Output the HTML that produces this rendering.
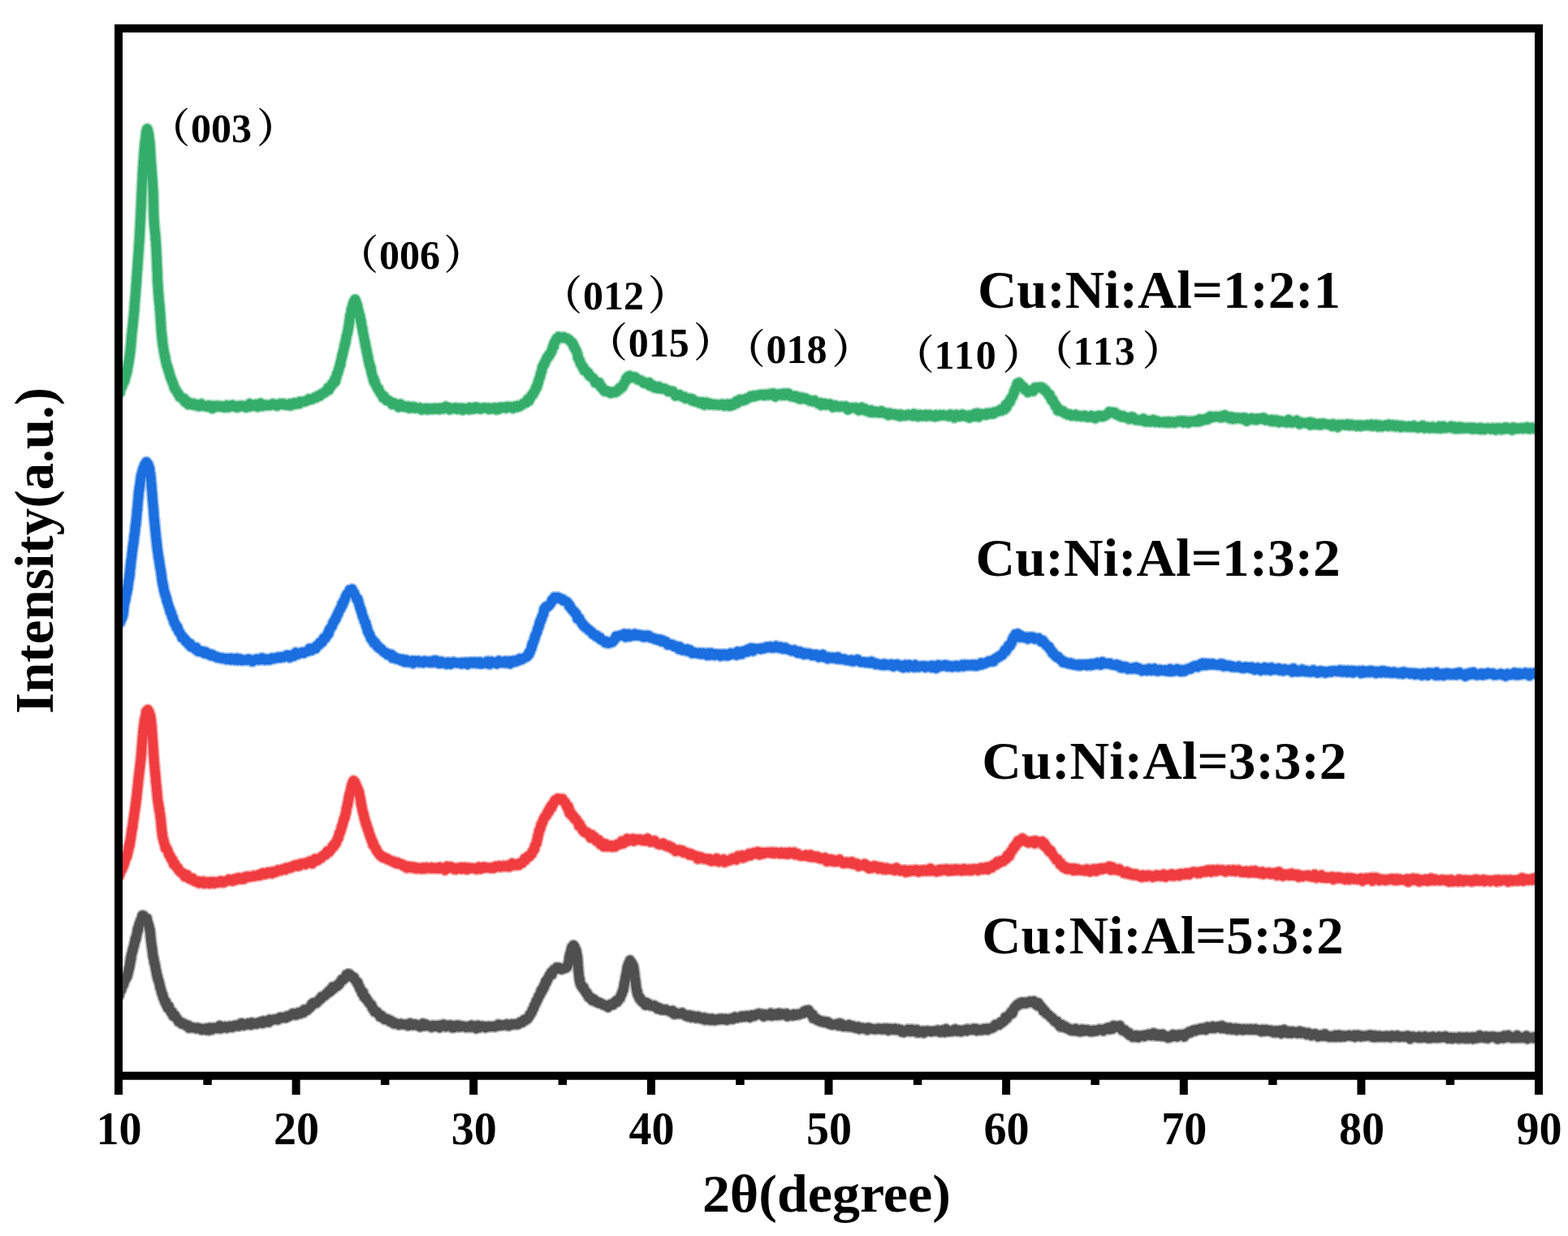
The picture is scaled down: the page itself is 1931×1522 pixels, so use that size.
<!DOCTYPE html>
<html><head><meta charset="utf-8"><title>XRD</title>
<style>
html,body{margin:0;padding:0;background:#fff;}
svg{display:block;}
.tk{font-family:"Liberation Serif", "Times New Roman", serif;font-weight:bold;font-size:56px;fill:#000;}
.lb{font-family:"Liberation Serif", "Times New Roman", serif;font-weight:bold;font-size:66px;fill:#000;}
.ml{font-family:"Liberation Serif", "Noto Serif CJK SC", serif;font-weight:bold;font-size:50px;fill:#000;}
.cj{font-family:"Liberation Serif", "Noto Serif CJK SC", serif;font-weight:bold;font-size:43px;fill:#000;}
.ax{font-family:"Liberation Serif", "Times New Roman", serif;font-weight:bold;font-size:65px;fill:#000;}
</style></head><body>
<svg width="1931" height="1522" viewBox="0 0 1931 1522">
<rect width="1931" height="1522" fill="#fff"/>
<clipPath id="pc"><rect x="141" y="30" width="1756" height="1300"/></clipPath><g clip-path="url(#pc)"><path d="M146.0,486.3 146.5,485.1 146.9,484.5 147.3,482.3 147.8,483.5 148.2,479.8 148.7,478.9 149.2,478.0 149.6,476.4 150.0,476.0 150.5,476.0 150.9,471.8 151.4,472.7 151.8,471.9 152.3,470.6 152.8,468.6 153.2,469.9 153.7,467.6 154.1,466.3 154.5,463.5 154.8,463.4 155.1,462.4 155.3,461.4 155.6,460.8 155.9,459.4 156.2,458.6 156.4,457.5 156.7,456.4 156.9,453.4 157.2,453.3 157.4,451.2 157.6,450.9 157.9,449.7 158.1,446.9 158.3,447.9 158.5,445.1 158.7,444.7 158.9,442.9 159.1,441.9 159.3,441.3 159.5,438.2 159.7,439.0 159.9,436.6 160.0,436.3 160.2,435.4 160.3,433.5 160.5,433.2 160.6,431.0 160.7,428.8 160.8,428.2 160.9,427.5 161.0,427.3 161.2,424.5 161.3,425.4 161.4,422.2 161.5,421.4 161.6,420.4 161.7,418.6 161.8,417.2 161.9,418.0 162.0,413.6 162.1,416.4 162.2,412.2 162.3,411.3 162.4,410.5 162.5,409.3 162.7,408.3 162.8,407.0 162.9,404.8 163.0,404.9 163.2,404.1 163.3,402.4 163.4,401.6 163.5,400.9 163.7,398.2 163.8,399.6 163.9,396.4 164.0,394.5 164.2,392.6 164.3,393.8 164.4,391.4 164.5,391.2 164.6,391.0 164.8,387.7 164.9,386.9 165.0,384.1 165.1,385.2 165.2,382.4 165.3,383.2 165.4,381.1 165.5,382.1 165.6,377.6 165.7,377.4 165.8,374.7 165.9,372.6 166.0,372.3 166.1,372.4 166.2,370.2 166.3,371.4 166.4,368.8 166.5,365.1 166.6,365.2 166.7,365.1 166.8,363.3 166.9,362.2 167.0,360.7 167.1,359.6 167.2,358.4 167.3,357.2 167.3,355.8 167.4,354.1 167.5,353.1 167.6,353.2 167.7,351.2 167.8,349.2 167.9,348.4 168.0,347.8 168.1,346.7 168.2,346.7 168.2,341.5 168.3,343.1 168.4,340.4 168.5,340.1 168.6,339.4 168.7,337.9 168.7,337.4 168.8,334.9 168.9,333.3 169.0,333.1 169.1,331.1 169.2,330.8 169.3,331.9 169.4,327.7 169.4,327.1 169.5,326.4 169.6,324.4 169.7,323.9 169.8,321.6 169.9,320.0 170.0,319.2 170.1,320.1 170.1,316.8 170.2,317.6 170.3,314.4 170.4,314.3 170.5,311.8 170.6,310.9 170.7,309.9 170.8,309.4 170.9,307.4 170.9,305.8 171.0,302.7 171.1,302.5 171.2,302.1 171.3,300.4 171.4,299.9 171.4,299.6 171.5,297.7 171.6,295.3 171.7,295.1 171.7,295.1 171.8,292.8 171.9,291.8 171.9,289.7 172.0,289.3 172.1,287.0 172.1,287.1 172.2,283.8 172.3,284.3 172.3,282.5 172.4,280.7 172.5,279.9 172.5,279.9 172.6,277.8 172.6,277.5 172.7,274.3 172.8,274.6 172.8,271.4 172.9,272.5 173.0,269.3 173.0,269.9 173.1,268.4 173.1,268.0 173.2,266.4 173.2,264.2 173.3,264.1 173.3,261.4 173.4,261.4 173.5,259.4 173.5,257.0 173.6,257.3 173.6,256.5 173.7,254.2 173.7,255.0 173.8,252.6 173.8,251.3 173.9,248.9 174.0,249.1 174.0,246.9 174.1,246.8 174.1,244.1 174.2,243.5 174.3,242.2 174.3,241.4 174.4,239.4 174.4,238.0 174.5,237.5 174.6,235.6 174.6,235.0 174.7,233.1 174.7,232.5 174.8,230.3 174.9,229.5 174.9,229.9 175.0,227.9 175.0,226.4 175.1,226.8 175.1,225.5 175.2,222.5 175.3,222.9 175.3,221.3 175.4,219.0 175.5,218.3 175.5,216.7 175.6,215.1 175.6,214.2 175.7,212.2 175.8,210.4 175.8,211.0 175.9,209.5 176.0,206.3 176.0,207.7 176.1,207.8 176.2,205.4 176.3,203.3 176.3,201.3 176.4,202.0 176.5,198.2 176.6,198.3 176.7,197.4 176.8,197.8 176.9,193.9 177.0,194.3 177.1,192.7 177.2,191.0 177.3,189.1 177.4,187.2 177.5,186.8 177.6,185.9 177.7,183.6 177.8,183.7 177.9,183.2 178.0,180.2 178.1,180.7 178.2,176.8 178.4,176.8 178.5,176.7 178.6,174.1 178.7,175.5 178.9,173.8 179.0,172.8 179.2,171.1 179.4,169.9 179.6,166.5 179.8,166.8 180.0,162.8 180.3,163.6 180.5,162.2 180.7,160.5 180.9,159.1 181.2,160.0 181.4,158.6 181.6,159.1 181.9,160.6 182.1,160.7 182.4,161.9 182.6,163.4 182.9,164.3 183.1,164.4 183.4,167.3 183.6,169.5 183.8,171.3 184.0,171.4 184.1,172.3 184.2,173.2 184.4,174.8 184.5,175.0 184.6,176.9 184.7,178.7 184.8,178.9 184.8,182.3 184.9,182.2 185.0,184.3 185.1,184.0 185.2,186.5 185.2,187.7 185.3,188.8 185.4,189.9 185.4,191.5 185.5,191.6 185.6,193.8 185.7,196.9 185.7,195.9 185.8,198.7 185.9,198.3 186.0,199.3 186.1,200.8 186.2,202.4 186.2,203.9 186.3,205.4 186.4,204.6 186.5,205.6 186.6,208.9 186.7,208.8 186.8,210.0 186.9,211.2 187.0,212.5 187.1,212.3 187.1,213.6 187.2,215.9 187.3,217.8 187.4,219.1 187.5,220.2 187.6,221.8 187.7,221.5 187.8,224.1 187.9,225.8 188.0,226.9 188.0,228.0 188.1,230.0 188.2,231.2 188.3,230.8 188.3,230.2 188.4,234.5 188.5,234.6 188.5,235.4 188.6,235.8 188.7,238.0 188.7,237.1 188.8,240.5 188.8,243.8 188.8,242.6 188.9,246.0 188.9,245.5 188.9,246.3 189.0,248.5 189.0,250.5 189.0,250.6 189.0,251.6 189.1,252.9 189.1,255.5 189.1,258.3 189.1,257.1 189.2,257.9 189.2,259.9 189.2,259.9 189.2,260.6 189.3,262.7 189.3,263.5 189.3,266.0 189.4,266.9 189.4,267.6 189.5,267.3 189.5,269.9 189.6,270.2 189.7,272.8 189.8,272.2 189.9,274.5 189.9,276.5 190.0,276.7 190.2,279.5 190.3,279.3 190.4,281.0 190.5,282.0 190.6,283.2 190.7,284.4 190.8,285.5 191.0,286.4 191.1,286.8 191.2,289.2 191.3,289.4 191.4,289.5 191.5,295.4 191.6,292.6 191.7,295.1 191.8,296.4 191.9,296.3 192.0,299.1 192.1,299.2 192.1,302.6 192.2,302.4 192.3,302.0 192.3,304.8 192.4,305.9 192.5,307.8 192.5,308.3 192.6,310.8 192.6,311.3 192.7,312.5 192.8,314.0 192.8,315.3 192.9,316.3 192.9,317.2 193.0,317.7 193.0,319.8 193.1,321.6 193.1,323.3 193.2,323.6 193.2,324.4 193.3,326.6 193.3,328.1 193.4,329.5 193.4,332.0 193.5,330.2 193.6,332.4 193.6,332.6 193.7,334.5 193.7,336.8 193.8,336.1 193.8,338.3 193.9,339.5 193.9,340.8 193.9,340.6 194.0,344.8 194.0,345.5 194.1,345.9 194.1,348.3 194.2,347.2 194.3,348.6 194.3,350.4 194.4,349.8 194.5,352.0 194.6,352.5 194.6,353.7 194.7,355.0 194.8,358.1 194.9,360.0 195.0,358.8 195.1,361.6 195.2,362.2 195.3,364.3 195.4,364.2 195.5,364.8 195.6,368.5 195.7,369.4 195.8,369.0 195.9,370.8 196.0,371.4 196.1,372.1 196.2,374.8 196.4,374.3 196.5,377.0 196.6,376.2 196.7,380.1 196.8,381.5 196.9,380.3 197.0,383.5 197.1,385.0 197.2,385.7 197.3,386.1 197.4,385.7 197.5,388.9 197.6,389.7 197.7,391.2 197.7,392.8 197.8,394.8 197.9,394.8 198.0,397.6 198.1,398.3 198.1,398.3 198.2,399.7 198.3,402.0 198.4,403.8 198.5,403.6 198.6,407.2 198.6,407.2 198.7,407.8 198.8,408.9 198.9,410.3 199.0,410.5 199.2,411.6 199.3,413.9 199.4,413.1 199.5,417.7 199.7,415.8 199.8,417.4 200.0,418.8 200.1,421.1 200.3,422.6 200.5,425.6 200.6,424.8 200.8,425.8 201.0,427.3 201.2,429.0 201.4,429.2 201.6,432.4 201.8,432.4 202.0,434.4 202.2,434.0 202.5,435.3 202.7,436.7 202.9,439.4 203.1,438.1 203.4,439.5 203.6,440.6 203.9,443.9 204.1,444.4 204.4,445.2 204.7,446.8 205.0,447.4 205.3,450.0 205.6,450.4 205.9,450.5 206.2,452.1 206.6,452.2 206.9,455.1 207.3,455.3 207.6,455.9 208.0,457.0 208.3,458.4 208.7,460.3 209.0,461.1 209.4,462.0 209.8,464.6 210.2,464.3 210.6,466.5 211.0,467.0 211.5,468.1 211.9,469.2 212.4,470.9 212.8,471.9 213.3,472.6 213.7,473.8 214.2,476.0 214.7,477.5 215.2,479.0 215.7,478.4 216.3,480.2 216.8,480.8 217.5,481.2 218.1,482.8 218.8,484.4 219.6,485.0 220.3,485.5 221.2,488.6 222.0,488.5 222.9,489.0 223.8,490.4 224.7,490.2 225.7,492.1 226.7,490.8 227.7,494.9 228.7,494.2 229.8,493.5 230.9,497.2 232.0,498.3 233.1,495.9 234.2,495.9 235.3,497.7 236.5,497.4 237.7,498.8 239.0,497.0 240.2,497.5 241.5,499.5 242.8,498.3 244.0,500.3 245.3,500.3 246.6,498.0 247.9,497.3 249.2,498.8 250.5,500.0 251.7,499.6 252.9,500.3 254.1,500.8 255.3,500.9 256.5,499.1 257.7,501.3 258.9,499.9 260.2,499.4 261.4,503.1 262.6,500.8 263.8,500.0 265.0,501.0 266.3,499.6 267.5,501.0 268.8,499.6 270.1,500.3 271.4,500.9 272.6,500.9 273.8,500.1 275.0,500.8 276.2,501.8 277.5,500.7 278.8,499.1 280.1,500.9 281.3,501.7 282.6,499.5 283.9,500.5 285.2,498.9 286.5,498.8 287.8,500.8 289.1,500.7 290.4,499.9 291.7,501.8 292.9,501.6 294.1,500.7 295.4,499.4 296.5,500.4 297.7,499.9 299.0,499.5 300.3,500.0 301.5,499.9 302.7,501.8 303.9,499.9 305.1,500.3 306.2,501.1 307.4,497.1 308.6,497.7 309.8,500.2 311.0,499.1 312.2,498.7 313.5,500.0 314.9,497.8 316.3,500.5 317.3,501.2 318.4,499.5 319.5,498.9 320.7,496.5 321.8,499.9 323.0,500.1 324.3,497.9 325.5,499.4 326.8,499.0 328.1,499.3 329.4,498.6 330.7,498.8 332.0,499.2 333.3,499.1 334.7,498.3 336.0,497.1 337.3,497.9 338.6,497.8 339.9,499.5 341.2,499.8 342.5,498.0 343.7,498.3 344.9,497.1 346.1,497.9 347.3,497.0 348.4,498.2 349.5,497.1 350.5,498.4 351.5,498.9 352.5,498.8 353.9,498.4 355.3,499.2 356.6,497.1 357.8,499.4 359.0,498.0 360.2,497.9 361.3,497.3 362.4,496.0 363.5,497.9 364.7,496.4 365.8,497.3 367.0,497.3 368.2,497.3 369.4,494.4 370.7,494.9 371.9,494.5 373.1,494.8 374.4,494.2 375.6,494.4 376.8,493.6 378.0,493.6 379.2,493.0 380.3,491.4 381.5,491.8 382.7,492.1 383.9,491.5 385.0,491.5 386.2,490.4 387.4,489.4 388.5,489.8 389.6,489.7 390.7,488.9 391.8,487.2 392.9,487.4 394.0,487.6 395.1,486.4 396.1,484.8 397.2,484.7 398.3,484.3 399.3,484.0 400.3,482.2 401.3,482.4 402.3,480.6 403.2,480.4 404.1,477.2 405.0,480.2 405.9,478.0 406.7,477.5 407.5,475.1 408.3,474.3 409.0,472.3 409.7,473.5 410.4,471.9 411.0,469.9 411.7,469.9 412.3,466.8 412.8,470.1 413.3,468.6 413.7,464.9 414.1,463.4 414.5,464.3 414.9,460.4 415.3,460.2 415.6,459.0 416.0,458.8 416.3,459.0 416.6,457.1 417.0,454.5 417.3,455.2 417.7,453.3 418.0,451.7 418.3,451.5 418.6,449.5 419.0,447.6 419.3,449.2 419.6,445.2 419.9,444.4 420.2,443.6 420.5,441.2 420.8,439.9 421.1,438.5 421.4,439.5 421.6,436.4 421.9,435.2 422.2,435.4 422.5,434.3 422.8,432.2 423.1,430.7 423.4,429.6 423.7,429.1 423.9,428.3 424.2,425.0 424.5,425.9 424.8,424.5 425.1,422.0 425.3,420.9 425.6,421.7 425.9,418.0 426.2,417.6 426.4,416.6 426.7,413.7 427.0,412.9 427.2,412.5 427.5,411.4 427.8,410.9 428.0,408.4 428.3,408.8 428.5,406.4 428.7,405.2 429.0,403.1 429.2,403.6 429.4,401.6 429.6,400.1 429.8,398.6 430.0,397.8 430.2,394.6 430.3,395.6 430.5,393.3 430.7,393.1 430.9,389.9 431.1,389.7 431.3,391.0 431.5,387.6 431.8,387.5 432.0,386.8 432.2,385.3 432.5,384.4 432.8,380.3 433.2,381.2 433.6,379.7 434.0,377.2 434.3,376.0 434.7,374.3 435.2,373.5 435.6,371.6 436.0,371.0 436.4,372.7 436.8,371.5 437.2,368.7 437.6,368.9 437.9,370.3 438.3,371.7 438.6,371.7 439.0,373.0 439.4,374.4 439.8,375.4 440.2,376.0 440.5,379.8 440.9,380.5 441.3,381.8 441.6,382.9 442.0,385.0 442.3,386.7 442.7,388.3 443.0,390.1 443.3,388.5 443.6,391.4 443.9,395.0 444.1,392.6 444.4,394.4 444.6,395.4 444.9,396.4 445.1,400.0 445.3,399.5 445.5,402.2 445.7,402.2 446.0,403.1 446.2,404.8 446.4,404.3 446.6,407.3 446.8,409.3 447.1,408.9 447.3,411.6 447.5,411.8 447.8,413.1 448.0,413.9 448.2,415.2 448.5,417.5 448.7,417.3 448.9,419.8 449.2,419.5 449.4,422.6 449.7,421.9 449.9,423.3 450.1,426.7 450.4,426.2 450.6,427.5 450.9,428.7 451.1,429.5 451.4,432.9 451.6,431.1 451.9,434.1 452.1,434.9 452.4,437.2 452.6,438.0 452.9,437.6 453.1,440.4 453.4,439.8 453.6,443.8 453.9,444.1 454.1,445.2 454.4,445.2 454.7,448.8 454.9,447.5 455.2,448.3 455.5,449.5 455.8,452.0 456.1,452.3 456.4,453.9 456.7,452.6 457.0,455.7 457.4,458.4 457.7,459.5 458.1,461.1 458.4,461.9 458.8,463.0 459.1,464.4 459.5,466.0 459.9,468.2 460.3,466.1 460.7,470.8 461.1,470.2 461.5,469.2 462.0,471.4 462.5,473.6 463.0,474.0 463.5,475.2 464.1,476.5 464.7,477.5 465.3,479.3 466.0,478.5 466.6,480.1 467.3,482.1 468.0,483.0 468.8,484.7 469.5,485.2 470.3,486.4 471.0,487.2 471.8,489.8 472.6,487.5 473.5,488.9 474.3,490.5 475.2,490.8 476.1,493.1 477.0,493.1 478.0,493.6 478.9,493.4 479.9,494.5 480.9,494.6 482.0,495.5 483.0,498.1 484.1,497.6 485.3,496.3 486.5,498.2 487.7,498.2 488.7,499.2 489.7,497.9 490.8,501.4 491.9,498.1 493.0,497.5 494.1,500.6 495.3,499.1 496.5,500.1 497.7,501.3 498.9,500.4 500.1,501.0 501.4,501.7 502.7,500.3 504.0,502.6 505.3,502.1 506.6,502.5 507.9,500.8 509.2,501.7 510.6,501.2 511.9,502.7 513.2,502.3 514.6,502.4 515.7,502.8 516.8,502.0 518.0,502.7 519.1,504.5 520.3,503.5 521.4,503.0 522.6,502.9 523.8,503.1 525.0,502.8 526.2,504.6 527.4,502.7 528.7,504.0 529.9,504.1 531.1,503.0 532.4,504.0 533.6,503.4 534.9,502.7 536.2,503.8 537.4,502.7 538.7,503.1 540.0,502.6 541.2,504.3 542.5,502.4 543.8,502.7 545.0,502.9 546.3,503.4 547.5,502.7 548.8,500.6 550.0,501.8 551.3,501.5 552.5,501.6 553.8,504.3 555.0,503.9 556.2,503.4 557.5,502.8 558.7,502.6 559.9,503.1 561.2,502.1 562.4,502.9 563.6,504.0 564.9,502.4 566.1,503.8 567.3,502.6 568.6,502.6 569.8,505.0 571.1,502.7 572.3,502.7 573.5,503.3 574.8,503.0 576.0,503.8 577.2,504.4 578.5,501.7 579.7,503.0 580.9,504.0 582.2,502.0 583.4,502.8 584.6,503.5 585.8,501.2 587.0,502.4 588.2,501.8 589.5,503.1 590.7,502.7 591.8,503.7 593.0,503.1 594.2,502.8 595.4,502.2 596.7,502.0 598.0,502.3 599.3,502.9 600.7,502.4 602.0,504.0 603.4,502.7 604.7,503.6 606.1,503.5 607.5,502.7 608.8,501.9 610.2,502.3 611.5,504.5 612.9,503.4 614.2,504.0 615.5,501.4 616.8,501.5 618.0,502.4 619.3,501.5 620.5,501.6 621.7,501.4 622.9,502.7 624.0,500.9 625.1,501.1 626.2,501.5 627.2,500.7 628.2,501.1 629.1,501.1 630.0,501.6 631.5,502.8 632.9,501.8 634.2,500.2 635.4,501.6 636.6,501.5 637.7,499.6 638.8,500.0 640.0,500.4 641.1,499.5 642.2,498.6 643.4,498.2 644.5,496.7 645.6,496.4 646.7,495.4 647.8,496.1 648.8,494.3 649.8,491.7 650.8,493.4 651.6,493.6 652.4,489.9 653.1,488.7 653.8,489.1 654.5,487.2 655.2,486.0 655.9,486.3 656.6,485.5 657.2,483.4 657.8,483.3 658.4,481.9 659.0,480.9 659.5,478.8 660.1,476.9 660.6,476.8 661.0,477.3 661.5,475.6 661.9,473.8 662.3,471.8 662.7,472.0 663.1,470.6 663.5,467.7 663.8,467.5 664.2,466.1 664.6,465.0 665.0,464.5 665.3,463.1 665.7,460.6 666.0,460.0 666.4,458.5 666.7,458.3 667.1,457.1 667.4,455.5 667.8,453.1 668.1,451.3 668.5,452.0 668.9,450.1 669.4,449.1 669.9,448.2 670.4,448.6 670.9,446.6 671.5,444.8 672.0,444.9 672.6,443.2 673.2,441.9 673.8,440.1 674.4,440.9 675.1,439.2 675.8,437.1 676.5,438.1 677.1,435.9 677.8,435.6 678.4,434.7 679.0,432.6 679.6,432.1 680.1,429.7 680.6,427.9 681.0,426.2 681.5,426.6 682.0,426.9 682.4,423.1 682.9,421.5 683.4,421.2 684.1,420.6 684.7,418.6 685.4,417.0 686.1,417.0 687.0,417.5 688.1,414.6 689.3,415.1 690.6,415.2 692.0,415.2 693.1,416.1 694.2,415.1 695.4,415.7 696.7,416.2 698.0,416.6 699.2,417.7 700.3,418.0 701.4,418.8 702.3,420.3 703.1,420.8 703.9,421.3 704.6,421.7 705.3,424.1 706.0,424.1 706.6,427.3 707.3,427.1 707.9,429.6 708.6,429.9 709.1,430.3 709.6,432.0 710.0,432.7 710.5,434.2 710.9,435.0 711.3,435.9 711.7,440.8 712.2,440.5 712.6,441.2 713.0,442.8 713.4,443.9 713.9,443.6 714.4,445.8 714.8,448.0 715.4,447.7 715.9,449.0 716.6,449.4 717.3,452.2 718.0,451.5 718.7,452.5 719.4,456.3 720.2,455.5 721.0,456.3 721.8,457.0 722.6,457.5 723.4,459.1 724.3,459.1 725.1,461.2 725.9,462.9 726.8,462.5 727.6,464.0 728.5,464.8 729.4,465.1 730.4,465.6 731.3,466.8 732.2,468.1 733.2,471.5 734.1,470.9 735.0,471.2 735.9,471.3 736.8,472.1 737.7,471.0 738.7,472.9 739.7,476.5 740.7,477.1 741.6,477.0 742.6,479.1 743.5,480.4 744.5,481.7 745.5,480.9 746.4,482.1 747.5,481.4 748.5,481.8 749.7,481.9 750.9,483.5 752.1,484.2 753.4,483.9 754.6,482.5 755.9,483.1 757.1,482.9 758.2,483.1 759.3,481.3 760.3,481.9 761.3,480.2 762.2,478.5 763.1,479.6 763.9,477.1 764.8,477.3 765.6,476.3 766.4,476.9 767.3,474.1 768.1,473.9 768.9,471.3 769.6,470.5 770.3,469.7 771.0,466.3 771.8,468.0 772.6,467.1 773.4,463.5 774.4,464.6 775.4,462.7 776.3,464.1 777.4,464.4 778.4,465.0 779.6,464.9 780.7,464.4 781.9,464.3 783.2,465.1 784.4,467.0 785.7,467.4 786.9,468.0 788.1,468.0 789.3,468.9 790.5,468.9 791.6,470.1 792.8,471.8 793.9,471.9 795.1,471.1 796.2,471.7 797.3,472.9 798.4,472.0 799.5,471.0 800.5,475.2 801.6,474.3 802.7,474.2 803.9,474.3 805.0,475.9 806.2,477.6 807.4,477.7 808.7,476.2 809.9,478.2 811.1,475.9 812.4,478.4 813.6,478.5 814.8,477.9 816.1,478.9 817.3,478.7 818.5,478.4 819.6,479.1 820.8,479.8 821.9,480.8 823.0,482.0 824.1,481.1 825.3,482.3 826.4,481.9 827.5,483.0 828.6,481.8 829.7,484.1 830.9,484.5 832.0,487.5 833.2,485.7 834.4,486.7 835.6,486.8 836.9,485.9 838.1,487.4 839.3,488.4 840.5,488.2 841.7,489.3 843.0,488.5 844.2,490.7 845.4,489.9 846.5,490.4 847.7,490.6 848.8,491.1 849.9,491.4 851.0,490.7 852.1,493.4 853.3,491.7 854.4,492.8 855.5,494.1 856.6,494.7 857.8,494.6 858.9,495.1 860.1,494.8 861.3,496.4 862.6,496.3 863.8,496.2 865.0,495.0 866.2,498.0 867.5,498.6 868.7,497.2 869.9,495.5 871.2,497.5 872.4,497.4 873.6,498.4 874.8,497.0 876.0,497.6 877.2,497.5 878.5,498.5 879.7,497.7 880.9,497.9 882.1,498.1 883.3,498.7 884.6,498.2 885.8,498.9 887.0,498.5 888.2,498.0 889.4,497.5 890.6,498.3 891.8,499.9 893.0,498.3 894.2,499.1 895.5,497.5 896.7,499.3 897.8,500.1 899.0,497.6 900.2,499.7 901.4,499.2 902.5,497.0 903.6,498.6 904.7,497.6 905.8,496.1 906.9,494.0 908.0,496.4 909.1,494.9 910.2,492.7 911.4,491.9 912.5,493.5 913.7,493.3 914.8,493.5 915.9,492.8 917.1,491.5 918.2,492.5 919.4,490.4 920.5,490.4 921.7,490.2 922.9,489.3 924.1,488.0 925.3,488.7 926.5,488.7 927.7,487.2 928.9,487.0 930.0,488.0 931.2,487.2 932.4,486.8 933.7,487.0 934.9,486.4 936.1,486.0 937.3,485.8 938.5,485.7 939.8,486.6 941.0,487.1 942.2,485.7 943.5,486.6 944.7,485.5 946.0,486.8 947.3,485.6 948.5,484.9 949.7,486.2 950.9,485.7 952.2,484.3 953.5,486.5 954.7,488.5 956.0,486.7 957.3,486.2 958.6,485.2 959.8,485.7 961.1,484.9 962.4,486.9 963.7,486.1 965.0,484.5 966.2,486.9 967.5,484.8 968.7,484.4 969.9,486.0 971.1,484.5 972.3,487.0 973.5,488.0 974.7,487.4 975.8,487.5 977.0,488.7 978.2,487.4 979.4,489.3 980.6,487.8 981.8,489.7 983.0,488.7 984.1,491.2 985.3,491.4 986.5,490.3 987.7,489.5 988.9,490.6 990.1,491.0 991.3,490.7 992.5,490.5 993.6,491.9 994.8,492.3 996.0,492.2 997.2,493.6 998.4,493.0 999.6,493.4 1000.8,494.3 1001.9,493.7 1003.1,493.1 1004.3,494.7 1005.5,495.3 1006.7,496.0 1007.9,497.1 1009.1,496.9 1010.3,495.9 1011.4,499.1 1012.6,496.6 1013.7,498.0 1014.9,497.4 1016.1,496.7 1017.2,498.7 1018.4,497.6 1019.6,498.3 1020.7,498.4 1021.9,497.4 1023.1,499.1 1024.4,498.8 1025.6,501.5 1026.8,500.0 1028.1,500.7 1029.2,499.3 1030.4,500.8 1031.6,500.6 1032.8,500.6 1034.0,501.1 1035.3,500.2 1036.5,500.6 1037.8,500.8 1039.0,500.4 1040.3,500.9 1041.5,500.4 1042.8,501.4 1044.1,504.4 1045.3,503.9 1046.6,502.3 1047.8,502.4 1049.1,502.1 1050.3,502.1 1051.5,502.5 1052.7,502.3 1053.9,501.8 1055.0,503.7 1056.3,503.0 1057.5,505.4 1058.7,503.2 1060.0,504.1 1061.2,501.6 1062.3,504.8 1063.5,504.7 1064.7,502.9 1065.9,504.7 1067.0,506.1 1068.2,505.3 1069.3,506.1 1070.5,507.4 1071.7,506.8 1072.8,504.9 1074.0,508.0 1075.2,506.4 1076.5,507.9 1077.7,507.3 1079.0,506.6 1080.2,507.6 1081.5,508.2 1082.8,507.3 1084.0,508.3 1085.3,506.1 1086.6,508.2 1087.8,507.6 1089.1,507.8 1090.3,509.4 1091.6,508.6 1092.9,509.7 1094.1,511.2 1095.4,508.5 1096.7,509.2 1097.9,510.5 1099.2,510.2 1100.4,510.7 1101.7,509.8 1103.0,511.3 1104.2,511.3 1105.5,510.4 1106.8,512.2 1108.0,512.6 1109.3,510.3 1110.5,512.1 1111.8,511.2 1113.1,511.9 1114.3,511.3 1115.6,511.9 1116.9,511.2 1118.1,510.4 1119.3,510.7 1120.5,511.2 1121.7,511.2 1122.9,512.0 1124.1,512.3 1125.4,509.5 1126.6,510.6 1127.8,510.3 1129.1,511.3 1130.4,513.1 1131.7,511.5 1133.0,510.7 1134.4,511.8 1135.8,512.4 1136.9,511.2 1138.0,512.0 1139.1,511.9 1140.3,510.5 1141.4,512.7 1142.6,511.1 1143.8,511.6 1145.0,510.8 1146.3,512.1 1147.5,512.3 1148.7,512.5 1150.0,511.6 1151.3,513.2 1152.6,510.8 1153.8,511.6 1155.1,512.4 1156.4,511.7 1157.7,510.9 1159.0,511.8 1160.3,511.4 1161.6,510.7 1162.8,511.4 1164.1,511.6 1165.4,511.6 1166.7,512.2 1167.9,512.7 1169.2,512.1 1170.4,510.3 1171.6,510.7 1172.8,511.5 1174.1,511.6 1175.3,514.5 1176.6,511.6 1177.8,510.4 1179.1,511.8 1180.3,511.4 1181.6,512.9 1182.8,511.3 1184.1,512.5 1185.3,510.3 1186.6,511.6 1187.8,512.1 1189.1,512.8 1190.3,511.7 1191.5,512.5 1192.7,512.5 1193.9,514.4 1195.1,511.2 1196.3,511.4 1197.5,512.5 1198.6,511.5 1199.7,512.9 1200.9,509.2 1202.0,510.8 1203.0,512.7 1204.1,508.7 1205.4,513.4 1206.7,511.2 1208.0,509.6 1209.3,510.7 1210.6,510.1 1211.8,510.1 1213.0,509.5 1214.2,511.1 1215.4,508.7 1216.6,510.2 1217.7,509.1 1218.9,508.6 1220.0,509.7 1221.1,509.3 1222.2,509.2 1223.2,509.5 1224.3,507.5 1225.6,508.0 1226.8,507.5 1228.0,506.6 1229.2,506.6 1230.4,506.0 1231.5,505.0 1232.7,503.9 1233.7,505.7 1234.8,503.2 1235.8,503.6 1236.8,504.5 1237.7,501.7 1238.6,498.6 1239.5,501.8 1240.3,497.0 1241.1,498.6 1241.8,495.9 1242.6,495.1 1243.2,493.4 1243.9,494.9 1244.6,491.0 1245.2,491.1 1245.8,489.8 1246.4,488.6 1247.0,488.4 1247.5,486.8 1248.0,485.0 1248.5,484.5 1249.0,481.6 1249.5,482.3 1249.9,480.8 1250.3,479.9 1250.8,477.5 1251.2,478.0 1251.8,477.0 1252.3,473.5 1252.8,472.0 1253.4,471.8 1254.2,472.2 1254.9,471.1 1255.6,471.8 1256.4,475.3 1257.3,473.8 1258.2,475.8 1259.1,475.4 1260.1,478.0 1261.0,477.0 1262.0,479.9 1263.3,479.3 1264.6,480.3 1265.9,483.1 1267.3,480.8 1268.7,480.6 1270.0,481.3 1271.2,481.4 1272.3,481.7 1273.5,479.4 1274.6,477.3 1275.8,477.7 1276.9,477.1 1278.1,477.5 1279.3,477.3 1280.4,476.8 1281.6,477.7 1282.8,476.9 1284.0,477.6 1285.1,478.2 1286.2,480.4 1287.0,480.3 1287.8,480.6 1288.6,482.1 1289.3,483.2 1290.0,484.3 1290.7,484.4 1291.4,486.7 1292.1,486.5 1292.8,485.9 1293.6,489.8 1294.3,490.2 1295.0,492.8 1295.7,492.9 1296.3,491.9 1297.0,494.2 1297.6,495.9 1298.3,496.3 1299.0,497.3 1299.7,500.1 1300.4,498.9 1301.1,501.5 1301.9,501.3 1302.8,505.7 1303.7,503.1 1304.7,505.4 1305.6,506.2 1306.7,506.4 1307.8,507.2 1308.9,506.0 1310.0,507.5 1311.2,509.0 1312.3,508.5 1313.5,509.4 1314.8,510.7 1316.0,510.1 1317.2,509.9 1318.5,511.4 1319.7,512.0 1320.9,511.8 1322.1,511.2 1323.3,511.4 1324.6,510.4 1325.9,512.6 1327.1,512.0 1328.4,512.3 1329.8,512.0 1331.1,512.9 1332.4,512.7 1333.7,512.8 1334.9,511.8 1336.2,511.8 1337.5,512.6 1338.7,513.8 1340.0,513.8 1341.3,513.5 1342.6,512.9 1343.9,512.0 1345.1,512.9 1346.4,514.3 1347.7,513.1 1348.9,515.2 1350.2,512.9 1351.4,512.3 1352.6,511.8 1353.9,512.9 1355.0,511.7 1356.2,512.6 1357.5,513.2 1358.8,511.9 1360.1,512.4 1361.4,510.8 1362.6,510.6 1363.8,510.5 1365.0,508.4 1366.2,507.0 1367.4,508.3 1368.6,507.9 1369.7,507.6 1370.9,507.7 1372.0,508.1 1373.1,508.0 1374.2,510.3 1375.2,509.8 1376.3,511.0 1377.5,510.8 1378.7,512.5 1380.0,512.3 1381.0,513.4 1382.0,512.3 1383.1,512.1 1384.1,513.1 1385.3,514.1 1386.4,514.1 1387.5,513.7 1388.7,514.3 1389.9,516.0 1391.1,514.3 1392.4,515.9 1393.6,513.2 1394.9,513.5 1396.2,515.4 1397.5,515.4 1398.9,517.3 1400.2,517.0 1401.3,516.9 1402.3,517.6 1403.4,517.0 1404.5,517.2 1405.7,517.9 1406.8,517.7 1408.0,515.4 1409.2,518.8 1410.4,519.2 1411.6,519.4 1412.8,518.4 1414.0,517.9 1415.3,517.8 1416.5,519.6 1417.7,518.3 1419.0,518.8 1420.2,516.7 1421.5,518.3 1422.8,519.8 1424.0,519.1 1425.3,518.4 1426.5,519.3 1427.8,520.2 1429.0,519.9 1430.2,519.7 1431.5,519.6 1432.7,520.1 1433.9,519.3 1435.1,519.7 1436.3,520.5 1437.5,519.4 1438.8,519.0 1440.0,520.7 1441.3,520.1 1442.5,519.3 1443.8,520.2 1445.0,520.2 1446.3,520.7 1447.5,520.3 1448.8,519.0 1450.0,519.6 1451.2,518.6 1452.5,518.9 1453.7,519.2 1454.9,518.1 1456.1,518.4 1457.3,520.5 1458.5,519.3 1459.7,518.3 1460.9,518.9 1462.0,519.6 1463.2,520.8 1464.3,520.0 1465.4,518.8 1466.4,519.4 1467.5,518.9 1468.8,518.7 1470.1,519.2 1471.4,518.6 1472.7,517.9 1473.9,519.4 1475.1,518.9 1476.3,519.1 1477.5,516.1 1478.7,517.0 1479.8,518.3 1480.9,516.5 1482.1,517.1 1483.2,517.0 1484.3,515.7 1485.5,515.5 1486.6,516.8 1487.7,515.8 1489.0,515.6 1490.3,512.6 1491.5,514.5 1492.7,513.2 1493.9,513.8 1495.1,513.5 1496.3,513.4 1497.5,512.8 1498.7,513.1 1500.0,513.2 1501.2,513.5 1502.6,514.2 1503.9,512.4 1505.0,512.9 1506.1,513.9 1507.3,512.1 1508.4,511.3 1509.6,512.6 1510.8,512.3 1512.0,513.1 1513.2,514.7 1514.4,515.4 1515.6,514.8 1516.8,513.2 1518.1,516.1 1519.3,515.1 1520.6,514.5 1521.8,515.6 1523.1,514.4 1524.3,514.7 1525.6,514.4 1526.9,514.9 1528.1,515.8 1529.3,514.5 1530.5,514.4 1531.7,516.6 1532.9,514.2 1534.1,516.2 1535.3,518.6 1536.5,516.7 1537.8,515.9 1539.0,515.8 1540.2,516.5 1541.5,515.0 1542.7,515.7 1543.9,515.9 1545.2,517.0 1546.4,515.5 1547.6,517.2 1548.9,515.5 1550.1,516.1 1551.3,515.4 1552.5,516.1 1553.8,515.8 1555.0,514.6 1556.2,514.5 1557.5,515.5 1558.7,517.6 1559.9,516.6 1561.1,517.3 1562.4,517.5 1563.6,518.1 1564.8,518.7 1566.0,516.7 1567.3,518.9 1568.5,519.0 1569.7,517.2 1571.0,517.4 1572.2,517.3 1573.4,518.4 1574.6,520.2 1575.9,519.2 1577.1,518.3 1578.3,518.8 1579.5,519.4 1580.8,519.0 1582.0,519.2 1583.2,519.8 1584.4,520.4 1585.7,519.2 1586.9,516.8 1588.1,519.9 1589.3,519.2 1590.6,520.6 1591.8,520.6 1593.0,519.0 1594.2,519.5 1595.5,519.1 1596.7,517.6 1597.9,519.7 1599.1,520.2 1600.3,522.2 1601.6,519.8 1602.8,521.0 1604.0,520.4 1605.2,520.6 1606.5,520.9 1607.7,520.8 1608.9,521.3 1610.1,521.0 1611.3,520.7 1612.5,519.7 1613.7,523.4 1614.9,520.1 1616.1,521.8 1617.3,522.8 1618.5,521.0 1619.7,522.7 1620.9,522.8 1622.1,522.1 1623.3,522.5 1624.5,523.3 1625.7,521.5 1626.9,523.3 1628.2,521.8 1629.4,521.2 1630.7,521.8 1631.9,522.1 1633.2,522.2 1634.5,522.7 1635.8,522.8 1636.9,522.8 1638.0,522.8 1639.2,523.1 1640.3,524.8 1641.5,522.1 1642.6,523.3 1643.8,524.8 1645.0,523.2 1646.2,524.2 1647.3,525.9 1648.5,522.8 1649.7,524.0 1650.9,523.5 1652.1,523.2 1653.3,522.8 1654.6,523.1 1655.8,523.2 1657.0,523.8 1658.2,523.3 1659.5,522.4 1660.7,523.3 1661.9,524.1 1663.2,523.7 1664.4,522.8 1665.7,523.9 1666.9,523.6 1668.2,523.4 1669.4,524.1 1670.7,524.9 1671.9,523.6 1673.1,523.5 1674.2,524.0 1675.4,525.0 1676.6,523.4 1677.7,523.4 1678.9,524.2 1680.1,524.1 1681.3,524.0 1682.5,524.0 1683.7,523.1 1684.9,523.5 1686.1,524.1 1687.3,524.1 1688.5,522.6 1689.7,524.8 1690.9,524.8 1692.1,524.1 1693.3,523.3 1694.5,522.8 1695.7,524.4 1697.0,525.6 1698.2,524.7 1699.4,523.7 1700.6,524.4 1701.8,525.3 1703.0,524.3 1704.2,524.2 1705.5,524.3 1706.7,523.4 1707.9,524.3 1709.1,525.0 1710.3,522.6 1711.5,524.8 1712.7,523.4 1713.9,523.5 1715.1,523.1 1716.4,525.1 1717.6,525.0 1718.8,525.4 1720.1,523.6 1721.3,525.0 1722.5,525.2 1723.8,524.3 1725.0,526.3 1726.2,524.1 1727.5,524.6 1728.7,525.5 1729.9,525.2 1731.2,525.1 1732.4,525.8 1733.6,525.2 1734.8,524.8 1736.1,525.9 1737.3,526.1 1738.5,525.0 1739.8,526.1 1741.0,524.1 1742.2,525.1 1743.5,525.4 1744.7,525.5 1745.9,527.0 1747.2,525.7 1748.4,526.3 1749.6,525.1 1750.9,526.2 1752.1,523.9 1753.3,526.5 1754.6,527.3 1755.8,526.6 1757.0,525.8 1758.2,525.6 1759.4,526.2 1760.6,527.5 1761.8,526.3 1763.0,526.0 1764.2,525.5 1765.4,527.2 1766.6,527.3 1767.8,526.9 1769.0,526.5 1770.2,527.5 1771.4,527.5 1772.6,524.8 1773.8,527.8 1775.0,527.0 1776.2,526.1 1777.4,524.8 1778.6,526.9 1779.8,527.3 1781.0,526.5 1782.2,526.3 1783.4,526.8 1784.6,526.3 1785.8,525.8 1787.0,524.8 1788.2,526.5 1789.4,527.4 1790.6,526.0 1791.8,525.4 1793.0,528.1 1794.2,528.0 1795.4,526.5 1796.6,528.0 1797.8,525.5 1799.0,527.6 1800.3,527.7 1801.5,526.5 1802.7,527.2 1803.9,527.6 1805.1,527.5 1806.3,526.4 1807.5,526.6 1808.7,526.9 1809.9,527.8 1811.1,526.5 1812.3,527.4 1813.5,528.6 1814.7,526.4 1815.9,526.9 1817.1,527.1 1818.3,528.3 1819.6,527.8 1820.8,527.8 1822.0,526.8 1823.2,528.9 1824.4,526.7 1825.7,527.9 1826.9,527.7 1828.1,529.1 1829.4,527.8 1830.6,527.3 1831.9,527.0 1833.2,527.6 1834.5,527.7 1835.8,528.6 1837.1,528.1 1838.4,527.2 1839.7,528.1 1840.8,527.9 1842.0,529.5 1843.1,527.1 1844.3,528.2 1845.4,528.1 1846.6,527.1 1847.8,528.0 1848.9,529.1 1850.1,527.4 1851.3,527.3 1852.5,528.6 1853.7,526.2 1854.9,527.4 1856.1,526.7 1857.3,528.0 1858.5,528.3 1859.8,527.9 1861.0,527.2 1862.2,529.5 1863.5,526.2 1864.7,527.4 1865.9,527.6 1867.2,528.1 1868.4,527.3 1869.7,527.5 1870.9,527.9 1872.2,527.3 1873.4,527.1 1874.7,526.7 1875.9,528.0 1877.2,527.3 1878.4,527.3 1879.7,527.5 1880.9,525.9 1882.2,528.1 1883.4,528.3 1884.6,527.2 1885.9,526.7 1887.1,526.5 1888.4,527.8 1889.6,527.1 1890.9,527.9 1892.1,528.5 1893.3,526.6 1894.6,527.6 1895.8,526.5 1897.0,527.2" fill="none" stroke="#34AD6B" stroke-width="15" stroke-opacity="0.45" stroke-linejoin="round"/>
<path d="M146.0,486.3 146.5,485.1 146.9,484.5 147.3,482.3 147.8,483.5 148.2,479.8 148.7,478.9 149.2,478.0 149.6,476.4 150.0,476.0 150.5,476.0 150.9,471.8 151.4,472.7 151.8,471.9 152.3,470.6 152.8,468.6 153.2,469.9 153.7,467.6 154.1,466.3 154.5,463.5 154.8,463.4 155.1,462.4 155.3,461.4 155.6,460.8 155.9,459.4 156.2,458.6 156.4,457.5 156.7,456.4 156.9,453.4 157.2,453.3 157.4,451.2 157.6,450.9 157.9,449.7 158.1,446.9 158.3,447.9 158.5,445.1 158.7,444.7 158.9,442.9 159.1,441.9 159.3,441.3 159.5,438.2 159.7,439.0 159.9,436.6 160.0,436.3 160.2,435.4 160.3,433.5 160.5,433.2 160.6,431.0 160.7,428.8 160.8,428.2 160.9,427.5 161.0,427.3 161.2,424.5 161.3,425.4 161.4,422.2 161.5,421.4 161.6,420.4 161.7,418.6 161.8,417.2 161.9,418.0 162.0,413.6 162.1,416.4 162.2,412.2 162.3,411.3 162.4,410.5 162.5,409.3 162.7,408.3 162.8,407.0 162.9,404.8 163.0,404.9 163.2,404.1 163.3,402.4 163.4,401.6 163.5,400.9 163.7,398.2 163.8,399.6 163.9,396.4 164.0,394.5 164.2,392.6 164.3,393.8 164.4,391.4 164.5,391.2 164.6,391.0 164.8,387.7 164.9,386.9 165.0,384.1 165.1,385.2 165.2,382.4 165.3,383.2 165.4,381.1 165.5,382.1 165.6,377.6 165.7,377.4 165.8,374.7 165.9,372.6 166.0,372.3 166.1,372.4 166.2,370.2 166.3,371.4 166.4,368.8 166.5,365.1 166.6,365.2 166.7,365.1 166.8,363.3 166.9,362.2 167.0,360.7 167.1,359.6 167.2,358.4 167.3,357.2 167.3,355.8 167.4,354.1 167.5,353.1 167.6,353.2 167.7,351.2 167.8,349.2 167.9,348.4 168.0,347.8 168.1,346.7 168.2,346.7 168.2,341.5 168.3,343.1 168.4,340.4 168.5,340.1 168.6,339.4 168.7,337.9 168.7,337.4 168.8,334.9 168.9,333.3 169.0,333.1 169.1,331.1 169.2,330.8 169.3,331.9 169.4,327.7 169.4,327.1 169.5,326.4 169.6,324.4 169.7,323.9 169.8,321.6 169.9,320.0 170.0,319.2 170.1,320.1 170.1,316.8 170.2,317.6 170.3,314.4 170.4,314.3 170.5,311.8 170.6,310.9 170.7,309.9 170.8,309.4 170.9,307.4 170.9,305.8 171.0,302.7 171.1,302.5 171.2,302.1 171.3,300.4 171.4,299.9 171.4,299.6 171.5,297.7 171.6,295.3 171.7,295.1 171.7,295.1 171.8,292.8 171.9,291.8 171.9,289.7 172.0,289.3 172.1,287.0 172.1,287.1 172.2,283.8 172.3,284.3 172.3,282.5 172.4,280.7 172.5,279.9 172.5,279.9 172.6,277.8 172.6,277.5 172.7,274.3 172.8,274.6 172.8,271.4 172.9,272.5 173.0,269.3 173.0,269.9 173.1,268.4 173.1,268.0 173.2,266.4 173.2,264.2 173.3,264.1 173.3,261.4 173.4,261.4 173.5,259.4 173.5,257.0 173.6,257.3 173.6,256.5 173.7,254.2 173.7,255.0 173.8,252.6 173.8,251.3 173.9,248.9 174.0,249.1 174.0,246.9 174.1,246.8 174.1,244.1 174.2,243.5 174.3,242.2 174.3,241.4 174.4,239.4 174.4,238.0 174.5,237.5 174.6,235.6 174.6,235.0 174.7,233.1 174.7,232.5 174.8,230.3 174.9,229.5 174.9,229.9 175.0,227.9 175.0,226.4 175.1,226.8 175.1,225.5 175.2,222.5 175.3,222.9 175.3,221.3 175.4,219.0 175.5,218.3 175.5,216.7 175.6,215.1 175.6,214.2 175.7,212.2 175.8,210.4 175.8,211.0 175.9,209.5 176.0,206.3 176.0,207.7 176.1,207.8 176.2,205.4 176.3,203.3 176.3,201.3 176.4,202.0 176.5,198.2 176.6,198.3 176.7,197.4 176.8,197.8 176.9,193.9 177.0,194.3 177.1,192.7 177.2,191.0 177.3,189.1 177.4,187.2 177.5,186.8 177.6,185.9 177.7,183.6 177.8,183.7 177.9,183.2 178.0,180.2 178.1,180.7 178.2,176.8 178.4,176.8 178.5,176.7 178.6,174.1 178.7,175.5 178.9,173.8 179.0,172.8 179.2,171.1 179.4,169.9 179.6,166.5 179.8,166.8 180.0,162.8 180.3,163.6 180.5,162.2 180.7,160.5 180.9,159.1 181.2,160.0 181.4,158.6 181.6,159.1 181.9,160.6 182.1,160.7 182.4,161.9 182.6,163.4 182.9,164.3 183.1,164.4 183.4,167.3 183.6,169.5 183.8,171.3 184.0,171.4 184.1,172.3 184.2,173.2 184.4,174.8 184.5,175.0 184.6,176.9 184.7,178.7 184.8,178.9 184.8,182.3 184.9,182.2 185.0,184.3 185.1,184.0 185.2,186.5 185.2,187.7 185.3,188.8 185.4,189.9 185.4,191.5 185.5,191.6 185.6,193.8 185.7,196.9 185.7,195.9 185.8,198.7 185.9,198.3 186.0,199.3 186.1,200.8 186.2,202.4 186.2,203.9 186.3,205.4 186.4,204.6 186.5,205.6 186.6,208.9 186.7,208.8 186.8,210.0 186.9,211.2 187.0,212.5 187.1,212.3 187.1,213.6 187.2,215.9 187.3,217.8 187.4,219.1 187.5,220.2 187.6,221.8 187.7,221.5 187.8,224.1 187.9,225.8 188.0,226.9 188.0,228.0 188.1,230.0 188.2,231.2 188.3,230.8 188.3,230.2 188.4,234.5 188.5,234.6 188.5,235.4 188.6,235.8 188.7,238.0 188.7,237.1 188.8,240.5 188.8,243.8 188.8,242.6 188.9,246.0 188.9,245.5 188.9,246.3 189.0,248.5 189.0,250.5 189.0,250.6 189.0,251.6 189.1,252.9 189.1,255.5 189.1,258.3 189.1,257.1 189.2,257.9 189.2,259.9 189.2,259.9 189.2,260.6 189.3,262.7 189.3,263.5 189.3,266.0 189.4,266.9 189.4,267.6 189.5,267.3 189.5,269.9 189.6,270.2 189.7,272.8 189.8,272.2 189.9,274.5 189.9,276.5 190.0,276.7 190.2,279.5 190.3,279.3 190.4,281.0 190.5,282.0 190.6,283.2 190.7,284.4 190.8,285.5 191.0,286.4 191.1,286.8 191.2,289.2 191.3,289.4 191.4,289.5 191.5,295.4 191.6,292.6 191.7,295.1 191.8,296.4 191.9,296.3 192.0,299.1 192.1,299.2 192.1,302.6 192.2,302.4 192.3,302.0 192.3,304.8 192.4,305.9 192.5,307.8 192.5,308.3 192.6,310.8 192.6,311.3 192.7,312.5 192.8,314.0 192.8,315.3 192.9,316.3 192.9,317.2 193.0,317.7 193.0,319.8 193.1,321.6 193.1,323.3 193.2,323.6 193.2,324.4 193.3,326.6 193.3,328.1 193.4,329.5 193.4,332.0 193.5,330.2 193.6,332.4 193.6,332.6 193.7,334.5 193.7,336.8 193.8,336.1 193.8,338.3 193.9,339.5 193.9,340.8 193.9,340.6 194.0,344.8 194.0,345.5 194.1,345.9 194.1,348.3 194.2,347.2 194.3,348.6 194.3,350.4 194.4,349.8 194.5,352.0 194.6,352.5 194.6,353.7 194.7,355.0 194.8,358.1 194.9,360.0 195.0,358.8 195.1,361.6 195.2,362.2 195.3,364.3 195.4,364.2 195.5,364.8 195.6,368.5 195.7,369.4 195.8,369.0 195.9,370.8 196.0,371.4 196.1,372.1 196.2,374.8 196.4,374.3 196.5,377.0 196.6,376.2 196.7,380.1 196.8,381.5 196.9,380.3 197.0,383.5 197.1,385.0 197.2,385.7 197.3,386.1 197.4,385.7 197.5,388.9 197.6,389.7 197.7,391.2 197.7,392.8 197.8,394.8 197.9,394.8 198.0,397.6 198.1,398.3 198.1,398.3 198.2,399.7 198.3,402.0 198.4,403.8 198.5,403.6 198.6,407.2 198.6,407.2 198.7,407.8 198.8,408.9 198.9,410.3 199.0,410.5 199.2,411.6 199.3,413.9 199.4,413.1 199.5,417.7 199.7,415.8 199.8,417.4 200.0,418.8 200.1,421.1 200.3,422.6 200.5,425.6 200.6,424.8 200.8,425.8 201.0,427.3 201.2,429.0 201.4,429.2 201.6,432.4 201.8,432.4 202.0,434.4 202.2,434.0 202.5,435.3 202.7,436.7 202.9,439.4 203.1,438.1 203.4,439.5 203.6,440.6 203.9,443.9 204.1,444.4 204.4,445.2 204.7,446.8 205.0,447.4 205.3,450.0 205.6,450.4 205.9,450.5 206.2,452.1 206.6,452.2 206.9,455.1 207.3,455.3 207.6,455.9 208.0,457.0 208.3,458.4 208.7,460.3 209.0,461.1 209.4,462.0 209.8,464.6 210.2,464.3 210.6,466.5 211.0,467.0 211.5,468.1 211.9,469.2 212.4,470.9 212.8,471.9 213.3,472.6 213.7,473.8 214.2,476.0 214.7,477.5 215.2,479.0 215.7,478.4 216.3,480.2 216.8,480.8 217.5,481.2 218.1,482.8 218.8,484.4 219.6,485.0 220.3,485.5 221.2,488.6 222.0,488.5 222.9,489.0 223.8,490.4 224.7,490.2 225.7,492.1 226.7,490.8 227.7,494.9 228.7,494.2 229.8,493.5 230.9,497.2 232.0,498.3 233.1,495.9 234.2,495.9 235.3,497.7 236.5,497.4 237.7,498.8 239.0,497.0 240.2,497.5 241.5,499.5 242.8,498.3 244.0,500.3 245.3,500.3 246.6,498.0 247.9,497.3 249.2,498.8 250.5,500.0 251.7,499.6 252.9,500.3 254.1,500.8 255.3,500.9 256.5,499.1 257.7,501.3 258.9,499.9 260.2,499.4 261.4,503.1 262.6,500.8 263.8,500.0 265.0,501.0 266.3,499.6 267.5,501.0 268.8,499.6 270.1,500.3 271.4,500.9 272.6,500.9 273.8,500.1 275.0,500.8 276.2,501.8 277.5,500.7 278.8,499.1 280.1,500.9 281.3,501.7 282.6,499.5 283.9,500.5 285.2,498.9 286.5,498.8 287.8,500.8 289.1,500.7 290.4,499.9 291.7,501.8 292.9,501.6 294.1,500.7 295.4,499.4 296.5,500.4 297.7,499.9 299.0,499.5 300.3,500.0 301.5,499.9 302.7,501.8 303.9,499.9 305.1,500.3 306.2,501.1 307.4,497.1 308.6,497.7 309.8,500.2 311.0,499.1 312.2,498.7 313.5,500.0 314.9,497.8 316.3,500.5 317.3,501.2 318.4,499.5 319.5,498.9 320.7,496.5 321.8,499.9 323.0,500.1 324.3,497.9 325.5,499.4 326.8,499.0 328.1,499.3 329.4,498.6 330.7,498.8 332.0,499.2 333.3,499.1 334.7,498.3 336.0,497.1 337.3,497.9 338.6,497.8 339.9,499.5 341.2,499.8 342.5,498.0 343.7,498.3 344.9,497.1 346.1,497.9 347.3,497.0 348.4,498.2 349.5,497.1 350.5,498.4 351.5,498.9 352.5,498.8 353.9,498.4 355.3,499.2 356.6,497.1 357.8,499.4 359.0,498.0 360.2,497.9 361.3,497.3 362.4,496.0 363.5,497.9 364.7,496.4 365.8,497.3 367.0,497.3 368.2,497.3 369.4,494.4 370.7,494.9 371.9,494.5 373.1,494.8 374.4,494.2 375.6,494.4 376.8,493.6 378.0,493.6 379.2,493.0 380.3,491.4 381.5,491.8 382.7,492.1 383.9,491.5 385.0,491.5 386.2,490.4 387.4,489.4 388.5,489.8 389.6,489.7 390.7,488.9 391.8,487.2 392.9,487.4 394.0,487.6 395.1,486.4 396.1,484.8 397.2,484.7 398.3,484.3 399.3,484.0 400.3,482.2 401.3,482.4 402.3,480.6 403.2,480.4 404.1,477.2 405.0,480.2 405.9,478.0 406.7,477.5 407.5,475.1 408.3,474.3 409.0,472.3 409.7,473.5 410.4,471.9 411.0,469.9 411.7,469.9 412.3,466.8 412.8,470.1 413.3,468.6 413.7,464.9 414.1,463.4 414.5,464.3 414.9,460.4 415.3,460.2 415.6,459.0 416.0,458.8 416.3,459.0 416.6,457.1 417.0,454.5 417.3,455.2 417.7,453.3 418.0,451.7 418.3,451.5 418.6,449.5 419.0,447.6 419.3,449.2 419.6,445.2 419.9,444.4 420.2,443.6 420.5,441.2 420.8,439.9 421.1,438.5 421.4,439.5 421.6,436.4 421.9,435.2 422.2,435.4 422.5,434.3 422.8,432.2 423.1,430.7 423.4,429.6 423.7,429.1 423.9,428.3 424.2,425.0 424.5,425.9 424.8,424.5 425.1,422.0 425.3,420.9 425.6,421.7 425.9,418.0 426.2,417.6 426.4,416.6 426.7,413.7 427.0,412.9 427.2,412.5 427.5,411.4 427.8,410.9 428.0,408.4 428.3,408.8 428.5,406.4 428.7,405.2 429.0,403.1 429.2,403.6 429.4,401.6 429.6,400.1 429.8,398.6 430.0,397.8 430.2,394.6 430.3,395.6 430.5,393.3 430.7,393.1 430.9,389.9 431.1,389.7 431.3,391.0 431.5,387.6 431.8,387.5 432.0,386.8 432.2,385.3 432.5,384.4 432.8,380.3 433.2,381.2 433.6,379.7 434.0,377.2 434.3,376.0 434.7,374.3 435.2,373.5 435.6,371.6 436.0,371.0 436.4,372.7 436.8,371.5 437.2,368.7 437.6,368.9 437.9,370.3 438.3,371.7 438.6,371.7 439.0,373.0 439.4,374.4 439.8,375.4 440.2,376.0 440.5,379.8 440.9,380.5 441.3,381.8 441.6,382.9 442.0,385.0 442.3,386.7 442.7,388.3 443.0,390.1 443.3,388.5 443.6,391.4 443.9,395.0 444.1,392.6 444.4,394.4 444.6,395.4 444.9,396.4 445.1,400.0 445.3,399.5 445.5,402.2 445.7,402.2 446.0,403.1 446.2,404.8 446.4,404.3 446.6,407.3 446.8,409.3 447.1,408.9 447.3,411.6 447.5,411.8 447.8,413.1 448.0,413.9 448.2,415.2 448.5,417.5 448.7,417.3 448.9,419.8 449.2,419.5 449.4,422.6 449.7,421.9 449.9,423.3 450.1,426.7 450.4,426.2 450.6,427.5 450.9,428.7 451.1,429.5 451.4,432.9 451.6,431.1 451.9,434.1 452.1,434.9 452.4,437.2 452.6,438.0 452.9,437.6 453.1,440.4 453.4,439.8 453.6,443.8 453.9,444.1 454.1,445.2 454.4,445.2 454.7,448.8 454.9,447.5 455.2,448.3 455.5,449.5 455.8,452.0 456.1,452.3 456.4,453.9 456.7,452.6 457.0,455.7 457.4,458.4 457.7,459.5 458.1,461.1 458.4,461.9 458.8,463.0 459.1,464.4 459.5,466.0 459.9,468.2 460.3,466.1 460.7,470.8 461.1,470.2 461.5,469.2 462.0,471.4 462.5,473.6 463.0,474.0 463.5,475.2 464.1,476.5 464.7,477.5 465.3,479.3 466.0,478.5 466.6,480.1 467.3,482.1 468.0,483.0 468.8,484.7 469.5,485.2 470.3,486.4 471.0,487.2 471.8,489.8 472.6,487.5 473.5,488.9 474.3,490.5 475.2,490.8 476.1,493.1 477.0,493.1 478.0,493.6 478.9,493.4 479.9,494.5 480.9,494.6 482.0,495.5 483.0,498.1 484.1,497.6 485.3,496.3 486.5,498.2 487.7,498.2 488.7,499.2 489.7,497.9 490.8,501.4 491.9,498.1 493.0,497.5 494.1,500.6 495.3,499.1 496.5,500.1 497.7,501.3 498.9,500.4 500.1,501.0 501.4,501.7 502.7,500.3 504.0,502.6 505.3,502.1 506.6,502.5 507.9,500.8 509.2,501.7 510.6,501.2 511.9,502.7 513.2,502.3 514.6,502.4 515.7,502.8 516.8,502.0 518.0,502.7 519.1,504.5 520.3,503.5 521.4,503.0 522.6,502.9 523.8,503.1 525.0,502.8 526.2,504.6 527.4,502.7 528.7,504.0 529.9,504.1 531.1,503.0 532.4,504.0 533.6,503.4 534.9,502.7 536.2,503.8 537.4,502.7 538.7,503.1 540.0,502.6 541.2,504.3 542.5,502.4 543.8,502.7 545.0,502.9 546.3,503.4 547.5,502.7 548.8,500.6 550.0,501.8 551.3,501.5 552.5,501.6 553.8,504.3 555.0,503.9 556.2,503.4 557.5,502.8 558.7,502.6 559.9,503.1 561.2,502.1 562.4,502.9 563.6,504.0 564.9,502.4 566.1,503.8 567.3,502.6 568.6,502.6 569.8,505.0 571.1,502.7 572.3,502.7 573.5,503.3 574.8,503.0 576.0,503.8 577.2,504.4 578.5,501.7 579.7,503.0 580.9,504.0 582.2,502.0 583.4,502.8 584.6,503.5 585.8,501.2 587.0,502.4 588.2,501.8 589.5,503.1 590.7,502.7 591.8,503.7 593.0,503.1 594.2,502.8 595.4,502.2 596.7,502.0 598.0,502.3 599.3,502.9 600.7,502.4 602.0,504.0 603.4,502.7 604.7,503.6 606.1,503.5 607.5,502.7 608.8,501.9 610.2,502.3 611.5,504.5 612.9,503.4 614.2,504.0 615.5,501.4 616.8,501.5 618.0,502.4 619.3,501.5 620.5,501.6 621.7,501.4 622.9,502.7 624.0,500.9 625.1,501.1 626.2,501.5 627.2,500.7 628.2,501.1 629.1,501.1 630.0,501.6 631.5,502.8 632.9,501.8 634.2,500.2 635.4,501.6 636.6,501.5 637.7,499.6 638.8,500.0 640.0,500.4 641.1,499.5 642.2,498.6 643.4,498.2 644.5,496.7 645.6,496.4 646.7,495.4 647.8,496.1 648.8,494.3 649.8,491.7 650.8,493.4 651.6,493.6 652.4,489.9 653.1,488.7 653.8,489.1 654.5,487.2 655.2,486.0 655.9,486.3 656.6,485.5 657.2,483.4 657.8,483.3 658.4,481.9 659.0,480.9 659.5,478.8 660.1,476.9 660.6,476.8 661.0,477.3 661.5,475.6 661.9,473.8 662.3,471.8 662.7,472.0 663.1,470.6 663.5,467.7 663.8,467.5 664.2,466.1 664.6,465.0 665.0,464.5 665.3,463.1 665.7,460.6 666.0,460.0 666.4,458.5 666.7,458.3 667.1,457.1 667.4,455.5 667.8,453.1 668.1,451.3 668.5,452.0 668.9,450.1 669.4,449.1 669.9,448.2 670.4,448.6 670.9,446.6 671.5,444.8 672.0,444.9 672.6,443.2 673.2,441.9 673.8,440.1 674.4,440.9 675.1,439.2 675.8,437.1 676.5,438.1 677.1,435.9 677.8,435.6 678.4,434.7 679.0,432.6 679.6,432.1 680.1,429.7 680.6,427.9 681.0,426.2 681.5,426.6 682.0,426.9 682.4,423.1 682.9,421.5 683.4,421.2 684.1,420.6 684.7,418.6 685.4,417.0 686.1,417.0 687.0,417.5 688.1,414.6 689.3,415.1 690.6,415.2 692.0,415.2 693.1,416.1 694.2,415.1 695.4,415.7 696.7,416.2 698.0,416.6 699.2,417.7 700.3,418.0 701.4,418.8 702.3,420.3 703.1,420.8 703.9,421.3 704.6,421.7 705.3,424.1 706.0,424.1 706.6,427.3 707.3,427.1 707.9,429.6 708.6,429.9 709.1,430.3 709.6,432.0 710.0,432.7 710.5,434.2 710.9,435.0 711.3,435.9 711.7,440.8 712.2,440.5 712.6,441.2 713.0,442.8 713.4,443.9 713.9,443.6 714.4,445.8 714.8,448.0 715.4,447.7 715.9,449.0 716.6,449.4 717.3,452.2 718.0,451.5 718.7,452.5 719.4,456.3 720.2,455.5 721.0,456.3 721.8,457.0 722.6,457.5 723.4,459.1 724.3,459.1 725.1,461.2 725.9,462.9 726.8,462.5 727.6,464.0 728.5,464.8 729.4,465.1 730.4,465.6 731.3,466.8 732.2,468.1 733.2,471.5 734.1,470.9 735.0,471.2 735.9,471.3 736.8,472.1 737.7,471.0 738.7,472.9 739.7,476.5 740.7,477.1 741.6,477.0 742.6,479.1 743.5,480.4 744.5,481.7 745.5,480.9 746.4,482.1 747.5,481.4 748.5,481.8 749.7,481.9 750.9,483.5 752.1,484.2 753.4,483.9 754.6,482.5 755.9,483.1 757.1,482.9 758.2,483.1 759.3,481.3 760.3,481.9 761.3,480.2 762.2,478.5 763.1,479.6 763.9,477.1 764.8,477.3 765.6,476.3 766.4,476.9 767.3,474.1 768.1,473.9 768.9,471.3 769.6,470.5 770.3,469.7 771.0,466.3 771.8,468.0 772.6,467.1 773.4,463.5 774.4,464.6 775.4,462.7 776.3,464.1 777.4,464.4 778.4,465.0 779.6,464.9 780.7,464.4 781.9,464.3 783.2,465.1 784.4,467.0 785.7,467.4 786.9,468.0 788.1,468.0 789.3,468.9 790.5,468.9 791.6,470.1 792.8,471.8 793.9,471.9 795.1,471.1 796.2,471.7 797.3,472.9 798.4,472.0 799.5,471.0 800.5,475.2 801.6,474.3 802.7,474.2 803.9,474.3 805.0,475.9 806.2,477.6 807.4,477.7 808.7,476.2 809.9,478.2 811.1,475.9 812.4,478.4 813.6,478.5 814.8,477.9 816.1,478.9 817.3,478.7 818.5,478.4 819.6,479.1 820.8,479.8 821.9,480.8 823.0,482.0 824.1,481.1 825.3,482.3 826.4,481.9 827.5,483.0 828.6,481.8 829.7,484.1 830.9,484.5 832.0,487.5 833.2,485.7 834.4,486.7 835.6,486.8 836.9,485.9 838.1,487.4 839.3,488.4 840.5,488.2 841.7,489.3 843.0,488.5 844.2,490.7 845.4,489.9 846.5,490.4 847.7,490.6 848.8,491.1 849.9,491.4 851.0,490.7 852.1,493.4 853.3,491.7 854.4,492.8 855.5,494.1 856.6,494.7 857.8,494.6 858.9,495.1 860.1,494.8 861.3,496.4 862.6,496.3 863.8,496.2 865.0,495.0 866.2,498.0 867.5,498.6 868.7,497.2 869.9,495.5 871.2,497.5 872.4,497.4 873.6,498.4 874.8,497.0 876.0,497.6 877.2,497.5 878.5,498.5 879.7,497.7 880.9,497.9 882.1,498.1 883.3,498.7 884.6,498.2 885.8,498.9 887.0,498.5 888.2,498.0 889.4,497.5 890.6,498.3 891.8,499.9 893.0,498.3 894.2,499.1 895.5,497.5 896.7,499.3 897.8,500.1 899.0,497.6 900.2,499.7 901.4,499.2 902.5,497.0 903.6,498.6 904.7,497.6 905.8,496.1 906.9,494.0 908.0,496.4 909.1,494.9 910.2,492.7 911.4,491.9 912.5,493.5 913.7,493.3 914.8,493.5 915.9,492.8 917.1,491.5 918.2,492.5 919.4,490.4 920.5,490.4 921.7,490.2 922.9,489.3 924.1,488.0 925.3,488.7 926.5,488.7 927.7,487.2 928.9,487.0 930.0,488.0 931.2,487.2 932.4,486.8 933.7,487.0 934.9,486.4 936.1,486.0 937.3,485.8 938.5,485.7 939.8,486.6 941.0,487.1 942.2,485.7 943.5,486.6 944.7,485.5 946.0,486.8 947.3,485.6 948.5,484.9 949.7,486.2 950.9,485.7 952.2,484.3 953.5,486.5 954.7,488.5 956.0,486.7 957.3,486.2 958.6,485.2 959.8,485.7 961.1,484.9 962.4,486.9 963.7,486.1 965.0,484.5 966.2,486.9 967.5,484.8 968.7,484.4 969.9,486.0 971.1,484.5 972.3,487.0 973.5,488.0 974.7,487.4 975.8,487.5 977.0,488.7 978.2,487.4 979.4,489.3 980.6,487.8 981.8,489.7 983.0,488.7 984.1,491.2 985.3,491.4 986.5,490.3 987.7,489.5 988.9,490.6 990.1,491.0 991.3,490.7 992.5,490.5 993.6,491.9 994.8,492.3 996.0,492.2 997.2,493.6 998.4,493.0 999.6,493.4 1000.8,494.3 1001.9,493.7 1003.1,493.1 1004.3,494.7 1005.5,495.3 1006.7,496.0 1007.9,497.1 1009.1,496.9 1010.3,495.9 1011.4,499.1 1012.6,496.6 1013.7,498.0 1014.9,497.4 1016.1,496.7 1017.2,498.7 1018.4,497.6 1019.6,498.3 1020.7,498.4 1021.9,497.4 1023.1,499.1 1024.4,498.8 1025.6,501.5 1026.8,500.0 1028.1,500.7 1029.2,499.3 1030.4,500.8 1031.6,500.6 1032.8,500.6 1034.0,501.1 1035.3,500.2 1036.5,500.6 1037.8,500.8 1039.0,500.4 1040.3,500.9 1041.5,500.4 1042.8,501.4 1044.1,504.4 1045.3,503.9 1046.6,502.3 1047.8,502.4 1049.1,502.1 1050.3,502.1 1051.5,502.5 1052.7,502.3 1053.9,501.8 1055.0,503.7 1056.3,503.0 1057.5,505.4 1058.7,503.2 1060.0,504.1 1061.2,501.6 1062.3,504.8 1063.5,504.7 1064.7,502.9 1065.9,504.7 1067.0,506.1 1068.2,505.3 1069.3,506.1 1070.5,507.4 1071.7,506.8 1072.8,504.9 1074.0,508.0 1075.2,506.4 1076.5,507.9 1077.7,507.3 1079.0,506.6 1080.2,507.6 1081.5,508.2 1082.8,507.3 1084.0,508.3 1085.3,506.1 1086.6,508.2 1087.8,507.6 1089.1,507.8 1090.3,509.4 1091.6,508.6 1092.9,509.7 1094.1,511.2 1095.4,508.5 1096.7,509.2 1097.9,510.5 1099.2,510.2 1100.4,510.7 1101.7,509.8 1103.0,511.3 1104.2,511.3 1105.5,510.4 1106.8,512.2 1108.0,512.6 1109.3,510.3 1110.5,512.1 1111.8,511.2 1113.1,511.9 1114.3,511.3 1115.6,511.9 1116.9,511.2 1118.1,510.4 1119.3,510.7 1120.5,511.2 1121.7,511.2 1122.9,512.0 1124.1,512.3 1125.4,509.5 1126.6,510.6 1127.8,510.3 1129.1,511.3 1130.4,513.1 1131.7,511.5 1133.0,510.7 1134.4,511.8 1135.8,512.4 1136.9,511.2 1138.0,512.0 1139.1,511.9 1140.3,510.5 1141.4,512.7 1142.6,511.1 1143.8,511.6 1145.0,510.8 1146.3,512.1 1147.5,512.3 1148.7,512.5 1150.0,511.6 1151.3,513.2 1152.6,510.8 1153.8,511.6 1155.1,512.4 1156.4,511.7 1157.7,510.9 1159.0,511.8 1160.3,511.4 1161.6,510.7 1162.8,511.4 1164.1,511.6 1165.4,511.6 1166.7,512.2 1167.9,512.7 1169.2,512.1 1170.4,510.3 1171.6,510.7 1172.8,511.5 1174.1,511.6 1175.3,514.5 1176.6,511.6 1177.8,510.4 1179.1,511.8 1180.3,511.4 1181.6,512.9 1182.8,511.3 1184.1,512.5 1185.3,510.3 1186.6,511.6 1187.8,512.1 1189.1,512.8 1190.3,511.7 1191.5,512.5 1192.7,512.5 1193.9,514.4 1195.1,511.2 1196.3,511.4 1197.5,512.5 1198.6,511.5 1199.7,512.9 1200.9,509.2 1202.0,510.8 1203.0,512.7 1204.1,508.7 1205.4,513.4 1206.7,511.2 1208.0,509.6 1209.3,510.7 1210.6,510.1 1211.8,510.1 1213.0,509.5 1214.2,511.1 1215.4,508.7 1216.6,510.2 1217.7,509.1 1218.9,508.6 1220.0,509.7 1221.1,509.3 1222.2,509.2 1223.2,509.5 1224.3,507.5 1225.6,508.0 1226.8,507.5 1228.0,506.6 1229.2,506.6 1230.4,506.0 1231.5,505.0 1232.7,503.9 1233.7,505.7 1234.8,503.2 1235.8,503.6 1236.8,504.5 1237.7,501.7 1238.6,498.6 1239.5,501.8 1240.3,497.0 1241.1,498.6 1241.8,495.9 1242.6,495.1 1243.2,493.4 1243.9,494.9 1244.6,491.0 1245.2,491.1 1245.8,489.8 1246.4,488.6 1247.0,488.4 1247.5,486.8 1248.0,485.0 1248.5,484.5 1249.0,481.6 1249.5,482.3 1249.9,480.8 1250.3,479.9 1250.8,477.5 1251.2,478.0 1251.8,477.0 1252.3,473.5 1252.8,472.0 1253.4,471.8 1254.2,472.2 1254.9,471.1 1255.6,471.8 1256.4,475.3 1257.3,473.8 1258.2,475.8 1259.1,475.4 1260.1,478.0 1261.0,477.0 1262.0,479.9 1263.3,479.3 1264.6,480.3 1265.9,483.1 1267.3,480.8 1268.7,480.6 1270.0,481.3 1271.2,481.4 1272.3,481.7 1273.5,479.4 1274.6,477.3 1275.8,477.7 1276.9,477.1 1278.1,477.5 1279.3,477.3 1280.4,476.8 1281.6,477.7 1282.8,476.9 1284.0,477.6 1285.1,478.2 1286.2,480.4 1287.0,480.3 1287.8,480.6 1288.6,482.1 1289.3,483.2 1290.0,484.3 1290.7,484.4 1291.4,486.7 1292.1,486.5 1292.8,485.9 1293.6,489.8 1294.3,490.2 1295.0,492.8 1295.7,492.9 1296.3,491.9 1297.0,494.2 1297.6,495.9 1298.3,496.3 1299.0,497.3 1299.7,500.1 1300.4,498.9 1301.1,501.5 1301.9,501.3 1302.8,505.7 1303.7,503.1 1304.7,505.4 1305.6,506.2 1306.7,506.4 1307.8,507.2 1308.9,506.0 1310.0,507.5 1311.2,509.0 1312.3,508.5 1313.5,509.4 1314.8,510.7 1316.0,510.1 1317.2,509.9 1318.5,511.4 1319.7,512.0 1320.9,511.8 1322.1,511.2 1323.3,511.4 1324.6,510.4 1325.9,512.6 1327.1,512.0 1328.4,512.3 1329.8,512.0 1331.1,512.9 1332.4,512.7 1333.7,512.8 1334.9,511.8 1336.2,511.8 1337.5,512.6 1338.7,513.8 1340.0,513.8 1341.3,513.5 1342.6,512.9 1343.9,512.0 1345.1,512.9 1346.4,514.3 1347.7,513.1 1348.9,515.2 1350.2,512.9 1351.4,512.3 1352.6,511.8 1353.9,512.9 1355.0,511.7 1356.2,512.6 1357.5,513.2 1358.8,511.9 1360.1,512.4 1361.4,510.8 1362.6,510.6 1363.8,510.5 1365.0,508.4 1366.2,507.0 1367.4,508.3 1368.6,507.9 1369.7,507.6 1370.9,507.7 1372.0,508.1 1373.1,508.0 1374.2,510.3 1375.2,509.8 1376.3,511.0 1377.5,510.8 1378.7,512.5 1380.0,512.3 1381.0,513.4 1382.0,512.3 1383.1,512.1 1384.1,513.1 1385.3,514.1 1386.4,514.1 1387.5,513.7 1388.7,514.3 1389.9,516.0 1391.1,514.3 1392.4,515.9 1393.6,513.2 1394.9,513.5 1396.2,515.4 1397.5,515.4 1398.9,517.3 1400.2,517.0 1401.3,516.9 1402.3,517.6 1403.4,517.0 1404.5,517.2 1405.7,517.9 1406.8,517.7 1408.0,515.4 1409.2,518.8 1410.4,519.2 1411.6,519.4 1412.8,518.4 1414.0,517.9 1415.3,517.8 1416.5,519.6 1417.7,518.3 1419.0,518.8 1420.2,516.7 1421.5,518.3 1422.8,519.8 1424.0,519.1 1425.3,518.4 1426.5,519.3 1427.8,520.2 1429.0,519.9 1430.2,519.7 1431.5,519.6 1432.7,520.1 1433.9,519.3 1435.1,519.7 1436.3,520.5 1437.5,519.4 1438.8,519.0 1440.0,520.7 1441.3,520.1 1442.5,519.3 1443.8,520.2 1445.0,520.2 1446.3,520.7 1447.5,520.3 1448.8,519.0 1450.0,519.6 1451.2,518.6 1452.5,518.9 1453.7,519.2 1454.9,518.1 1456.1,518.4 1457.3,520.5 1458.5,519.3 1459.7,518.3 1460.9,518.9 1462.0,519.6 1463.2,520.8 1464.3,520.0 1465.4,518.8 1466.4,519.4 1467.5,518.9 1468.8,518.7 1470.1,519.2 1471.4,518.6 1472.7,517.9 1473.9,519.4 1475.1,518.9 1476.3,519.1 1477.5,516.1 1478.7,517.0 1479.8,518.3 1480.9,516.5 1482.1,517.1 1483.2,517.0 1484.3,515.7 1485.5,515.5 1486.6,516.8 1487.7,515.8 1489.0,515.6 1490.3,512.6 1491.5,514.5 1492.7,513.2 1493.9,513.8 1495.1,513.5 1496.3,513.4 1497.5,512.8 1498.7,513.1 1500.0,513.2 1501.2,513.5 1502.6,514.2 1503.9,512.4 1505.0,512.9 1506.1,513.9 1507.3,512.1 1508.4,511.3 1509.6,512.6 1510.8,512.3 1512.0,513.1 1513.2,514.7 1514.4,515.4 1515.6,514.8 1516.8,513.2 1518.1,516.1 1519.3,515.1 1520.6,514.5 1521.8,515.6 1523.1,514.4 1524.3,514.7 1525.6,514.4 1526.9,514.9 1528.1,515.8 1529.3,514.5 1530.5,514.4 1531.7,516.6 1532.9,514.2 1534.1,516.2 1535.3,518.6 1536.5,516.7 1537.8,515.9 1539.0,515.8 1540.2,516.5 1541.5,515.0 1542.7,515.7 1543.9,515.9 1545.2,517.0 1546.4,515.5 1547.6,517.2 1548.9,515.5 1550.1,516.1 1551.3,515.4 1552.5,516.1 1553.8,515.8 1555.0,514.6 1556.2,514.5 1557.5,515.5 1558.7,517.6 1559.9,516.6 1561.1,517.3 1562.4,517.5 1563.6,518.1 1564.8,518.7 1566.0,516.7 1567.3,518.9 1568.5,519.0 1569.7,517.2 1571.0,517.4 1572.2,517.3 1573.4,518.4 1574.6,520.2 1575.9,519.2 1577.1,518.3 1578.3,518.8 1579.5,519.4 1580.8,519.0 1582.0,519.2 1583.2,519.8 1584.4,520.4 1585.7,519.2 1586.9,516.8 1588.1,519.9 1589.3,519.2 1590.6,520.6 1591.8,520.6 1593.0,519.0 1594.2,519.5 1595.5,519.1 1596.7,517.6 1597.9,519.7 1599.1,520.2 1600.3,522.2 1601.6,519.8 1602.8,521.0 1604.0,520.4 1605.2,520.6 1606.5,520.9 1607.7,520.8 1608.9,521.3 1610.1,521.0 1611.3,520.7 1612.5,519.7 1613.7,523.4 1614.9,520.1 1616.1,521.8 1617.3,522.8 1618.5,521.0 1619.7,522.7 1620.9,522.8 1622.1,522.1 1623.3,522.5 1624.5,523.3 1625.7,521.5 1626.9,523.3 1628.2,521.8 1629.4,521.2 1630.7,521.8 1631.9,522.1 1633.2,522.2 1634.5,522.7 1635.8,522.8 1636.9,522.8 1638.0,522.8 1639.2,523.1 1640.3,524.8 1641.5,522.1 1642.6,523.3 1643.8,524.8 1645.0,523.2 1646.2,524.2 1647.3,525.9 1648.5,522.8 1649.7,524.0 1650.9,523.5 1652.1,523.2 1653.3,522.8 1654.6,523.1 1655.8,523.2 1657.0,523.8 1658.2,523.3 1659.5,522.4 1660.7,523.3 1661.9,524.1 1663.2,523.7 1664.4,522.8 1665.7,523.9 1666.9,523.6 1668.2,523.4 1669.4,524.1 1670.7,524.9 1671.9,523.6 1673.1,523.5 1674.2,524.0 1675.4,525.0 1676.6,523.4 1677.7,523.4 1678.9,524.2 1680.1,524.1 1681.3,524.0 1682.5,524.0 1683.7,523.1 1684.9,523.5 1686.1,524.1 1687.3,524.1 1688.5,522.6 1689.7,524.8 1690.9,524.8 1692.1,524.1 1693.3,523.3 1694.5,522.8 1695.7,524.4 1697.0,525.6 1698.2,524.7 1699.4,523.7 1700.6,524.4 1701.8,525.3 1703.0,524.3 1704.2,524.2 1705.5,524.3 1706.7,523.4 1707.9,524.3 1709.1,525.0 1710.3,522.6 1711.5,524.8 1712.7,523.4 1713.9,523.5 1715.1,523.1 1716.4,525.1 1717.6,525.0 1718.8,525.4 1720.1,523.6 1721.3,525.0 1722.5,525.2 1723.8,524.3 1725.0,526.3 1726.2,524.1 1727.5,524.6 1728.7,525.5 1729.9,525.2 1731.2,525.1 1732.4,525.8 1733.6,525.2 1734.8,524.8 1736.1,525.9 1737.3,526.1 1738.5,525.0 1739.8,526.1 1741.0,524.1 1742.2,525.1 1743.5,525.4 1744.7,525.5 1745.9,527.0 1747.2,525.7 1748.4,526.3 1749.6,525.1 1750.9,526.2 1752.1,523.9 1753.3,526.5 1754.6,527.3 1755.8,526.6 1757.0,525.8 1758.2,525.6 1759.4,526.2 1760.6,527.5 1761.8,526.3 1763.0,526.0 1764.2,525.5 1765.4,527.2 1766.6,527.3 1767.8,526.9 1769.0,526.5 1770.2,527.5 1771.4,527.5 1772.6,524.8 1773.8,527.8 1775.0,527.0 1776.2,526.1 1777.4,524.8 1778.6,526.9 1779.8,527.3 1781.0,526.5 1782.2,526.3 1783.4,526.8 1784.6,526.3 1785.8,525.8 1787.0,524.8 1788.2,526.5 1789.4,527.4 1790.6,526.0 1791.8,525.4 1793.0,528.1 1794.2,528.0 1795.4,526.5 1796.6,528.0 1797.8,525.5 1799.0,527.6 1800.3,527.7 1801.5,526.5 1802.7,527.2 1803.9,527.6 1805.1,527.5 1806.3,526.4 1807.5,526.6 1808.7,526.9 1809.9,527.8 1811.1,526.5 1812.3,527.4 1813.5,528.6 1814.7,526.4 1815.9,526.9 1817.1,527.1 1818.3,528.3 1819.6,527.8 1820.8,527.8 1822.0,526.8 1823.2,528.9 1824.4,526.7 1825.7,527.9 1826.9,527.7 1828.1,529.1 1829.4,527.8 1830.6,527.3 1831.9,527.0 1833.2,527.6 1834.5,527.7 1835.8,528.6 1837.1,528.1 1838.4,527.2 1839.7,528.1 1840.8,527.9 1842.0,529.5 1843.1,527.1 1844.3,528.2 1845.4,528.1 1846.6,527.1 1847.8,528.0 1848.9,529.1 1850.1,527.4 1851.3,527.3 1852.5,528.6 1853.7,526.2 1854.9,527.4 1856.1,526.7 1857.3,528.0 1858.5,528.3 1859.8,527.9 1861.0,527.2 1862.2,529.5 1863.5,526.2 1864.7,527.4 1865.9,527.6 1867.2,528.1 1868.4,527.3 1869.7,527.5 1870.9,527.9 1872.2,527.3 1873.4,527.1 1874.7,526.7 1875.9,528.0 1877.2,527.3 1878.4,527.3 1879.7,527.5 1880.9,525.9 1882.2,528.1 1883.4,528.3 1884.6,527.2 1885.9,526.7 1887.1,526.5 1888.4,527.8 1889.6,527.1 1890.9,527.9 1892.1,528.5 1893.3,526.6 1894.6,527.6 1895.8,526.5 1897.0,527.2" fill="none" stroke="#34AD6B" stroke-width="11.5" stroke-linejoin="round"/>
<path d="M146.0,768.2 146.6,766.6 147.3,767.3 147.9,766.4 148.6,764.6 149.2,762.4 149.8,762.0 150.3,760.9 150.8,759.3 151.1,758.7 151.4,757.2 151.6,754.9 151.8,756.1 152.0,751.8 152.1,752.6 152.3,751.5 152.4,749.4 152.6,747.7 152.8,745.5 153.0,745.2 153.2,743.3 153.4,742.4 153.6,741.6 153.8,738.1 154.0,738.4 154.3,739.4 154.5,738.0 154.8,736.3 155.0,734.3 155.3,733.5 155.5,732.1 155.8,730.0 156.0,730.9 156.3,729.9 156.5,726.8 156.8,726.1 157.0,724.1 157.3,725.1 157.5,721.6 157.7,720.7 157.9,719.6 158.0,718.8 158.2,716.9 158.3,715.9 158.5,714.7 158.7,714.3 158.8,712.5 159.0,711.3 159.1,710.5 159.3,712.0 159.4,706.8 159.6,708.0 159.7,706.3 159.9,707.2 160.0,704.2 160.1,701.7 160.3,701.0 160.4,700.5 160.6,698.2 160.7,696.3 160.9,698.7 161.0,695.4 161.1,693.0 161.3,692.1 161.4,691.1 161.6,689.2 161.7,688.9 161.9,687.7 162.0,686.8 162.2,686.4 162.3,684.7 162.5,682.9 162.6,681.0 162.8,680.0 162.9,679.6 163.1,677.7 163.2,676.0 163.4,673.7 163.5,674.0 163.7,673.8 163.8,672.0 164.0,670.9 164.1,668.8 164.3,668.7 164.5,667.2 164.6,668.5 164.8,664.8 164.9,664.7 165.1,662.1 165.2,661.4 165.4,659.8 165.6,659.2 165.7,657.7 165.9,657.5 166.0,655.5 166.2,654.7 166.3,653.8 166.5,650.2 166.6,650.1 166.8,647.1 166.9,648.3 167.0,646.0 167.2,646.7 167.3,646.2 167.5,642.8 167.6,643.7 167.7,639.3 167.9,640.6 168.0,639.0 168.1,637.5 168.3,635.8 168.4,633.4 168.5,633.6 168.6,632.0 168.7,629.9 168.8,627.9 169.0,628.6 169.1,628.6 169.2,624.8 169.3,625.7 169.4,623.7 169.5,622.0 169.6,620.0 169.7,618.7 169.9,616.6 170.0,616.0 170.1,615.4 170.2,614.7 170.3,613.5 170.4,612.8 170.6,609.4 170.7,610.0 170.8,607.5 170.9,605.5 171.1,605.1 171.2,605.0 171.4,603.4 171.5,602.7 171.7,600.3 171.9,599.3 172.0,599.8 172.2,597.7 172.4,597.2 172.6,594.3 172.8,592.6 172.9,592.5 173.1,591.3 173.3,589.4 173.5,587.5 173.7,587.8 173.9,584.9 174.2,585.5 174.4,584.2 174.7,584.0 174.9,582.1 175.2,580.6 175.5,579.6 175.9,578.5 176.4,576.3 177.0,576.2 177.5,575.7 178.1,572.0 178.6,572.5 179.2,571.3 179.7,571.0 180.2,568.9 180.7,569.9 181.2,570.4 181.7,570.7 182.1,571.2 182.6,572.2 183.0,573.7 183.4,575.4 183.8,575.8 184.2,576.9 184.5,579.9 184.7,581.4 184.9,583.3 185.1,583.1 185.3,583.6 185.4,585.1 185.5,585.9 185.7,588.3 185.8,589.4 185.9,590.1 186.0,592.1 186.1,593.2 186.2,593.8 186.3,594.6 186.4,597.6 186.5,598.0 186.6,599.7 186.8,599.6 186.9,602.8 187.0,604.1 187.1,604.4 187.2,605.6 187.3,606.7 187.4,607.0 187.5,609.5 187.6,610.1 187.7,611.0 187.8,613.2 187.9,616.6 188.0,615.4 188.1,616.3 188.2,617.4 188.3,620.0 188.4,621.2 188.5,622.3 188.6,621.4 188.7,623.7 188.8,624.5 188.9,626.6 189.0,626.7 189.1,628.6 189.2,629.6 189.3,632.5 189.4,630.7 189.5,634.8 189.6,636.2 189.7,636.7 189.9,639.5 190.0,642.0 190.1,641.4 190.2,642.2 190.3,640.6 190.4,644.5 190.6,646.5 190.7,647.1 190.8,647.2 190.9,648.9 191.0,650.3 191.2,652.3 191.3,652.5 191.4,654.7 191.5,654.7 191.7,656.6 191.8,657.7 191.9,659.0 192.1,661.3 192.2,662.2 192.3,662.6 192.5,663.6 192.6,667.0 192.7,666.7 192.9,666.8 193.0,669.4 193.1,671.3 193.3,670.8 193.4,672.4 193.5,673.8 193.7,676.2 193.8,677.1 194.0,677.1 194.1,678.9 194.2,679.2 194.4,680.4 194.5,681.0 194.7,681.6 194.9,684.1 195.1,687.0 195.3,685.6 195.5,687.5 195.7,688.7 195.9,690.0 196.1,690.2 196.3,692.8 196.5,693.7 196.7,695.6 196.9,697.5 197.1,697.4 197.3,699.8 197.5,699.8 197.7,700.5 197.9,701.8 198.1,703.1 198.3,704.8 198.4,705.2 198.6,707.8 198.8,707.7 198.9,708.0 199.1,710.2 199.2,710.8 199.4,714.1 199.6,714.5 199.7,715.0 199.9,716.6 200.1,717.0 200.4,720.0 200.6,718.6 200.8,721.5 201.1,721.1 201.3,723.6 201.6,724.9 201.9,727.2 202.2,728.4 202.4,728.0 202.7,730.0 203.0,730.1 203.4,733.0 203.7,732.3 204.0,733.7 204.3,735.3 204.7,735.5 205.0,737.0 205.3,739.7 205.7,739.3 206.0,741.7 206.4,742.3 206.7,743.6 207.1,744.0 207.4,745.7 207.8,747.0 208.2,748.0 208.6,748.6 209.0,751.1 209.4,750.9 209.7,753.9 210.2,754.8 210.6,755.0 211.0,754.6 211.4,757.9 211.8,757.9 212.3,760.8 212.7,759.5 213.2,761.4 213.6,763.0 214.1,765.9 214.5,765.5 215.0,768.0 215.4,767.3 215.9,768.3 216.4,769.4 216.8,770.2 217.3,773.0 217.9,772.8 218.4,771.8 219.0,774.5 219.6,775.5 220.2,778.1 220.8,778.7 221.5,779.2 222.1,780.2 222.8,781.5 223.5,782.4 224.2,785.4 225.0,784.2 225.7,784.8 226.5,786.2 227.3,786.7 228.1,787.7 228.9,790.0 229.8,789.3 230.6,790.4 231.5,792.5 232.4,792.5 233.3,794.6 234.3,792.7 235.3,796.5 236.3,795.3 237.3,796.2 238.3,797.0 239.4,798.1 240.5,799.6 241.6,797.3 242.8,799.9 243.9,802.1 245.1,800.8 246.2,802.4 247.4,802.4 248.6,801.8 249.7,802.0 250.9,804.1 252.1,804.8 253.2,802.8 254.4,804.5 255.6,804.5 256.7,805.6 257.9,805.1 259.0,807.2 260.2,807.3 261.3,806.1 262.5,806.9 263.7,808.3 264.8,808.4 266.0,808.2 267.2,809.8 268.4,809.7 269.6,809.5 270.8,810.4 272.1,810.6 273.3,810.0 274.6,811.1 275.7,810.7 276.9,810.7 278.1,811.5 279.2,812.1 280.4,810.9 281.7,811.7 282.9,810.8 284.1,812.7 285.3,810.5 286.6,811.6 287.8,812.1 289.1,812.9 290.3,811.9 291.6,810.6 292.9,813.2 294.1,812.5 295.4,811.3 296.6,813.0 297.9,813.4 299.1,812.5 300.4,812.6 301.6,812.8 302.8,813.0 304.0,813.2 305.3,811.6 306.5,812.5 307.7,812.1 308.9,812.7 310.2,814.5 311.4,814.5 312.6,812.8 313.8,812.6 315.1,811.9 316.3,811.6 317.5,812.2 318.7,812.8 320.0,812.2 321.2,812.4 322.4,810.3 323.6,810.6 324.8,812.3 326.1,812.9 327.3,812.2 328.5,811.6 329.7,812.4 331.0,811.8 332.2,812.5 333.5,811.2 334.8,810.4 336.1,811.4 337.4,810.8 338.7,811.0 340.0,809.7 341.3,809.8 342.5,809.2 343.8,810.1 345.1,810.2 346.3,808.9 347.5,809.4 348.7,809.5 349.9,808.9 351.1,808.8 352.2,807.4 353.3,806.7 354.4,808.2 355.4,807.1 356.8,809.7 358.2,806.7 359.4,808.0 360.7,807.6 361.9,807.9 363.1,807.0 364.2,803.5 365.4,806.1 366.6,806.1 367.8,804.7 369.0,804.9 370.2,804.3 371.4,803.4 372.7,803.9 373.9,804.3 375.1,802.8 376.4,802.5 377.6,802.6 378.8,802.2 380.0,801.1 381.2,798.7 382.3,798.9 383.4,801.1 384.5,799.0 385.6,799.5 386.6,797.8 387.7,797.7 388.7,798.8 389.6,795.8 390.6,794.6 391.5,795.1 392.5,793.1 393.3,793.7 394.2,791.0 395.1,792.0 396.0,790.7 396.9,790.7 397.7,788.6 398.5,786.1 399.2,785.4 400.0,786.3 400.7,785.9 401.5,784.1 402.1,782.8 402.8,782.6 403.4,780.4 404.0,779.6 404.6,780.6 405.2,776.4 405.8,776.4 406.4,774.3 406.9,773.7 407.5,772.8 408.1,772.3 408.7,771.7 409.3,769.9 409.8,768.2 410.4,766.3 410.9,766.0 411.5,765.6 412.0,764.5 412.6,763.0 413.1,761.5 413.7,762.3 414.2,759.4 414.8,758.7 415.3,757.7 415.9,755.9 416.5,755.8 417.0,753.6 417.6,752.4 418.2,751.2 418.8,750.0 419.4,749.9 420.0,747.9 420.6,747.3 421.2,743.6 421.7,745.4 422.2,743.9 422.7,741.1 423.2,741.8 423.8,739.1 424.3,738.5 424.8,738.1 425.2,736.6 425.7,734.7 426.2,733.9 426.8,733.0 427.5,731.2 428.2,731.0 429.0,730.7 429.8,729.6 430.6,726.5 431.4,726.4 432.2,726.6 432.8,725.6 433.5,725.5 434.2,727.5 434.9,728.4 435.6,729.9 436.3,730.2 437.0,732.5 437.7,733.8 438.3,735.2 438.9,735.8 439.5,738.3 440.0,737.5 440.5,737.4 440.9,740.3 441.3,740.1 441.7,741.9 442.1,744.2 442.5,744.9 442.8,745.8 443.2,747.9 443.6,749.2 444.0,750.0 444.4,749.9 444.8,753.2 445.2,752.7 445.5,754.4 445.9,755.9 446.3,757.7 446.7,758.8 447.1,760.5 447.5,760.6 447.9,761.0 448.3,763.2 448.7,765.2 449.1,765.1 449.5,766.5 449.9,766.8 450.3,766.9 450.7,770.6 451.0,771.0 451.4,770.8 451.8,773.3 452.1,772.9 452.6,777.2 453.1,777.2 453.5,777.5 453.9,779.2 454.4,780.8 454.8,781.2 455.4,781.6 456.0,784.0 456.6,785.9 457.3,786.6 457.9,788.0 458.6,787.5 459.4,789.4 460.2,791.6 461.0,790.4 461.9,791.2 462.8,792.7 463.7,794.9 464.5,795.9 465.3,795.3 466.2,797.6 467.1,797.8 468.0,798.9 468.9,798.5 469.8,799.5 470.8,800.9 471.8,802.0 472.8,802.8 473.9,803.8 474.9,803.5 476.0,804.7 477.1,806.1 478.1,805.7 479.1,805.4 480.1,806.3 481.2,806.3 482.2,806.1 483.3,810.2 484.4,807.9 485.5,809.8 486.6,809.4 487.8,811.4 488.9,810.6 490.1,811.4 491.3,811.1 492.5,811.5 493.7,813.5 494.9,812.5 496.1,811.8 497.3,813.8 498.4,815.3 499.6,812.5 500.7,812.6 501.8,814.1 503.0,815.6 504.2,814.6 505.4,814.6 506.5,814.8 507.7,813.4 508.9,816.9 510.2,815.8 511.4,813.7 512.6,814.2 513.9,814.5 515.1,813.6 516.4,815.8 517.7,815.1 519.0,814.3 520.3,815.0 521.6,816.2 523.0,813.7 524.3,815.0 525.4,814.5 526.5,815.1 527.7,814.5 528.8,816.0 530.0,815.1 531.1,814.3 532.3,816.0 533.5,814.1 534.7,813.2 535.9,814.8 537.1,813.3 538.4,815.4 539.6,816.9 540.8,815.6 542.1,817.0 543.3,814.4 544.6,816.0 545.8,816.5 547.1,816.8 548.3,816.0 549.6,817.9 550.9,815.7 552.1,815.5 553.4,816.4 554.6,817.9 555.9,816.8 557.2,816.8 558.4,815.1 559.7,815.7 560.9,815.8 562.1,816.4 563.4,816.2 564.6,816.5 565.8,816.7 567.1,815.9 568.3,817.6 569.5,815.7 570.8,816.7 572.0,816.2 573.2,815.5 574.5,816.4 575.7,818.2 577.0,815.7 578.2,816.0 579.4,815.3 580.7,815.3 581.9,816.6 583.2,816.3 584.4,815.2 585.6,816.0 586.9,817.0 588.1,816.2 589.4,815.3 590.6,815.0 591.8,817.6 593.0,817.5 594.2,816.2 595.5,816.9 596.7,816.6 597.9,816.5 599.1,814.8 600.3,814.2 601.5,817.6 602.7,817.8 603.8,815.1 605.0,814.4 606.3,816.4 607.5,815.8 608.8,815.5 610.1,816.7 611.5,817.4 612.8,815.4 614.1,813.6 615.4,816.3 616.7,815.6 618.0,815.2 619.4,816.3 620.7,815.9 622.0,814.0 623.2,816.6 624.5,815.3 625.8,815.3 627.0,814.0 628.2,817.4 629.4,815.6 630.6,815.1 631.7,813.5 632.8,815.2 633.9,814.1 634.9,815.1 635.9,814.2 636.9,812.5 637.8,813.1 638.7,813.5 640.1,811.1 641.5,812.3 642.8,812.1 644.0,811.1 645.1,810.3 646.2,809.8 647.2,809.5 648.2,808.8 649.1,808.5 649.9,806.4 650.7,805.2 651.3,806.1 651.9,802.8 652.5,803.4 652.9,802.2 653.4,800.8 653.8,800.0 654.2,798.7 654.6,798.3 655.1,794.0 655.5,795.3 656.0,791.6 656.4,792.0 656.8,791.3 657.2,789.7 657.7,788.7 658.1,786.1 658.5,786.6 658.9,783.3 659.3,783.7 659.7,781.9 660.1,780.7 660.5,780.4 661.0,778.9 661.4,778.5 661.8,776.2 662.2,774.1 662.7,773.6 663.1,773.2 663.5,771.3 663.9,770.7 664.3,767.7 664.7,767.6 665.1,765.0 665.5,765.7 665.9,764.8 666.3,762.0 666.7,762.8 667.1,762.0 667.5,759.0 667.9,759.2 668.3,757.6 668.8,756.7 669.3,756.4 669.8,751.9 670.3,749.7 670.8,751.1 671.5,749.5 672.3,747.1 673.2,747.5 674.2,747.4 675.2,746.6 676.1,745.0 676.9,744.9 677.6,743.5 678.4,742.7 679.1,741.4 679.9,738.7 680.7,738.2 681.8,738.2 683.0,735.3 684.2,735.9 685.5,736.5 686.6,735.4 687.8,735.6 689.1,737.2 690.3,737.7 691.5,737.6 692.6,737.7 693.8,739.8 695.0,739.7 696.1,740.2 697.2,740.7 698.0,741.1 698.7,741.8 699.5,742.8 700.2,743.8 700.9,746.5 701.6,745.2 702.4,748.1 703.1,748.2 703.8,749.7 704.5,750.8 705.3,751.4 706.0,752.6 706.8,752.7 707.5,753.3 708.3,755.2 709.0,756.1 709.7,756.0 710.5,758.4 711.2,761.7 712.0,761.7 712.7,761.6 713.5,761.6 714.2,764.3 714.9,764.9 715.6,765.6 716.4,767.5 717.1,767.7 717.9,769.9 718.6,769.2 719.5,771.4 720.4,771.3 721.2,772.2 722.1,773.6 723.0,773.7 724.0,774.6 725.0,776.1 726.0,776.0 727.1,777.4 728.1,778.4 729.2,778.6 730.2,781.1 731.2,780.8 732.2,782.0 733.1,781.9 734.1,783.8 735.1,782.6 736.0,784.6 737.0,784.7 738.0,786.1 738.9,785.0 739.9,787.7 740.9,787.4 741.9,788.7 743.1,789.0 744.3,789.7 745.5,791.4 746.7,789.7 747.9,791.5 749.1,792.1 750.3,790.9 751.4,791.4 752.4,791.4 753.3,790.5 754.2,790.5 755.1,788.8 756.0,788.6 756.9,786.8 757.8,786.1 758.7,783.5 759.7,783.7 760.8,783.9 761.9,783.0 763.0,782.8 764.1,782.3 765.3,782.7 766.5,782.9 767.8,781.8 769.0,780.4 770.3,784.5 771.6,781.1 773.0,782.5 774.3,780.7 775.4,783.9 776.6,781.7 777.8,782.1 779.0,781.8 780.3,782.9 781.6,780.5 782.8,782.2 784.1,782.5 785.4,782.8 786.7,781.8 788.0,782.9 789.3,782.2 790.6,783.3 791.9,784.4 793.1,782.4 794.4,784.4 795.6,782.6 796.8,782.4 798.0,784.1 799.2,782.8 800.4,784.9 801.6,785.5 802.8,785.3 803.9,786.1 805.1,785.8 806.3,787.1 807.5,786.5 808.7,787.2 809.9,788.1 811.1,787.6 812.2,787.3 813.4,788.7 814.6,790.1 815.7,788.2 816.9,790.1 818.0,790.4 819.1,790.0 820.2,790.1 821.4,792.3 822.5,793.9 823.6,793.8 824.7,793.0 825.8,793.3 826.9,794.4 828.1,794.7 829.2,794.0 830.3,796.1 831.4,795.7 832.5,796.0 833.7,797.0 834.8,796.1 836.0,799.4 837.1,796.3 838.3,798.1 839.5,798.3 840.6,800.8 841.8,799.2 842.9,800.1 844.1,800.0 845.3,801.5 846.4,799.2 847.6,802.1 848.8,800.1 850.0,800.5 851.2,803.2 852.5,804.6 853.7,803.1 855.0,804.2 856.1,803.6 857.3,803.7 858.5,804.4 859.7,804.9 860.9,804.4 862.1,803.8 863.4,805.6 864.7,804.1 865.9,805.3 867.2,804.5 868.5,805.7 869.7,805.4 871.0,807.0 872.3,804.1 873.5,806.8 874.8,806.7 876.0,804.0 877.3,806.4 878.5,806.1 879.7,807.0 880.8,805.4 882.0,805.3 883.3,805.7 884.7,805.4 886.0,806.6 887.3,807.9 888.5,805.6 889.8,807.1 891.1,805.6 892.3,805.4 893.5,807.3 894.8,807.5 896.0,805.7 897.2,807.1 898.5,806.4 899.7,804.3 901.0,805.7 902.2,804.9 903.4,805.3 904.6,806.0 905.8,805.5 907.1,806.8 908.3,802.3 909.5,804.4 910.7,804.5 912.0,805.5 913.2,805.5 914.4,802.0 915.6,802.8 916.8,803.1 917.9,801.1 919.1,802.1 920.2,802.8 921.3,799.4 922.4,799.9 923.7,800.5 924.9,797.9 926.2,801.4 927.3,801.7 928.5,798.3 929.6,799.5 930.8,799.2 932.0,799.0 933.2,798.8 934.5,798.7 935.8,798.6 936.9,799.3 938.0,798.3 939.2,798.4 940.4,798.7 941.6,797.6 942.8,797.2 944.0,796.6 945.3,797.5 946.5,797.1 947.8,797.1 949.1,796.1 950.4,797.9 951.7,796.8 953.0,797.6 954.3,796.6 955.6,795.6 956.9,796.7 958.0,797.3 959.1,797.9 960.3,796.5 961.4,796.7 962.6,797.1 963.7,799.1 964.9,797.4 966.1,798.9 967.2,797.4 968.4,798.4 969.6,799.6 970.8,799.7 972.0,800.1 973.2,800.2 974.4,801.4 975.6,801.2 976.8,801.5 978.0,800.3 979.2,802.3 980.4,802.8 981.5,801.7 982.7,804.0 983.9,803.6 985.1,802.2 986.3,804.4 987.6,804.2 988.8,804.0 990.0,805.9 991.2,804.1 992.5,805.1 993.7,805.4 994.9,805.1 996.1,804.6 997.3,805.0 998.6,805.9 999.8,807.2 1001.0,806.1 1002.2,806.7 1003.5,806.0 1004.7,807.6 1005.9,806.1 1007.1,806.6 1008.4,809.3 1009.6,807.3 1010.8,808.6 1012.0,807.4 1013.2,805.9 1014.5,809.3 1015.7,808.6 1016.9,808.7 1018.1,810.3 1019.4,811.2 1020.6,809.0 1021.8,809.9 1023.0,810.3 1024.2,810.5 1025.5,809.7 1026.7,810.7 1027.9,810.0 1029.1,809.6 1030.4,811.5 1031.6,809.0 1032.8,810.7 1034.0,811.7 1035.3,811.1 1036.5,811.6 1037.7,811.9 1038.9,811.4 1040.1,811.6 1041.4,812.8 1042.6,813.0 1043.8,813.0 1045.0,813.2 1046.3,813.2 1047.5,813.8 1048.7,812.5 1049.9,813.9 1051.1,814.5 1052.4,813.8 1053.6,813.0 1054.8,813.5 1056.0,812.0 1057.3,813.9 1058.5,814.5 1059.7,815.3 1060.9,815.4 1062.2,815.2 1063.4,814.9 1064.6,814.9 1065.8,816.0 1067.1,815.6 1068.3,815.6 1069.5,815.2 1070.7,816.6 1072.0,816.4 1073.2,814.5 1074.4,816.3 1075.6,815.8 1076.9,817.1 1078.1,818.0 1079.3,816.8 1080.5,818.0 1081.8,818.0 1083.0,818.0 1084.2,818.8 1085.5,818.0 1086.7,818.4 1087.9,819.3 1089.1,817.4 1090.4,819.3 1091.6,818.6 1092.8,818.4 1094.0,818.5 1095.3,819.2 1096.5,818.5 1097.7,817.9 1098.9,819.0 1100.2,820.7 1101.4,818.5 1102.6,819.6 1103.8,818.1 1105.0,818.0 1106.3,818.9 1107.5,818.9 1108.7,820.8 1109.9,819.3 1111.2,820.0 1112.4,822.2 1113.6,821.1 1114.8,818.6 1116.1,819.4 1117.3,819.6 1118.5,821.8 1119.7,818.5 1120.9,821.0 1122.2,819.9 1123.4,820.6 1124.6,821.2 1125.8,821.8 1127.1,818.6 1128.3,821.5 1129.5,820.7 1130.7,821.4 1131.9,821.4 1133.2,820.3 1134.4,820.2 1135.6,820.0 1136.8,820.4 1138.1,820.0 1139.3,821.9 1140.5,820.2 1141.7,821.2 1143.0,820.4 1144.2,820.7 1145.4,820.0 1146.6,822.0 1147.9,819.5 1149.1,822.0 1150.4,821.4 1151.7,820.1 1152.9,823.0 1154.2,820.8 1155.5,818.8 1156.8,819.2 1158.1,820.7 1159.3,820.4 1160.6,820.2 1161.8,819.2 1163.1,819.6 1164.3,818.7 1165.5,820.6 1166.7,821.0 1167.9,819.6 1169.1,819.9 1170.2,821.0 1171.3,820.5 1172.4,821.3 1173.8,820.1 1175.1,820.9 1176.4,820.7 1177.6,819.6 1178.8,820.1 1180.0,821.3 1181.2,819.9 1182.4,819.7 1183.6,819.9 1184.8,818.6 1186.0,820.7 1187.2,819.6 1188.5,818.4 1189.7,818.8 1190.9,819.6 1192.1,818.8 1193.3,818.7 1194.6,819.6 1195.8,818.7 1197.1,818.3 1198.3,819.7 1199.5,819.4 1200.8,818.2 1202.0,820.2 1203.3,819.8 1204.5,819.3 1205.7,818.5 1206.9,818.9 1208.1,816.3 1209.3,818.4 1210.5,816.8 1211.7,817.0 1213.0,817.1 1214.2,815.8 1215.4,815.8 1216.6,815.2 1217.8,813.9 1218.9,815.0 1220.1,814.7 1221.2,814.0 1222.3,813.0 1223.4,814.6 1224.4,812.1 1225.6,811.2 1226.7,810.4 1227.8,810.5 1228.9,809.1 1229.9,808.4 1231.0,808.6 1232.0,807.1 1232.9,806.6 1233.9,806.8 1234.8,805.8 1235.7,804.1 1236.6,802.9 1237.5,800.4 1238.3,802.5 1239.0,801.0 1239.8,800.3 1240.5,798.3 1241.2,797.0 1241.9,794.9 1242.6,794.9 1243.3,795.3 1243.9,795.5 1244.6,792.6 1245.3,792.0 1246.0,791.7 1246.6,787.9 1247.2,787.9 1247.8,785.1 1248.4,784.3 1249.1,783.4 1249.8,783.5 1250.6,781.1 1251.4,781.2 1252.4,781.6 1253.5,780.3 1254.6,783.4 1255.8,785.0 1257.0,782.3 1258.2,783.4 1259.5,784.3 1260.8,785.1 1261.9,784.3 1263.1,784.5 1264.4,785.8 1265.7,786.8 1267.0,785.4 1268.3,784.5 1269.6,785.8 1270.8,784.5 1272.0,784.4 1273.2,786.0 1274.3,786.8 1275.6,786.0 1276.8,786.2 1277.9,786.4 1279.0,785.7 1280.1,787.2 1281.2,788.5 1282.3,790.3 1283.2,788.4 1284.1,788.5 1284.9,790.0 1285.8,791.1 1286.7,791.9 1287.5,793.1 1288.4,794.6 1289.3,794.7 1290.1,795.5 1291.0,796.9 1291.8,796.3 1292.7,798.9 1293.5,800.0 1294.3,800.4 1295.1,801.9 1295.9,804.3 1296.7,803.4 1297.6,804.7 1298.4,805.4 1299.3,807.4 1300.2,808.0 1301.2,809.2 1302.1,808.9 1303.0,808.6 1304.0,810.5 1304.9,811.0 1305.9,812.2 1306.9,812.3 1307.9,813.3 1309.0,815.7 1310.1,815.3 1311.2,814.8 1312.3,816.2 1313.4,816.0 1314.6,816.9 1315.7,817.2 1316.9,817.5 1318.0,816.3 1319.3,818.1 1320.5,816.9 1321.7,818.5 1323.0,818.7 1324.3,818.4 1325.6,819.1 1326.9,819.4 1328.2,818.0 1329.5,819.7 1330.9,819.8 1332.2,818.1 1333.5,818.5 1334.8,818.8 1336.0,818.2 1337.1,818.1 1338.3,819.5 1339.5,818.5 1340.7,817.8 1341.9,818.5 1343.1,819.4 1344.3,817.2 1345.5,819.0 1346.7,818.6 1347.9,817.1 1349.2,818.1 1350.4,817.8 1351.6,815.9 1352.8,817.4 1354.0,817.8 1355.3,818.8 1356.5,816.8 1357.7,815.0 1358.9,816.4 1360.1,817.4 1361.3,817.0 1362.5,817.0 1363.7,817.2 1364.9,816.8 1366.1,817.7 1367.3,817.0 1368.5,818.2 1369.7,818.6 1370.9,818.5 1372.2,819.1 1373.4,818.7 1374.6,818.2 1375.8,819.7 1377.0,819.0 1378.3,819.2 1379.5,821.9 1380.8,820.4 1382.0,822.6 1383.2,820.7 1384.4,820.8 1385.6,821.4 1386.8,821.1 1388.0,821.8 1389.2,823.8 1390.5,823.4 1391.7,823.4 1392.9,822.8 1394.1,823.6 1395.4,822.3 1396.6,822.8 1397.8,822.6 1399.0,821.4 1400.3,824.1 1401.5,823.0 1402.7,822.7 1404.0,824.0 1405.2,824.2 1406.4,826.1 1407.7,825.7 1408.9,824.6 1410.1,824.5 1411.4,824.7 1412.6,825.9 1413.8,825.4 1415.1,823.2 1416.3,824.2 1417.6,825.9 1418.8,824.4 1420.1,824.6 1421.3,823.1 1422.5,825.0 1423.8,826.2 1425.0,826.4 1426.3,826.4 1427.5,826.1 1428.7,824.5 1429.9,825.4 1431.1,825.5 1432.3,825.8 1433.5,825.9 1434.6,825.1 1435.8,826.4 1437.1,826.4 1438.4,825.7 1439.7,826.7 1441.0,823.7 1442.2,827.0 1443.5,824.6 1444.7,825.0 1446.0,826.6 1447.2,825.7 1448.4,825.4 1449.6,823.7 1450.8,825.2 1452.1,824.7 1453.3,826.8 1454.5,827.0 1455.7,824.8 1456.9,826.1 1458.1,826.7 1459.3,826.2 1460.5,825.0 1461.7,823.9 1462.9,824.2 1464.1,823.2 1465.3,823.0 1466.4,823.7 1467.6,821.7 1468.8,821.8 1470.0,820.3 1471.1,821.0 1472.3,819.8 1473.5,821.0 1474.7,821.4 1475.9,820.2 1477.1,820.0 1478.3,817.6 1479.6,819.5 1480.8,816.6 1482.0,817.7 1483.3,819.3 1484.5,816.8 1485.7,819.1 1487.0,817.4 1488.2,817.1 1489.5,818.5 1490.8,818.5 1492.0,818.1 1493.3,816.9 1494.6,818.5 1496.0,818.1 1497.3,818.5 1498.4,818.9 1499.6,819.1 1500.8,818.6 1502.0,819.1 1503.2,817.2 1504.4,817.8 1505.6,817.4 1506.8,820.6 1508.1,818.4 1509.3,819.0 1510.6,820.3 1511.8,820.2 1513.1,819.5 1514.3,819.5 1515.6,820.1 1516.8,821.4 1518.1,820.4 1519.3,821.6 1520.6,821.4 1521.8,821.5 1523.1,821.5 1524.3,821.1 1525.5,820.4 1526.7,821.6 1528.0,822.4 1529.2,822.7 1530.4,822.0 1531.6,823.0 1532.9,821.5 1534.1,821.2 1535.3,822.1 1536.5,821.5 1537.7,822.3 1539.0,822.6 1540.2,823.2 1541.4,821.5 1542.6,822.1 1543.9,822.3 1545.1,824.8 1546.3,823.2 1547.5,822.9 1548.8,822.2 1550.0,823.4 1551.2,823.1 1552.4,825.7 1553.6,824.0 1554.9,823.5 1556.1,822.9 1557.3,821.8 1558.5,825.1 1559.8,824.0 1561.0,823.2 1562.2,822.6 1563.4,824.8 1564.7,825.7 1565.9,821.9 1567.1,824.8 1568.3,824.7 1569.5,823.8 1570.8,824.0 1572.0,824.6 1573.2,823.3 1574.4,822.9 1575.7,825.6 1576.9,824.6 1578.1,824.3 1579.3,825.1 1580.5,826.2 1581.8,823.8 1583.0,824.1 1584.2,824.6 1585.4,825.3 1586.7,825.2 1587.9,824.5 1589.1,825.2 1590.3,825.2 1591.5,827.6 1592.8,823.0 1594.0,824.6 1595.2,824.6 1596.4,826.9 1597.7,826.6 1598.9,827.1 1600.1,826.2 1601.3,826.4 1602.6,826.7 1603.8,824.2 1605.0,826.2 1606.2,826.3 1607.5,827.2 1608.7,826.6 1609.9,825.8 1611.1,827.5 1612.4,827.4 1613.6,826.9 1614.8,827.5 1616.0,826.4 1617.3,825.1 1618.5,826.3 1619.7,827.4 1621.0,826.4 1622.2,828.6 1623.4,828.0 1624.6,828.1 1625.9,826.1 1627.1,827.2 1628.3,826.6 1629.5,826.7 1630.8,827.6 1632.0,828.8 1633.2,826.9 1634.4,827.8 1635.7,827.3 1636.9,827.4 1638.1,826.3 1639.3,827.6 1640.6,826.8 1641.8,826.0 1643.0,825.9 1644.2,826.1 1645.5,826.8 1646.7,826.4 1647.9,826.9 1649.1,825.3 1650.3,825.1 1651.6,827.4 1652.8,827.6 1654.0,827.5 1655.2,825.4 1656.5,826.5 1657.7,826.9 1658.9,827.9 1660.1,825.4 1661.3,825.9 1662.6,827.6 1663.8,827.3 1665.0,825.7 1666.2,828.4 1667.4,826.7 1668.7,826.1 1669.9,826.8 1671.1,826.8 1672.3,826.8 1673.5,826.1 1674.7,826.6 1676.0,829.1 1677.2,827.9 1678.4,825.7 1679.6,828.5 1680.9,827.2 1682.1,827.4 1683.3,827.9 1684.6,826.3 1685.8,828.0 1687.0,828.0 1688.2,825.8 1689.4,826.0 1690.7,827.5 1691.9,827.0 1693.1,826.8 1694.3,829.1 1695.5,826.7 1696.7,827.7 1698.0,827.5 1699.2,827.6 1700.4,828.6 1701.6,826.1 1702.9,826.3 1704.1,826.0 1705.3,827.0 1706.6,828.6 1707.8,827.2 1709.1,827.1 1710.4,827.6 1711.6,828.6 1712.9,827.9 1714.2,828.8 1715.4,828.2 1716.5,827.5 1717.7,828.6 1718.9,828.8 1720.1,828.6 1721.3,828.4 1722.5,829.4 1723.7,828.6 1725.0,828.3 1726.2,827.7 1727.4,829.9 1728.6,827.3 1729.9,829.3 1731.1,828.0 1732.3,828.5 1733.6,828.4 1734.8,828.4 1736.1,829.7 1737.3,828.8 1738.5,829.1 1739.8,828.7 1741.0,829.1 1742.3,830.8 1743.5,828.9 1744.7,830.3 1746.0,830.1 1747.2,829.5 1748.4,830.2 1749.6,829.9 1750.8,831.7 1752.1,829.0 1753.3,830.8 1754.5,829.3 1755.7,829.5 1756.9,830.7 1758.1,831.7 1759.4,828.3 1760.6,829.9 1761.8,829.9 1763.0,828.7 1764.2,829.5 1765.4,829.4 1766.7,830.8 1767.9,831.8 1769.1,827.7 1770.3,830.1 1771.5,831.7 1772.8,829.7 1774.0,830.8 1775.2,831.2 1776.4,829.3 1777.6,832.0 1778.8,830.4 1780.1,831.2 1781.3,828.8 1782.5,828.7 1783.7,829.6 1784.9,829.7 1786.2,831.1 1787.4,829.4 1788.6,830.1 1789.8,830.5 1791.0,831.1 1792.3,828.9 1793.5,831.2 1794.7,829.1 1795.9,828.3 1797.2,828.1 1798.4,830.4 1799.6,830.0 1800.8,830.8 1802.0,830.8 1803.3,830.2 1804.5,832.8 1805.7,831.2 1806.9,829.5 1808.1,830.5 1809.4,831.0 1810.6,828.4 1811.8,829.8 1813.0,830.4 1814.3,827.7 1815.5,830.0 1816.7,830.0 1817.9,831.2 1819.1,831.5 1820.3,830.5 1821.5,830.4 1822.7,829.5 1823.9,830.8 1825.1,829.2 1826.3,831.3 1827.5,830.8 1828.7,830.5 1829.9,829.2 1831.1,830.4 1832.3,828.5 1833.5,829.3 1834.7,829.4 1835.9,829.8 1837.1,829.2 1838.3,829.1 1839.5,831.2 1840.8,830.4 1842.0,831.2 1843.2,831.0 1844.5,830.7 1845.7,830.5 1847.0,830.4 1848.3,829.5 1849.6,830.1 1850.9,831.3 1852.0,830.6 1853.2,831.7 1854.3,832.7 1855.5,830.0 1856.6,829.6 1857.8,830.2 1859.0,830.6 1860.2,831.0 1861.3,830.6 1862.5,830.2 1863.7,829.4 1865.0,828.3 1866.2,831.2 1867.4,830.2 1868.6,829.3 1869.8,831.3 1871.1,828.8 1872.3,829.7 1873.5,830.7 1874.8,830.0 1876.0,830.1 1877.2,829.6 1878.5,828.3 1879.7,830.3 1881.0,829.8 1882.2,829.2 1883.5,832.1 1884.7,828.8 1885.9,829.4 1887.2,829.0 1888.4,829.8 1889.6,828.4 1890.9,829.7 1892.1,829.2 1893.3,830.8 1894.6,829.7 1895.8,829.6 1897.0,831.4" fill="none" stroke="#1A6EDF" stroke-width="15" stroke-opacity="0.45" stroke-linejoin="round"/>
<path d="M146.0,768.2 146.6,766.6 147.3,767.3 147.9,766.4 148.6,764.6 149.2,762.4 149.8,762.0 150.3,760.9 150.8,759.3 151.1,758.7 151.4,757.2 151.6,754.9 151.8,756.1 152.0,751.8 152.1,752.6 152.3,751.5 152.4,749.4 152.6,747.7 152.8,745.5 153.0,745.2 153.2,743.3 153.4,742.4 153.6,741.6 153.8,738.1 154.0,738.4 154.3,739.4 154.5,738.0 154.8,736.3 155.0,734.3 155.3,733.5 155.5,732.1 155.8,730.0 156.0,730.9 156.3,729.9 156.5,726.8 156.8,726.1 157.0,724.1 157.3,725.1 157.5,721.6 157.7,720.7 157.9,719.6 158.0,718.8 158.2,716.9 158.3,715.9 158.5,714.7 158.7,714.3 158.8,712.5 159.0,711.3 159.1,710.5 159.3,712.0 159.4,706.8 159.6,708.0 159.7,706.3 159.9,707.2 160.0,704.2 160.1,701.7 160.3,701.0 160.4,700.5 160.6,698.2 160.7,696.3 160.9,698.7 161.0,695.4 161.1,693.0 161.3,692.1 161.4,691.1 161.6,689.2 161.7,688.9 161.9,687.7 162.0,686.8 162.2,686.4 162.3,684.7 162.5,682.9 162.6,681.0 162.8,680.0 162.9,679.6 163.1,677.7 163.2,676.0 163.4,673.7 163.5,674.0 163.7,673.8 163.8,672.0 164.0,670.9 164.1,668.8 164.3,668.7 164.5,667.2 164.6,668.5 164.8,664.8 164.9,664.7 165.1,662.1 165.2,661.4 165.4,659.8 165.6,659.2 165.7,657.7 165.9,657.5 166.0,655.5 166.2,654.7 166.3,653.8 166.5,650.2 166.6,650.1 166.8,647.1 166.9,648.3 167.0,646.0 167.2,646.7 167.3,646.2 167.5,642.8 167.6,643.7 167.7,639.3 167.9,640.6 168.0,639.0 168.1,637.5 168.3,635.8 168.4,633.4 168.5,633.6 168.6,632.0 168.7,629.9 168.8,627.9 169.0,628.6 169.1,628.6 169.2,624.8 169.3,625.7 169.4,623.7 169.5,622.0 169.6,620.0 169.7,618.7 169.9,616.6 170.0,616.0 170.1,615.4 170.2,614.7 170.3,613.5 170.4,612.8 170.6,609.4 170.7,610.0 170.8,607.5 170.9,605.5 171.1,605.1 171.2,605.0 171.4,603.4 171.5,602.7 171.7,600.3 171.9,599.3 172.0,599.8 172.2,597.7 172.4,597.2 172.6,594.3 172.8,592.6 172.9,592.5 173.1,591.3 173.3,589.4 173.5,587.5 173.7,587.8 173.9,584.9 174.2,585.5 174.4,584.2 174.7,584.0 174.9,582.1 175.2,580.6 175.5,579.6 175.9,578.5 176.4,576.3 177.0,576.2 177.5,575.7 178.1,572.0 178.6,572.5 179.2,571.3 179.7,571.0 180.2,568.9 180.7,569.9 181.2,570.4 181.7,570.7 182.1,571.2 182.6,572.2 183.0,573.7 183.4,575.4 183.8,575.8 184.2,576.9 184.5,579.9 184.7,581.4 184.9,583.3 185.1,583.1 185.3,583.6 185.4,585.1 185.5,585.9 185.7,588.3 185.8,589.4 185.9,590.1 186.0,592.1 186.1,593.2 186.2,593.8 186.3,594.6 186.4,597.6 186.5,598.0 186.6,599.7 186.8,599.6 186.9,602.8 187.0,604.1 187.1,604.4 187.2,605.6 187.3,606.7 187.4,607.0 187.5,609.5 187.6,610.1 187.7,611.0 187.8,613.2 187.9,616.6 188.0,615.4 188.1,616.3 188.2,617.4 188.3,620.0 188.4,621.2 188.5,622.3 188.6,621.4 188.7,623.7 188.8,624.5 188.9,626.6 189.0,626.7 189.1,628.6 189.2,629.6 189.3,632.5 189.4,630.7 189.5,634.8 189.6,636.2 189.7,636.7 189.9,639.5 190.0,642.0 190.1,641.4 190.2,642.2 190.3,640.6 190.4,644.5 190.6,646.5 190.7,647.1 190.8,647.2 190.9,648.9 191.0,650.3 191.2,652.3 191.3,652.5 191.4,654.7 191.5,654.7 191.7,656.6 191.8,657.7 191.9,659.0 192.1,661.3 192.2,662.2 192.3,662.6 192.5,663.6 192.6,667.0 192.7,666.7 192.9,666.8 193.0,669.4 193.1,671.3 193.3,670.8 193.4,672.4 193.5,673.8 193.7,676.2 193.8,677.1 194.0,677.1 194.1,678.9 194.2,679.2 194.4,680.4 194.5,681.0 194.7,681.6 194.9,684.1 195.1,687.0 195.3,685.6 195.5,687.5 195.7,688.7 195.9,690.0 196.1,690.2 196.3,692.8 196.5,693.7 196.7,695.6 196.9,697.5 197.1,697.4 197.3,699.8 197.5,699.8 197.7,700.5 197.9,701.8 198.1,703.1 198.3,704.8 198.4,705.2 198.6,707.8 198.8,707.7 198.9,708.0 199.1,710.2 199.2,710.8 199.4,714.1 199.6,714.5 199.7,715.0 199.9,716.6 200.1,717.0 200.4,720.0 200.6,718.6 200.8,721.5 201.1,721.1 201.3,723.6 201.6,724.9 201.9,727.2 202.2,728.4 202.4,728.0 202.7,730.0 203.0,730.1 203.4,733.0 203.7,732.3 204.0,733.7 204.3,735.3 204.7,735.5 205.0,737.0 205.3,739.7 205.7,739.3 206.0,741.7 206.4,742.3 206.7,743.6 207.1,744.0 207.4,745.7 207.8,747.0 208.2,748.0 208.6,748.6 209.0,751.1 209.4,750.9 209.7,753.9 210.2,754.8 210.6,755.0 211.0,754.6 211.4,757.9 211.8,757.9 212.3,760.8 212.7,759.5 213.2,761.4 213.6,763.0 214.1,765.9 214.5,765.5 215.0,768.0 215.4,767.3 215.9,768.3 216.4,769.4 216.8,770.2 217.3,773.0 217.9,772.8 218.4,771.8 219.0,774.5 219.6,775.5 220.2,778.1 220.8,778.7 221.5,779.2 222.1,780.2 222.8,781.5 223.5,782.4 224.2,785.4 225.0,784.2 225.7,784.8 226.5,786.2 227.3,786.7 228.1,787.7 228.9,790.0 229.8,789.3 230.6,790.4 231.5,792.5 232.4,792.5 233.3,794.6 234.3,792.7 235.3,796.5 236.3,795.3 237.3,796.2 238.3,797.0 239.4,798.1 240.5,799.6 241.6,797.3 242.8,799.9 243.9,802.1 245.1,800.8 246.2,802.4 247.4,802.4 248.6,801.8 249.7,802.0 250.9,804.1 252.1,804.8 253.2,802.8 254.4,804.5 255.6,804.5 256.7,805.6 257.9,805.1 259.0,807.2 260.2,807.3 261.3,806.1 262.5,806.9 263.7,808.3 264.8,808.4 266.0,808.2 267.2,809.8 268.4,809.7 269.6,809.5 270.8,810.4 272.1,810.6 273.3,810.0 274.6,811.1 275.7,810.7 276.9,810.7 278.1,811.5 279.2,812.1 280.4,810.9 281.7,811.7 282.9,810.8 284.1,812.7 285.3,810.5 286.6,811.6 287.8,812.1 289.1,812.9 290.3,811.9 291.6,810.6 292.9,813.2 294.1,812.5 295.4,811.3 296.6,813.0 297.9,813.4 299.1,812.5 300.4,812.6 301.6,812.8 302.8,813.0 304.0,813.2 305.3,811.6 306.5,812.5 307.7,812.1 308.9,812.7 310.2,814.5 311.4,814.5 312.6,812.8 313.8,812.6 315.1,811.9 316.3,811.6 317.5,812.2 318.7,812.8 320.0,812.2 321.2,812.4 322.4,810.3 323.6,810.6 324.8,812.3 326.1,812.9 327.3,812.2 328.5,811.6 329.7,812.4 331.0,811.8 332.2,812.5 333.5,811.2 334.8,810.4 336.1,811.4 337.4,810.8 338.7,811.0 340.0,809.7 341.3,809.8 342.5,809.2 343.8,810.1 345.1,810.2 346.3,808.9 347.5,809.4 348.7,809.5 349.9,808.9 351.1,808.8 352.2,807.4 353.3,806.7 354.4,808.2 355.4,807.1 356.8,809.7 358.2,806.7 359.4,808.0 360.7,807.6 361.9,807.9 363.1,807.0 364.2,803.5 365.4,806.1 366.6,806.1 367.8,804.7 369.0,804.9 370.2,804.3 371.4,803.4 372.7,803.9 373.9,804.3 375.1,802.8 376.4,802.5 377.6,802.6 378.8,802.2 380.0,801.1 381.2,798.7 382.3,798.9 383.4,801.1 384.5,799.0 385.6,799.5 386.6,797.8 387.7,797.7 388.7,798.8 389.6,795.8 390.6,794.6 391.5,795.1 392.5,793.1 393.3,793.7 394.2,791.0 395.1,792.0 396.0,790.7 396.9,790.7 397.7,788.6 398.5,786.1 399.2,785.4 400.0,786.3 400.7,785.9 401.5,784.1 402.1,782.8 402.8,782.6 403.4,780.4 404.0,779.6 404.6,780.6 405.2,776.4 405.8,776.4 406.4,774.3 406.9,773.7 407.5,772.8 408.1,772.3 408.7,771.7 409.3,769.9 409.8,768.2 410.4,766.3 410.9,766.0 411.5,765.6 412.0,764.5 412.6,763.0 413.1,761.5 413.7,762.3 414.2,759.4 414.8,758.7 415.3,757.7 415.9,755.9 416.5,755.8 417.0,753.6 417.6,752.4 418.2,751.2 418.8,750.0 419.4,749.9 420.0,747.9 420.6,747.3 421.2,743.6 421.7,745.4 422.2,743.9 422.7,741.1 423.2,741.8 423.8,739.1 424.3,738.5 424.8,738.1 425.2,736.6 425.7,734.7 426.2,733.9 426.8,733.0 427.5,731.2 428.2,731.0 429.0,730.7 429.8,729.6 430.6,726.5 431.4,726.4 432.2,726.6 432.8,725.6 433.5,725.5 434.2,727.5 434.9,728.4 435.6,729.9 436.3,730.2 437.0,732.5 437.7,733.8 438.3,735.2 438.9,735.8 439.5,738.3 440.0,737.5 440.5,737.4 440.9,740.3 441.3,740.1 441.7,741.9 442.1,744.2 442.5,744.9 442.8,745.8 443.2,747.9 443.6,749.2 444.0,750.0 444.4,749.9 444.8,753.2 445.2,752.7 445.5,754.4 445.9,755.9 446.3,757.7 446.7,758.8 447.1,760.5 447.5,760.6 447.9,761.0 448.3,763.2 448.7,765.2 449.1,765.1 449.5,766.5 449.9,766.8 450.3,766.9 450.7,770.6 451.0,771.0 451.4,770.8 451.8,773.3 452.1,772.9 452.6,777.2 453.1,777.2 453.5,777.5 453.9,779.2 454.4,780.8 454.8,781.2 455.4,781.6 456.0,784.0 456.6,785.9 457.3,786.6 457.9,788.0 458.6,787.5 459.4,789.4 460.2,791.6 461.0,790.4 461.9,791.2 462.8,792.7 463.7,794.9 464.5,795.9 465.3,795.3 466.2,797.6 467.1,797.8 468.0,798.9 468.9,798.5 469.8,799.5 470.8,800.9 471.8,802.0 472.8,802.8 473.9,803.8 474.9,803.5 476.0,804.7 477.1,806.1 478.1,805.7 479.1,805.4 480.1,806.3 481.2,806.3 482.2,806.1 483.3,810.2 484.4,807.9 485.5,809.8 486.6,809.4 487.8,811.4 488.9,810.6 490.1,811.4 491.3,811.1 492.5,811.5 493.7,813.5 494.9,812.5 496.1,811.8 497.3,813.8 498.4,815.3 499.6,812.5 500.7,812.6 501.8,814.1 503.0,815.6 504.2,814.6 505.4,814.6 506.5,814.8 507.7,813.4 508.9,816.9 510.2,815.8 511.4,813.7 512.6,814.2 513.9,814.5 515.1,813.6 516.4,815.8 517.7,815.1 519.0,814.3 520.3,815.0 521.6,816.2 523.0,813.7 524.3,815.0 525.4,814.5 526.5,815.1 527.7,814.5 528.8,816.0 530.0,815.1 531.1,814.3 532.3,816.0 533.5,814.1 534.7,813.2 535.9,814.8 537.1,813.3 538.4,815.4 539.6,816.9 540.8,815.6 542.1,817.0 543.3,814.4 544.6,816.0 545.8,816.5 547.1,816.8 548.3,816.0 549.6,817.9 550.9,815.7 552.1,815.5 553.4,816.4 554.6,817.9 555.9,816.8 557.2,816.8 558.4,815.1 559.7,815.7 560.9,815.8 562.1,816.4 563.4,816.2 564.6,816.5 565.8,816.7 567.1,815.9 568.3,817.6 569.5,815.7 570.8,816.7 572.0,816.2 573.2,815.5 574.5,816.4 575.7,818.2 577.0,815.7 578.2,816.0 579.4,815.3 580.7,815.3 581.9,816.6 583.2,816.3 584.4,815.2 585.6,816.0 586.9,817.0 588.1,816.2 589.4,815.3 590.6,815.0 591.8,817.6 593.0,817.5 594.2,816.2 595.5,816.9 596.7,816.6 597.9,816.5 599.1,814.8 600.3,814.2 601.5,817.6 602.7,817.8 603.8,815.1 605.0,814.4 606.3,816.4 607.5,815.8 608.8,815.5 610.1,816.7 611.5,817.4 612.8,815.4 614.1,813.6 615.4,816.3 616.7,815.6 618.0,815.2 619.4,816.3 620.7,815.9 622.0,814.0 623.2,816.6 624.5,815.3 625.8,815.3 627.0,814.0 628.2,817.4 629.4,815.6 630.6,815.1 631.7,813.5 632.8,815.2 633.9,814.1 634.9,815.1 635.9,814.2 636.9,812.5 637.8,813.1 638.7,813.5 640.1,811.1 641.5,812.3 642.8,812.1 644.0,811.1 645.1,810.3 646.2,809.8 647.2,809.5 648.2,808.8 649.1,808.5 649.9,806.4 650.7,805.2 651.3,806.1 651.9,802.8 652.5,803.4 652.9,802.2 653.4,800.8 653.8,800.0 654.2,798.7 654.6,798.3 655.1,794.0 655.5,795.3 656.0,791.6 656.4,792.0 656.8,791.3 657.2,789.7 657.7,788.7 658.1,786.1 658.5,786.6 658.9,783.3 659.3,783.7 659.7,781.9 660.1,780.7 660.5,780.4 661.0,778.9 661.4,778.5 661.8,776.2 662.2,774.1 662.7,773.6 663.1,773.2 663.5,771.3 663.9,770.7 664.3,767.7 664.7,767.6 665.1,765.0 665.5,765.7 665.9,764.8 666.3,762.0 666.7,762.8 667.1,762.0 667.5,759.0 667.9,759.2 668.3,757.6 668.8,756.7 669.3,756.4 669.8,751.9 670.3,749.7 670.8,751.1 671.5,749.5 672.3,747.1 673.2,747.5 674.2,747.4 675.2,746.6 676.1,745.0 676.9,744.9 677.6,743.5 678.4,742.7 679.1,741.4 679.9,738.7 680.7,738.2 681.8,738.2 683.0,735.3 684.2,735.9 685.5,736.5 686.6,735.4 687.8,735.6 689.1,737.2 690.3,737.7 691.5,737.6 692.6,737.7 693.8,739.8 695.0,739.7 696.1,740.2 697.2,740.7 698.0,741.1 698.7,741.8 699.5,742.8 700.2,743.8 700.9,746.5 701.6,745.2 702.4,748.1 703.1,748.2 703.8,749.7 704.5,750.8 705.3,751.4 706.0,752.6 706.8,752.7 707.5,753.3 708.3,755.2 709.0,756.1 709.7,756.0 710.5,758.4 711.2,761.7 712.0,761.7 712.7,761.6 713.5,761.6 714.2,764.3 714.9,764.9 715.6,765.6 716.4,767.5 717.1,767.7 717.9,769.9 718.6,769.2 719.5,771.4 720.4,771.3 721.2,772.2 722.1,773.6 723.0,773.7 724.0,774.6 725.0,776.1 726.0,776.0 727.1,777.4 728.1,778.4 729.2,778.6 730.2,781.1 731.2,780.8 732.2,782.0 733.1,781.9 734.1,783.8 735.1,782.6 736.0,784.6 737.0,784.7 738.0,786.1 738.9,785.0 739.9,787.7 740.9,787.4 741.9,788.7 743.1,789.0 744.3,789.7 745.5,791.4 746.7,789.7 747.9,791.5 749.1,792.1 750.3,790.9 751.4,791.4 752.4,791.4 753.3,790.5 754.2,790.5 755.1,788.8 756.0,788.6 756.9,786.8 757.8,786.1 758.7,783.5 759.7,783.7 760.8,783.9 761.9,783.0 763.0,782.8 764.1,782.3 765.3,782.7 766.5,782.9 767.8,781.8 769.0,780.4 770.3,784.5 771.6,781.1 773.0,782.5 774.3,780.7 775.4,783.9 776.6,781.7 777.8,782.1 779.0,781.8 780.3,782.9 781.6,780.5 782.8,782.2 784.1,782.5 785.4,782.8 786.7,781.8 788.0,782.9 789.3,782.2 790.6,783.3 791.9,784.4 793.1,782.4 794.4,784.4 795.6,782.6 796.8,782.4 798.0,784.1 799.2,782.8 800.4,784.9 801.6,785.5 802.8,785.3 803.9,786.1 805.1,785.8 806.3,787.1 807.5,786.5 808.7,787.2 809.9,788.1 811.1,787.6 812.2,787.3 813.4,788.7 814.6,790.1 815.7,788.2 816.9,790.1 818.0,790.4 819.1,790.0 820.2,790.1 821.4,792.3 822.5,793.9 823.6,793.8 824.7,793.0 825.8,793.3 826.9,794.4 828.1,794.7 829.2,794.0 830.3,796.1 831.4,795.7 832.5,796.0 833.7,797.0 834.8,796.1 836.0,799.4 837.1,796.3 838.3,798.1 839.5,798.3 840.6,800.8 841.8,799.2 842.9,800.1 844.1,800.0 845.3,801.5 846.4,799.2 847.6,802.1 848.8,800.1 850.0,800.5 851.2,803.2 852.5,804.6 853.7,803.1 855.0,804.2 856.1,803.6 857.3,803.7 858.5,804.4 859.7,804.9 860.9,804.4 862.1,803.8 863.4,805.6 864.7,804.1 865.9,805.3 867.2,804.5 868.5,805.7 869.7,805.4 871.0,807.0 872.3,804.1 873.5,806.8 874.8,806.7 876.0,804.0 877.3,806.4 878.5,806.1 879.7,807.0 880.8,805.4 882.0,805.3 883.3,805.7 884.7,805.4 886.0,806.6 887.3,807.9 888.5,805.6 889.8,807.1 891.1,805.6 892.3,805.4 893.5,807.3 894.8,807.5 896.0,805.7 897.2,807.1 898.5,806.4 899.7,804.3 901.0,805.7 902.2,804.9 903.4,805.3 904.6,806.0 905.8,805.5 907.1,806.8 908.3,802.3 909.5,804.4 910.7,804.5 912.0,805.5 913.2,805.5 914.4,802.0 915.6,802.8 916.8,803.1 917.9,801.1 919.1,802.1 920.2,802.8 921.3,799.4 922.4,799.9 923.7,800.5 924.9,797.9 926.2,801.4 927.3,801.7 928.5,798.3 929.6,799.5 930.8,799.2 932.0,799.0 933.2,798.8 934.5,798.7 935.8,798.6 936.9,799.3 938.0,798.3 939.2,798.4 940.4,798.7 941.6,797.6 942.8,797.2 944.0,796.6 945.3,797.5 946.5,797.1 947.8,797.1 949.1,796.1 950.4,797.9 951.7,796.8 953.0,797.6 954.3,796.6 955.6,795.6 956.9,796.7 958.0,797.3 959.1,797.9 960.3,796.5 961.4,796.7 962.6,797.1 963.7,799.1 964.9,797.4 966.1,798.9 967.2,797.4 968.4,798.4 969.6,799.6 970.8,799.7 972.0,800.1 973.2,800.2 974.4,801.4 975.6,801.2 976.8,801.5 978.0,800.3 979.2,802.3 980.4,802.8 981.5,801.7 982.7,804.0 983.9,803.6 985.1,802.2 986.3,804.4 987.6,804.2 988.8,804.0 990.0,805.9 991.2,804.1 992.5,805.1 993.7,805.4 994.9,805.1 996.1,804.6 997.3,805.0 998.6,805.9 999.8,807.2 1001.0,806.1 1002.2,806.7 1003.5,806.0 1004.7,807.6 1005.9,806.1 1007.1,806.6 1008.4,809.3 1009.6,807.3 1010.8,808.6 1012.0,807.4 1013.2,805.9 1014.5,809.3 1015.7,808.6 1016.9,808.7 1018.1,810.3 1019.4,811.2 1020.6,809.0 1021.8,809.9 1023.0,810.3 1024.2,810.5 1025.5,809.7 1026.7,810.7 1027.9,810.0 1029.1,809.6 1030.4,811.5 1031.6,809.0 1032.8,810.7 1034.0,811.7 1035.3,811.1 1036.5,811.6 1037.7,811.9 1038.9,811.4 1040.1,811.6 1041.4,812.8 1042.6,813.0 1043.8,813.0 1045.0,813.2 1046.3,813.2 1047.5,813.8 1048.7,812.5 1049.9,813.9 1051.1,814.5 1052.4,813.8 1053.6,813.0 1054.8,813.5 1056.0,812.0 1057.3,813.9 1058.5,814.5 1059.7,815.3 1060.9,815.4 1062.2,815.2 1063.4,814.9 1064.6,814.9 1065.8,816.0 1067.1,815.6 1068.3,815.6 1069.5,815.2 1070.7,816.6 1072.0,816.4 1073.2,814.5 1074.4,816.3 1075.6,815.8 1076.9,817.1 1078.1,818.0 1079.3,816.8 1080.5,818.0 1081.8,818.0 1083.0,818.0 1084.2,818.8 1085.5,818.0 1086.7,818.4 1087.9,819.3 1089.1,817.4 1090.4,819.3 1091.6,818.6 1092.8,818.4 1094.0,818.5 1095.3,819.2 1096.5,818.5 1097.7,817.9 1098.9,819.0 1100.2,820.7 1101.4,818.5 1102.6,819.6 1103.8,818.1 1105.0,818.0 1106.3,818.9 1107.5,818.9 1108.7,820.8 1109.9,819.3 1111.2,820.0 1112.4,822.2 1113.6,821.1 1114.8,818.6 1116.1,819.4 1117.3,819.6 1118.5,821.8 1119.7,818.5 1120.9,821.0 1122.2,819.9 1123.4,820.6 1124.6,821.2 1125.8,821.8 1127.1,818.6 1128.3,821.5 1129.5,820.7 1130.7,821.4 1131.9,821.4 1133.2,820.3 1134.4,820.2 1135.6,820.0 1136.8,820.4 1138.1,820.0 1139.3,821.9 1140.5,820.2 1141.7,821.2 1143.0,820.4 1144.2,820.7 1145.4,820.0 1146.6,822.0 1147.9,819.5 1149.1,822.0 1150.4,821.4 1151.7,820.1 1152.9,823.0 1154.2,820.8 1155.5,818.8 1156.8,819.2 1158.1,820.7 1159.3,820.4 1160.6,820.2 1161.8,819.2 1163.1,819.6 1164.3,818.7 1165.5,820.6 1166.7,821.0 1167.9,819.6 1169.1,819.9 1170.2,821.0 1171.3,820.5 1172.4,821.3 1173.8,820.1 1175.1,820.9 1176.4,820.7 1177.6,819.6 1178.8,820.1 1180.0,821.3 1181.2,819.9 1182.4,819.7 1183.6,819.9 1184.8,818.6 1186.0,820.7 1187.2,819.6 1188.5,818.4 1189.7,818.8 1190.9,819.6 1192.1,818.8 1193.3,818.7 1194.6,819.6 1195.8,818.7 1197.1,818.3 1198.3,819.7 1199.5,819.4 1200.8,818.2 1202.0,820.2 1203.3,819.8 1204.5,819.3 1205.7,818.5 1206.9,818.9 1208.1,816.3 1209.3,818.4 1210.5,816.8 1211.7,817.0 1213.0,817.1 1214.2,815.8 1215.4,815.8 1216.6,815.2 1217.8,813.9 1218.9,815.0 1220.1,814.7 1221.2,814.0 1222.3,813.0 1223.4,814.6 1224.4,812.1 1225.6,811.2 1226.7,810.4 1227.8,810.5 1228.9,809.1 1229.9,808.4 1231.0,808.6 1232.0,807.1 1232.9,806.6 1233.9,806.8 1234.8,805.8 1235.7,804.1 1236.6,802.9 1237.5,800.4 1238.3,802.5 1239.0,801.0 1239.8,800.3 1240.5,798.3 1241.2,797.0 1241.9,794.9 1242.6,794.9 1243.3,795.3 1243.9,795.5 1244.6,792.6 1245.3,792.0 1246.0,791.7 1246.6,787.9 1247.2,787.9 1247.8,785.1 1248.4,784.3 1249.1,783.4 1249.8,783.5 1250.6,781.1 1251.4,781.2 1252.4,781.6 1253.5,780.3 1254.6,783.4 1255.8,785.0 1257.0,782.3 1258.2,783.4 1259.5,784.3 1260.8,785.1 1261.9,784.3 1263.1,784.5 1264.4,785.8 1265.7,786.8 1267.0,785.4 1268.3,784.5 1269.6,785.8 1270.8,784.5 1272.0,784.4 1273.2,786.0 1274.3,786.8 1275.6,786.0 1276.8,786.2 1277.9,786.4 1279.0,785.7 1280.1,787.2 1281.2,788.5 1282.3,790.3 1283.2,788.4 1284.1,788.5 1284.9,790.0 1285.8,791.1 1286.7,791.9 1287.5,793.1 1288.4,794.6 1289.3,794.7 1290.1,795.5 1291.0,796.9 1291.8,796.3 1292.7,798.9 1293.5,800.0 1294.3,800.4 1295.1,801.9 1295.9,804.3 1296.7,803.4 1297.6,804.7 1298.4,805.4 1299.3,807.4 1300.2,808.0 1301.2,809.2 1302.1,808.9 1303.0,808.6 1304.0,810.5 1304.9,811.0 1305.9,812.2 1306.9,812.3 1307.9,813.3 1309.0,815.7 1310.1,815.3 1311.2,814.8 1312.3,816.2 1313.4,816.0 1314.6,816.9 1315.7,817.2 1316.9,817.5 1318.0,816.3 1319.3,818.1 1320.5,816.9 1321.7,818.5 1323.0,818.7 1324.3,818.4 1325.6,819.1 1326.9,819.4 1328.2,818.0 1329.5,819.7 1330.9,819.8 1332.2,818.1 1333.5,818.5 1334.8,818.8 1336.0,818.2 1337.1,818.1 1338.3,819.5 1339.5,818.5 1340.7,817.8 1341.9,818.5 1343.1,819.4 1344.3,817.2 1345.5,819.0 1346.7,818.6 1347.9,817.1 1349.2,818.1 1350.4,817.8 1351.6,815.9 1352.8,817.4 1354.0,817.8 1355.3,818.8 1356.5,816.8 1357.7,815.0 1358.9,816.4 1360.1,817.4 1361.3,817.0 1362.5,817.0 1363.7,817.2 1364.9,816.8 1366.1,817.7 1367.3,817.0 1368.5,818.2 1369.7,818.6 1370.9,818.5 1372.2,819.1 1373.4,818.7 1374.6,818.2 1375.8,819.7 1377.0,819.0 1378.3,819.2 1379.5,821.9 1380.8,820.4 1382.0,822.6 1383.2,820.7 1384.4,820.8 1385.6,821.4 1386.8,821.1 1388.0,821.8 1389.2,823.8 1390.5,823.4 1391.7,823.4 1392.9,822.8 1394.1,823.6 1395.4,822.3 1396.6,822.8 1397.8,822.6 1399.0,821.4 1400.3,824.1 1401.5,823.0 1402.7,822.7 1404.0,824.0 1405.2,824.2 1406.4,826.1 1407.7,825.7 1408.9,824.6 1410.1,824.5 1411.4,824.7 1412.6,825.9 1413.8,825.4 1415.1,823.2 1416.3,824.2 1417.6,825.9 1418.8,824.4 1420.1,824.6 1421.3,823.1 1422.5,825.0 1423.8,826.2 1425.0,826.4 1426.3,826.4 1427.5,826.1 1428.7,824.5 1429.9,825.4 1431.1,825.5 1432.3,825.8 1433.5,825.9 1434.6,825.1 1435.8,826.4 1437.1,826.4 1438.4,825.7 1439.7,826.7 1441.0,823.7 1442.2,827.0 1443.5,824.6 1444.7,825.0 1446.0,826.6 1447.2,825.7 1448.4,825.4 1449.6,823.7 1450.8,825.2 1452.1,824.7 1453.3,826.8 1454.5,827.0 1455.7,824.8 1456.9,826.1 1458.1,826.7 1459.3,826.2 1460.5,825.0 1461.7,823.9 1462.9,824.2 1464.1,823.2 1465.3,823.0 1466.4,823.7 1467.6,821.7 1468.8,821.8 1470.0,820.3 1471.1,821.0 1472.3,819.8 1473.5,821.0 1474.7,821.4 1475.9,820.2 1477.1,820.0 1478.3,817.6 1479.6,819.5 1480.8,816.6 1482.0,817.7 1483.3,819.3 1484.5,816.8 1485.7,819.1 1487.0,817.4 1488.2,817.1 1489.5,818.5 1490.8,818.5 1492.0,818.1 1493.3,816.9 1494.6,818.5 1496.0,818.1 1497.3,818.5 1498.4,818.9 1499.6,819.1 1500.8,818.6 1502.0,819.1 1503.2,817.2 1504.4,817.8 1505.6,817.4 1506.8,820.6 1508.1,818.4 1509.3,819.0 1510.6,820.3 1511.8,820.2 1513.1,819.5 1514.3,819.5 1515.6,820.1 1516.8,821.4 1518.1,820.4 1519.3,821.6 1520.6,821.4 1521.8,821.5 1523.1,821.5 1524.3,821.1 1525.5,820.4 1526.7,821.6 1528.0,822.4 1529.2,822.7 1530.4,822.0 1531.6,823.0 1532.9,821.5 1534.1,821.2 1535.3,822.1 1536.5,821.5 1537.7,822.3 1539.0,822.6 1540.2,823.2 1541.4,821.5 1542.6,822.1 1543.9,822.3 1545.1,824.8 1546.3,823.2 1547.5,822.9 1548.8,822.2 1550.0,823.4 1551.2,823.1 1552.4,825.7 1553.6,824.0 1554.9,823.5 1556.1,822.9 1557.3,821.8 1558.5,825.1 1559.8,824.0 1561.0,823.2 1562.2,822.6 1563.4,824.8 1564.7,825.7 1565.9,821.9 1567.1,824.8 1568.3,824.7 1569.5,823.8 1570.8,824.0 1572.0,824.6 1573.2,823.3 1574.4,822.9 1575.7,825.6 1576.9,824.6 1578.1,824.3 1579.3,825.1 1580.5,826.2 1581.8,823.8 1583.0,824.1 1584.2,824.6 1585.4,825.3 1586.7,825.2 1587.9,824.5 1589.1,825.2 1590.3,825.2 1591.5,827.6 1592.8,823.0 1594.0,824.6 1595.2,824.6 1596.4,826.9 1597.7,826.6 1598.9,827.1 1600.1,826.2 1601.3,826.4 1602.6,826.7 1603.8,824.2 1605.0,826.2 1606.2,826.3 1607.5,827.2 1608.7,826.6 1609.9,825.8 1611.1,827.5 1612.4,827.4 1613.6,826.9 1614.8,827.5 1616.0,826.4 1617.3,825.1 1618.5,826.3 1619.7,827.4 1621.0,826.4 1622.2,828.6 1623.4,828.0 1624.6,828.1 1625.9,826.1 1627.1,827.2 1628.3,826.6 1629.5,826.7 1630.8,827.6 1632.0,828.8 1633.2,826.9 1634.4,827.8 1635.7,827.3 1636.9,827.4 1638.1,826.3 1639.3,827.6 1640.6,826.8 1641.8,826.0 1643.0,825.9 1644.2,826.1 1645.5,826.8 1646.7,826.4 1647.9,826.9 1649.1,825.3 1650.3,825.1 1651.6,827.4 1652.8,827.6 1654.0,827.5 1655.2,825.4 1656.5,826.5 1657.7,826.9 1658.9,827.9 1660.1,825.4 1661.3,825.9 1662.6,827.6 1663.8,827.3 1665.0,825.7 1666.2,828.4 1667.4,826.7 1668.7,826.1 1669.9,826.8 1671.1,826.8 1672.3,826.8 1673.5,826.1 1674.7,826.6 1676.0,829.1 1677.2,827.9 1678.4,825.7 1679.6,828.5 1680.9,827.2 1682.1,827.4 1683.3,827.9 1684.6,826.3 1685.8,828.0 1687.0,828.0 1688.2,825.8 1689.4,826.0 1690.7,827.5 1691.9,827.0 1693.1,826.8 1694.3,829.1 1695.5,826.7 1696.7,827.7 1698.0,827.5 1699.2,827.6 1700.4,828.6 1701.6,826.1 1702.9,826.3 1704.1,826.0 1705.3,827.0 1706.6,828.6 1707.8,827.2 1709.1,827.1 1710.4,827.6 1711.6,828.6 1712.9,827.9 1714.2,828.8 1715.4,828.2 1716.5,827.5 1717.7,828.6 1718.9,828.8 1720.1,828.6 1721.3,828.4 1722.5,829.4 1723.7,828.6 1725.0,828.3 1726.2,827.7 1727.4,829.9 1728.6,827.3 1729.9,829.3 1731.1,828.0 1732.3,828.5 1733.6,828.4 1734.8,828.4 1736.1,829.7 1737.3,828.8 1738.5,829.1 1739.8,828.7 1741.0,829.1 1742.3,830.8 1743.5,828.9 1744.7,830.3 1746.0,830.1 1747.2,829.5 1748.4,830.2 1749.6,829.9 1750.8,831.7 1752.1,829.0 1753.3,830.8 1754.5,829.3 1755.7,829.5 1756.9,830.7 1758.1,831.7 1759.4,828.3 1760.6,829.9 1761.8,829.9 1763.0,828.7 1764.2,829.5 1765.4,829.4 1766.7,830.8 1767.9,831.8 1769.1,827.7 1770.3,830.1 1771.5,831.7 1772.8,829.7 1774.0,830.8 1775.2,831.2 1776.4,829.3 1777.6,832.0 1778.8,830.4 1780.1,831.2 1781.3,828.8 1782.5,828.7 1783.7,829.6 1784.9,829.7 1786.2,831.1 1787.4,829.4 1788.6,830.1 1789.8,830.5 1791.0,831.1 1792.3,828.9 1793.5,831.2 1794.7,829.1 1795.9,828.3 1797.2,828.1 1798.4,830.4 1799.6,830.0 1800.8,830.8 1802.0,830.8 1803.3,830.2 1804.5,832.8 1805.7,831.2 1806.9,829.5 1808.1,830.5 1809.4,831.0 1810.6,828.4 1811.8,829.8 1813.0,830.4 1814.3,827.7 1815.5,830.0 1816.7,830.0 1817.9,831.2 1819.1,831.5 1820.3,830.5 1821.5,830.4 1822.7,829.5 1823.9,830.8 1825.1,829.2 1826.3,831.3 1827.5,830.8 1828.7,830.5 1829.9,829.2 1831.1,830.4 1832.3,828.5 1833.5,829.3 1834.7,829.4 1835.9,829.8 1837.1,829.2 1838.3,829.1 1839.5,831.2 1840.8,830.4 1842.0,831.2 1843.2,831.0 1844.5,830.7 1845.7,830.5 1847.0,830.4 1848.3,829.5 1849.6,830.1 1850.9,831.3 1852.0,830.6 1853.2,831.7 1854.3,832.7 1855.5,830.0 1856.6,829.6 1857.8,830.2 1859.0,830.6 1860.2,831.0 1861.3,830.6 1862.5,830.2 1863.7,829.4 1865.0,828.3 1866.2,831.2 1867.4,830.2 1868.6,829.3 1869.8,831.3 1871.1,828.8 1872.3,829.7 1873.5,830.7 1874.8,830.0 1876.0,830.1 1877.2,829.6 1878.5,828.3 1879.7,830.3 1881.0,829.8 1882.2,829.2 1883.5,832.1 1884.7,828.8 1885.9,829.4 1887.2,829.0 1888.4,829.8 1889.6,828.4 1890.9,829.7 1892.1,829.2 1893.3,830.8 1894.6,829.7 1895.8,829.6 1897.0,831.4" fill="none" stroke="#1A6EDF" stroke-width="11.5" stroke-linejoin="round"/>
<path d="M146.0,1081.6 146.5,1079.2 146.9,1077.5 147.3,1075.1 147.8,1075.0 148.2,1074.8 148.7,1073.3 149.1,1071.5 149.6,1071.6 150.1,1070.8 150.5,1069.0 150.9,1068.3 151.4,1066.7 151.8,1067.2 152.3,1064.3 152.8,1062.6 153.2,1062.9 153.7,1061.1 154.2,1057.5 154.6,1057.8 155.0,1057.6 155.4,1055.9 155.8,1055.1 156.2,1055.0 156.6,1052.8 156.9,1051.3 157.2,1050.7 157.5,1048.9 157.8,1048.1 158.1,1047.3 158.4,1044.2 158.6,1043.5 158.9,1041.4 159.2,1042.3 159.4,1038.7 159.7,1040.4 159.9,1038.2 160.1,1038.0 160.3,1035.5 160.5,1036.0 160.7,1034.1 160.9,1032.7 161.1,1030.6 161.3,1031.1 161.5,1028.3 161.7,1027.7 161.9,1025.3 162.1,1025.1 162.2,1024.4 162.4,1020.7 162.6,1022.0 162.8,1020.2 163.0,1019.3 163.2,1019.6 163.4,1017.5 163.5,1014.8 163.7,1014.3 163.9,1013.6 164.1,1010.5 164.3,1009.7 164.4,1009.6 164.6,1007.8 164.8,1006.9 165.0,1006.1 165.1,1003.5 165.3,1002.5 165.5,1002.5 165.7,1000.4 165.8,999.0 166.0,998.7 166.2,997.0 166.3,995.0 166.5,995.2 166.7,993.6 166.8,992.5 167.0,990.0 167.1,991.3 167.3,988.5 167.4,988.3 167.6,986.9 167.7,983.5 167.9,983.6 168.0,983.5 168.2,982.5 168.3,981.7 168.4,979.1 168.6,977.6 168.7,977.7 168.8,975.6 169.0,974.6 169.1,972.8 169.2,972.0 169.3,970.3 169.5,969.2 169.6,967.9 169.7,967.4 169.8,966.2 170.0,966.2 170.1,963.8 170.2,961.2 170.4,959.9 170.5,960.1 170.6,958.8 170.8,958.0 170.9,956.4 171.1,955.2 171.2,953.4 171.3,952.7 171.5,952.7 171.6,950.6 171.8,948.4 171.9,947.7 172.1,946.7 172.2,945.8 172.3,944.3 172.5,943.8 172.6,941.2 172.7,940.8 172.9,941.1 173.0,937.7 173.1,937.3 173.3,936.0 173.4,935.4 173.5,934.0 173.6,932.1 173.7,931.4 173.9,929.0 174.0,928.6 174.1,926.7 174.2,926.7 174.3,925.6 174.4,924.3 174.4,923.2 174.5,921.2 174.6,921.0 174.7,918.5 174.8,919.0 174.9,916.2 175.0,916.0 175.1,914.1 175.3,911.9 175.4,911.7 175.5,910.2 175.6,908.3 175.7,906.8 175.9,906.1 176.0,904.9 176.1,903.1 176.2,901.3 176.4,901.2 176.5,898.2 176.6,898.9 176.8,897.6 176.9,895.6 177.1,893.2 177.2,893.7 177.4,892.2 177.5,890.8 177.7,889.1 177.9,886.9 178.1,886.2 178.3,886.6 178.5,887.3 178.8,882.9 179.2,882.1 179.6,881.0 180.0,876.1 180.4,876.6 180.8,875.3 181.2,877.5 181.6,875.4 182.0,873.9 182.4,874.9 182.8,875.4 183.2,877.7 183.6,876.4 184.0,878.3 184.4,880.3 184.8,881.3 185.2,881.4 185.5,886.2 185.7,885.5 185.9,885.4 186.1,888.4 186.2,888.8 186.4,890.9 186.5,891.3 186.6,893.7 186.8,893.4 186.9,896.2 187.0,895.4 187.1,898.8 187.2,900.0 187.3,900.6 187.4,903.3 187.5,903.2 187.6,904.7 187.7,906.6 187.8,908.6 187.9,909.5 188.0,910.9 188.1,912.4 188.2,913.7 188.3,915.4 188.4,915.6 188.4,916.0 188.5,918.1 188.6,918.3 188.7,920.8 188.7,921.3 188.8,922.6 188.9,922.9 188.9,925.1 189.0,925.7 189.1,927.9 189.2,928.2 189.2,930.6 189.3,931.7 189.4,931.5 189.5,933.5 189.6,933.5 189.7,936.1 189.8,938.6 189.9,939.3 190.0,939.7 190.1,939.9 190.2,942.7 190.3,943.2 190.4,945.9 190.5,945.6 190.6,945.0 190.7,948.1 190.9,949.9 191.0,950.3 191.1,950.7 191.2,953.7 191.3,953.0 191.4,955.3 191.6,956.3 191.7,957.6 191.8,959.2 191.9,962.7 192.0,961.9 192.1,963.2 192.2,965.0 192.3,965.4 192.5,967.5 192.6,967.2 192.7,968.3 192.8,969.9 192.9,972.6 193.0,972.3 193.1,974.1 193.2,974.2 193.4,974.5 193.5,978.1 193.6,978.5 193.7,980.6 193.8,979.6 194.0,983.3 194.1,983.4 194.2,984.8 194.4,986.6 194.5,987.4 194.7,987.4 194.9,989.8 195.1,990.0 195.3,990.2 195.5,993.2 195.7,994.9 195.9,996.2 196.1,997.8 196.3,995.8 196.5,999.2 196.7,1000.9 196.9,1001.1 197.1,1001.8 197.3,1004.4 197.5,1006.7 197.6,1007.2 197.8,1006.8 197.9,1008.3 198.0,1010.7 198.2,1010.5 198.3,1013.4 198.4,1014.6 198.5,1014.0 198.6,1016.9 198.7,1019.3 198.8,1018.6 199.0,1018.8 199.1,1020.7 199.2,1023.0 199.3,1024.5 199.5,1024.6 199.6,1026.0 199.8,1025.5 200.0,1029.6 200.3,1030.0 200.5,1031.9 200.7,1032.1 201.0,1033.2 201.3,1035.1 201.5,1035.8 201.8,1035.5 202.2,1038.3 202.5,1038.7 202.9,1040.4 203.4,1042.6 203.8,1044.8 204.3,1042.9 204.8,1044.8 205.4,1045.5 206.0,1046.0 206.4,1047.9 206.9,1048.4 207.4,1049.9 207.9,1052.4 208.5,1053.2 209.0,1052.9 209.6,1054.2 210.2,1055.2 210.8,1058.1 211.4,1057.3 212.0,1058.5 212.7,1058.8 213.4,1062.2 214.0,1064.4 214.7,1063.1 215.4,1063.5 216.1,1066.3 216.8,1066.1 217.5,1067.9 218.3,1069.1 219.0,1068.5 219.7,1070.5 220.5,1072.0 221.3,1072.3 222.1,1073.6 222.9,1074.5 223.8,1074.7 224.6,1075.9 225.6,1075.3 226.5,1076.3 227.5,1079.5 228.4,1078.4 229.4,1079.2 230.4,1077.3 231.5,1080.6 232.6,1081.8 233.7,1081.1 234.8,1081.8 235.9,1083.3 237.1,1081.4 238.3,1084.2 239.5,1084.3 240.6,1085.7 241.8,1085.9 243.0,1085.0 244.2,1085.0 245.4,1087.4 246.5,1087.2 247.7,1086.7 248.9,1086.2 250.2,1085.2 251.4,1088.1 252.7,1086.5 254.0,1086.7 255.2,1086.1 256.5,1087.0 257.8,1088.2 259.0,1085.8 260.3,1087.7 261.6,1087.6 262.8,1085.7 264.1,1087.9 265.4,1087.1 266.6,1087.3 267.9,1086.4 269.1,1086.8 270.3,1085.1 271.4,1085.8 272.6,1084.7 273.8,1085.9 274.9,1086.9 276.1,1086.5 277.2,1085.8 278.4,1084.8 279.6,1084.4 280.8,1084.1 282.0,1082.8 283.2,1083.7 284.4,1084.7 285.6,1084.0 286.8,1084.9 288.1,1082.7 289.2,1082.0 290.4,1082.2 291.6,1083.4 292.8,1081.4 294.0,1080.8 295.2,1082.1 296.4,1081.5 297.6,1082.8 298.8,1081.4 300.1,1082.6 301.3,1079.9 302.6,1080.6 303.8,1079.2 305.1,1080.2 306.3,1079.2 307.6,1079.4 308.8,1079.8 310.1,1079.5 311.3,1079.0 312.5,1078.2 313.8,1078.9 315.0,1078.6 316.2,1078.0 317.5,1078.3 318.7,1076.9 319.9,1078.2 321.1,1076.3 322.4,1075.9 323.6,1075.0 324.8,1076.8 326.1,1075.9 327.3,1076.4 328.5,1075.6 329.7,1074.2 331.0,1074.1 332.2,1075.3 333.4,1075.0 334.7,1075.7 335.9,1073.2 337.1,1074.6 338.3,1074.0 339.6,1074.0 340.8,1072.6 342.0,1071.5 343.2,1072.4 344.4,1071.3 345.6,1071.9 346.7,1070.5 347.9,1070.5 349.1,1070.7 350.3,1070.5 351.5,1071.1 352.7,1068.4 353.9,1069.4 355.1,1068.4 356.3,1068.7 357.4,1068.9 358.6,1067.0 359.8,1068.0 361.0,1066.8 362.1,1066.6 363.3,1065.3 364.4,1065.7 365.5,1065.0 366.7,1066.7 367.8,1065.4 368.9,1066.1 370.1,1063.6 371.4,1064.3 372.6,1064.0 373.9,1063.0 375.1,1063.1 376.3,1064.5 377.6,1062.2 378.8,1062.9 380.0,1062.3 381.2,1060.6 382.3,1061.2 383.5,1061.6 384.6,1063.4 385.8,1060.9 386.8,1060.9 387.9,1057.6 389.0,1060.1 390.0,1058.2 391.2,1059.5 392.3,1057.2 393.5,1057.2 394.6,1056.5 395.6,1056.5 396.7,1054.4 397.7,1054.2 398.7,1053.1 399.7,1052.3 400.7,1052.8 401.6,1052.0 402.6,1049.1 403.5,1048.0 404.4,1048.8 405.2,1049.4 406.1,1047.8 406.9,1046.4 407.7,1046.2 408.5,1045.0 409.3,1042.5 410.1,1042.5 410.8,1042.8 411.5,1039.6 412.2,1040.2 412.9,1039.6 413.6,1038.8 414.2,1037.3 414.8,1034.8 415.3,1033.9 415.8,1032.6 416.3,1032.8 416.7,1032.2 417.2,1028.7 417.6,1028.2 418.0,1025.7 418.4,1026.5 418.8,1025.1 419.1,1023.8 419.5,1023.4 419.9,1021.6 420.2,1021.1 420.6,1018.3 421.0,1017.1 421.4,1017.4 421.7,1015.5 422.1,1014.8 422.5,1012.0 422.8,1012.2 423.2,1009.6 423.5,1008.8 423.9,1008.4 424.2,1006.3 424.5,1007.6 424.9,1005.9 425.2,1004.2 425.5,1001.6 425.8,1001.9 426.1,1001.1 426.4,999.6 426.7,995.1 426.9,995.4 427.2,994.2 427.4,993.3 427.6,993.2 427.8,992.9 428.1,988.8 428.3,990.5 428.5,988.4 428.7,987.0 428.9,986.9 429.1,984.4 429.4,982.9 429.6,981.1 429.9,982.2 430.1,980.3 430.4,978.0 430.7,977.0 431.1,976.9 431.4,974.8 431.8,974.3 432.2,971.2 432.5,969.4 432.9,967.9 433.3,965.8 433.7,965.6 434.1,964.9 434.5,963.0 435.0,962.2 435.4,961.3 435.8,961.7 436.2,962.9 436.7,964.0 437.2,963.2 437.7,965.2 438.2,965.7 438.7,966.9 439.2,968.5 439.8,969.4 440.3,970.9 440.8,971.5 441.2,976.4 441.7,976.4 442.1,974.8 442.5,978.0 442.8,978.6 443.1,981.0 443.4,981.7 443.7,983.7 443.9,983.7 444.1,985.2 444.3,987.5 444.6,990.0 444.8,989.1 445.0,990.7 445.2,992.7 445.4,992.7 445.6,993.9 445.8,994.9 446.1,996.5 446.3,998.5 446.6,998.2 446.9,1000.1 447.2,1001.6 447.5,1002.4 447.8,1002.2 448.1,1004.1 448.4,1007.2 448.8,1006.8 449.1,1008.3 449.4,1010.0 449.8,1010.8 450.1,1012.5 450.4,1014.3 450.8,1014.9 451.2,1014.3 451.5,1016.0 451.9,1018.6 452.3,1018.2 452.7,1021.1 453.0,1020.1 453.4,1022.4 453.8,1022.4 454.2,1024.7 454.6,1026.5 455.0,1027.3 455.4,1027.7 455.9,1030.3 456.3,1030.3 456.8,1031.6 457.2,1034.4 457.7,1034.7 458.2,1035.5 458.7,1035.8 459.2,1040.3 459.8,1038.2 460.3,1040.7 460.8,1041.8 461.4,1042.7 461.9,1044.1 462.5,1044.6 463.1,1044.8 463.7,1047.4 464.3,1048.0 465.0,1049.2 465.7,1049.9 466.5,1051.2 467.3,1051.6 468.1,1053.3 469.0,1053.7 469.9,1054.1 470.8,1055.6 471.8,1056.1 472.8,1055.4 473.9,1056.3 474.9,1056.5 476.0,1057.6 477.1,1057.3 478.3,1058.8 479.5,1058.9 480.6,1059.4 481.8,1060.3 483.1,1060.6 484.3,1060.5 485.3,1062.0 486.3,1061.5 487.4,1062.3 488.5,1063.5 489.5,1062.0 490.6,1063.3 491.7,1063.8 492.9,1063.5 494.0,1063.8 495.1,1065.0 496.3,1066.0 497.5,1065.1 498.7,1067.3 499.9,1066.6 501.1,1068.8 502.3,1066.9 503.6,1066.7 504.8,1068.3 506.1,1068.0 507.3,1068.7 508.6,1067.3 509.9,1069.1 511.2,1068.0 512.3,1069.7 513.4,1068.6 514.5,1068.5 515.7,1069.2 516.8,1069.8 518.0,1069.2 519.2,1070.0 520.4,1068.4 521.6,1068.7 522.8,1069.8 524.0,1069.8 525.2,1068.1 526.5,1068.8 527.7,1069.0 529.0,1068.7 530.2,1069.4 531.5,1068.2 532.7,1068.8 534.0,1069.5 535.3,1069.0 536.5,1068.6 537.8,1069.6 539.1,1069.7 540.3,1069.6 541.6,1067.8 542.9,1069.4 544.1,1069.2 545.4,1069.1 546.6,1068.5 547.9,1071.5 549.1,1069.8 550.4,1066.8 551.6,1069.5 552.8,1068.5 554.0,1068.3 555.3,1067.3 556.5,1068.9 557.7,1068.4 558.9,1070.3 560.2,1069.8 561.4,1070.7 562.6,1068.8 563.8,1069.6 565.1,1069.2 566.3,1069.8 567.5,1067.9 568.7,1070.2 570.0,1069.4 571.2,1068.1 572.4,1068.0 573.6,1068.7 574.9,1070.8 576.1,1069.0 577.3,1068.4 578.5,1069.5 579.8,1068.8 581.0,1069.3 582.2,1069.1 583.4,1069.1 584.7,1069.8 585.9,1070.1 587.1,1070.4 588.3,1070.2 589.6,1067.6 590.8,1068.3 592.0,1070.1 593.2,1069.5 594.5,1068.5 595.8,1067.4 597.1,1068.7 598.4,1068.1 599.8,1068.3 601.1,1068.5 602.5,1068.4 603.9,1069.1 605.3,1068.2 606.7,1068.5 608.1,1069.1 609.4,1067.0 610.8,1066.7 612.2,1067.4 613.5,1067.2 614.9,1066.3 616.2,1067.7 617.5,1066.7 618.8,1066.7 620.1,1066.0 621.3,1067.1 622.5,1066.9 623.7,1066.1 624.8,1067.2 625.9,1067.0 627.0,1067.4 628.0,1064.9 629.0,1065.7 629.9,1066.3 630.8,1063.1 631.6,1065.6 632.4,1064.3 634.0,1064.8 635.4,1064.5 636.6,1065.6 637.7,1063.6 638.8,1065.3 640.0,1064.2 641.0,1062.9 641.9,1062.1 643.0,1062.8 644.0,1060.9 645.0,1059.3 646.0,1057.3 647.0,1059.3 648.0,1057.2 649.0,1055.6 649.9,1054.7 650.8,1054.4 651.7,1055.0 652.5,1054.2 653.3,1052.2 654.1,1051.1 654.8,1051.7 655.6,1048.5 656.3,1048.8 656.9,1047.1 657.6,1044.8 658.2,1045.6 658.8,1041.3 659.3,1040.7 659.7,1039.8 660.1,1039.4 660.4,1038.4 660.8,1038.6 661.1,1035.2 661.4,1035.1 661.7,1033.3 662.0,1032.8 662.3,1029.5 662.5,1030.8 662.8,1027.6 663.1,1027.4 663.5,1026.3 663.8,1023.0 664.2,1023.7 664.6,1021.5 665.0,1021.8 665.4,1019.4 665.8,1019.5 666.2,1016.0 666.6,1015.9 667.1,1014.1 667.5,1014.2 667.9,1012.9 668.4,1011.9 668.9,1010.2 669.5,1008.7 670.1,1007.8 670.7,1006.3 671.4,1005.5 672.0,1004.6 672.7,1004.5 673.4,1003.7 674.0,1000.8 674.7,1001.0 675.3,998.3 676.0,999.7 676.6,996.1 677.3,996.8 677.9,993.8 678.6,992.7 679.2,994.8 679.9,990.9 680.5,991.5 681.3,990.3 682.1,988.4 682.9,986.5 683.7,985.2 684.6,985.1 685.5,984.4 686.7,983.2 688.0,985.1 689.3,983.5 690.6,984.0 691.6,983.8 692.6,983.7 693.6,986.5 694.6,986.6 695.5,987.4 696.4,988.6 697.0,989.8 697.6,992.6 698.2,991.7 698.7,994.5 699.2,994.5 699.7,992.9 700.2,998.1 700.8,996.0 701.4,1001.6 702.0,1000.1 702.7,1000.4 703.4,1001.2 704.1,1004.2 704.9,1004.7 705.6,1004.3 706.4,1005.1 707.1,1008.0 707.9,1007.4 708.6,1008.0 709.3,1008.4 710.1,1009.9 710.8,1010.9 711.6,1013.0 712.3,1013.3 713.1,1017.3 713.8,1014.6 714.5,1016.5 715.2,1017.6 715.9,1018.8 716.7,1019.7 717.4,1022.0 718.0,1022.0 718.7,1023.8 719.5,1024.4 720.5,1025.3 721.3,1024.7 722.2,1025.3 723.1,1025.0 724.1,1026.5 725.2,1027.7 726.3,1029.5 727.5,1031.7 728.6,1027.8 729.8,1030.8 731.0,1030.8 732.1,1030.4 733.2,1033.2 734.3,1035.6 735.3,1034.2 736.4,1036.1 737.4,1034.3 738.4,1036.9 739.4,1039.8 740.4,1037.1 741.4,1039.3 742.5,1038.3 743.5,1042.6 744.5,1040.5 745.6,1038.9 746.6,1041.5 747.7,1042.6 748.9,1041.1 750.1,1042.4 751.3,1042.0 752.6,1040.9 753.8,1043.0 755.1,1042.1 756.3,1041.5 757.5,1042.7 758.8,1041.4 760.0,1039.6 761.2,1040.1 762.3,1040.1 763.5,1039.5 764.6,1039.4 765.7,1035.7 766.8,1037.9 767.9,1038.5 769.0,1037.0 770.1,1036.1 771.2,1036.2 772.3,1032.8 773.5,1035.8 774.6,1034.7 775.8,1033.6 777.0,1033.8 778.2,1033.3 779.3,1032.7 780.5,1035.7 781.7,1034.7 783.0,1033.3 784.2,1033.8 785.5,1034.1 786.8,1034.3 788.1,1033.5 789.2,1034.3 790.3,1034.3 791.4,1035.3 792.6,1034.1 793.8,1034.5 795.0,1035.5 796.2,1034.1 797.4,1032.5 798.6,1033.8 799.8,1035.6 801.0,1036.9 802.3,1036.0 803.5,1036.3 804.7,1036.4 805.9,1035.1 807.1,1037.2 808.3,1037.7 809.5,1038.5 810.7,1039.5 811.9,1039.8 813.1,1040.0 814.3,1039.0 815.5,1038.9 816.6,1038.4 817.8,1040.1 819.0,1041.3 820.2,1041.5 821.4,1042.2 822.6,1040.9 823.8,1042.7 824.9,1042.1 826.1,1044.1 827.3,1043.2 828.5,1045.4 829.7,1045.6 830.9,1045.9 832.1,1048.2 833.3,1046.7 834.4,1046.8 835.6,1046.5 836.8,1046.5 838.0,1047.1 839.2,1048.6 840.4,1047.3 841.6,1049.9 842.8,1049.4 843.9,1049.3 845.1,1050.3 846.3,1050.0 847.5,1051.4 848.7,1052.7 849.9,1051.1 851.1,1052.9 852.3,1052.1 853.4,1053.4 854.6,1053.8 855.8,1053.8 857.0,1053.9 858.1,1054.1 859.3,1057.7 860.5,1056.1 861.7,1056.4 862.9,1055.3 864.1,1056.0 865.3,1056.8 866.5,1057.7 867.7,1057.6 868.9,1057.2 870.1,1058.2 871.3,1058.1 872.6,1059.1 873.8,1057.4 875.1,1059.5 876.3,1060.5 877.6,1060.2 878.8,1058.6 880.1,1059.9 881.3,1059.1 882.6,1056.9 883.8,1058.0 885.1,1061.2 886.3,1060.0 887.5,1059.5 888.8,1060.2 890.0,1058.7 891.2,1058.1 892.4,1061.8 893.6,1059.7 894.8,1060.0 896.0,1060.2 897.2,1059.9 898.4,1059.6 899.6,1059.3 900.7,1057.7 901.9,1058.1 903.1,1056.8 904.3,1057.5 905.5,1056.4 906.6,1058.7 907.8,1056.2 909.0,1054.0 910.2,1054.9 911.4,1054.6 912.6,1055.3 913.8,1053.2 915.0,1056.4 916.1,1054.8 917.3,1054.7 918.5,1055.2 919.7,1052.9 920.9,1052.8 922.1,1051.3 923.3,1050.9 924.4,1053.4 925.6,1051.3 926.8,1051.3 928.0,1050.0 929.2,1051.2 930.4,1050.9 931.7,1051.6 932.9,1048.7 934.2,1050.3 935.4,1052.5 936.7,1049.4 938.0,1050.7 939.2,1051.3 940.5,1049.7 941.7,1050.8 943.0,1049.9 944.3,1049.6 945.5,1050.0 946.8,1049.7 948.1,1049.5 949.3,1050.5 950.6,1049.4 951.9,1049.2 953.1,1051.1 954.4,1050.2 955.7,1049.6 956.9,1049.9 958.2,1050.5 959.4,1051.3 960.7,1051.2 962.0,1049.5 963.2,1051.2 964.5,1051.2 965.8,1051.4 967.0,1049.8 968.3,1050.6 969.5,1051.9 970.8,1050.1 972.0,1049.5 973.2,1051.1 974.4,1050.8 975.6,1051.1 976.8,1051.0 977.9,1049.5 979.1,1052.4 980.3,1050.9 981.5,1051.9 982.7,1051.4 983.9,1052.8 985.1,1053.7 986.2,1053.8 987.4,1054.0 988.6,1053.9 989.8,1053.6 991.0,1053.6 992.2,1052.8 993.4,1054.2 994.6,1053.6 995.8,1054.7 996.9,1053.8 998.1,1052.6 999.3,1055.5 1000.5,1055.6 1001.7,1054.0 1002.9,1055.7 1004.1,1055.0 1005.3,1055.7 1006.4,1054.6 1007.6,1056.5 1008.8,1056.2 1010.0,1057.6 1011.2,1056.4 1012.4,1056.5 1013.6,1057.8 1014.8,1056.9 1016.0,1056.2 1017.1,1057.6 1018.3,1060.8 1019.5,1058.1 1020.7,1059.2 1021.9,1059.5 1023.1,1057.9 1024.3,1060.8 1025.5,1059.5 1026.6,1058.8 1027.8,1061.3 1029.0,1060.5 1030.2,1060.8 1031.4,1060.9 1032.6,1060.3 1033.8,1058.2 1035.0,1060.9 1036.2,1061.0 1037.3,1061.2 1038.5,1063.3 1039.7,1062.0 1040.9,1063.1 1042.1,1061.6 1043.3,1062.2 1044.5,1061.9 1045.7,1063.0 1046.8,1062.0 1048.0,1062.7 1049.2,1061.2 1050.4,1064.1 1051.6,1063.4 1052.8,1064.3 1054.0,1064.5 1055.2,1063.2 1056.4,1064.8 1057.5,1066.8 1058.7,1065.5 1059.9,1065.5 1061.1,1065.3 1062.3,1065.3 1063.5,1066.0 1064.7,1063.7 1065.9,1066.6 1067.0,1066.3 1068.2,1065.8 1069.4,1068.9 1070.6,1069.5 1071.8,1067.1 1073.1,1067.9 1074.3,1068.9 1075.5,1066.7 1076.8,1066.1 1078.0,1067.9 1079.2,1066.8 1080.5,1067.1 1081.7,1070.0 1083.0,1068.6 1084.2,1068.7 1085.5,1068.0 1086.7,1069.4 1088.0,1070.8 1089.3,1069.7 1090.7,1071.0 1092.0,1068.7 1093.1,1070.2 1094.3,1070.2 1095.5,1070.6 1096.7,1070.3 1097.8,1069.9 1099.1,1070.1 1100.3,1070.0 1101.5,1071.9 1102.7,1071.0 1104.0,1068.6 1105.2,1070.2 1106.4,1071.6 1107.7,1071.0 1109.0,1072.5 1110.2,1071.5 1111.5,1072.0 1112.7,1071.2 1114.0,1071.3 1115.2,1074.1 1116.4,1072.7 1117.7,1073.5 1118.9,1072.4 1120.1,1071.4 1121.4,1072.7 1122.6,1071.9 1123.8,1072.2 1125.1,1071.5 1126.3,1072.6 1127.6,1070.9 1128.8,1072.4 1130.1,1071.5 1131.3,1073.7 1132.6,1071.7 1133.8,1071.6 1135.0,1071.6 1136.3,1072.7 1137.5,1071.2 1138.7,1071.2 1139.9,1071.9 1141.1,1072.7 1142.3,1071.0 1143.5,1070.5 1144.6,1072.4 1145.8,1069.4 1147.1,1072.5 1148.4,1071.1 1149.6,1071.9 1150.9,1072.5 1152.1,1072.4 1153.3,1073.4 1154.5,1072.6 1155.7,1071.4 1157.0,1070.7 1158.2,1072.4 1159.4,1071.6 1160.6,1070.7 1161.8,1071.4 1163.1,1071.0 1164.3,1071.5 1165.6,1069.9 1166.9,1072.4 1168.1,1072.1 1169.2,1072.4 1170.4,1072.4 1171.7,1070.4 1172.9,1072.2 1174.1,1072.2 1175.4,1071.8 1176.6,1070.0 1177.9,1071.3 1179.2,1071.9 1180.4,1070.5 1181.7,1071.5 1183.0,1071.1 1184.2,1072.3 1185.5,1071.4 1186.7,1069.8 1188.0,1070.0 1189.2,1071.9 1190.4,1071.3 1191.6,1071.4 1192.8,1072.1 1193.9,1070.3 1195.3,1071.0 1196.6,1071.9 1197.9,1070.8 1199.3,1069.8 1200.6,1070.6 1201.9,1071.0 1203.2,1070.0 1204.5,1071.9 1205.7,1070.7 1207.0,1069.9 1208.2,1068.6 1209.4,1070.0 1210.6,1070.6 1211.8,1069.7 1213.0,1068.2 1214.1,1070.0 1215.3,1067.7 1216.5,1070.8 1217.7,1068.0 1218.9,1066.9 1220.0,1068.6 1221.1,1068.6 1222.2,1066.0 1223.3,1064.9 1224.3,1064.4 1225.4,1063.7 1226.5,1065.2 1227.5,1064.3 1228.6,1060.9 1229.8,1062.2 1230.9,1062.4 1232.0,1060.6 1233.1,1059.8 1234.2,1059.8 1235.3,1060.8 1236.3,1059.6 1237.3,1058.5 1238.3,1056.9 1239.1,1057.8 1239.9,1056.9 1240.7,1053.2 1241.4,1055.5 1242.2,1054.1 1242.9,1054.4 1243.6,1052.4 1244.2,1050.5 1244.9,1048.5 1245.6,1048.2 1246.3,1047.1 1247.0,1046.9 1247.7,1044.7 1248.5,1042.7 1249.3,1042.2 1250.0,1042.8 1250.7,1040.7 1251.5,1039.3 1252.3,1039.8 1253.1,1037.1 1253.9,1035.3 1254.8,1036.1 1255.8,1034.9 1256.8,1036.3 1257.9,1035.2 1259.1,1032.3 1260.3,1033.5 1261.6,1035.3 1262.8,1034.8 1264.1,1036.6 1265.4,1036.2 1266.6,1037.9 1267.9,1036.5 1269.1,1037.2 1270.4,1036.1 1271.7,1036.2 1273.0,1035.4 1274.3,1038.7 1275.6,1035.3 1276.8,1036.4 1278.1,1036.4 1279.2,1036.6 1280.4,1036.7 1281.4,1037.6 1282.5,1037.4 1283.5,1036.1 1284.4,1040.4 1285.2,1039.2 1286.0,1038.2 1286.9,1042.3 1287.7,1040.7 1288.6,1044.0 1289.5,1044.4 1290.2,1044.5 1291.0,1047.0 1291.8,1047.4 1292.6,1048.9 1293.4,1047.0 1294.2,1047.8 1295.1,1050.3 1295.9,1051.6 1296.7,1052.6 1297.6,1054.1 1298.4,1055.4 1299.2,1056.3 1300.0,1056.5 1300.8,1059.0 1301.6,1058.4 1302.5,1058.3 1303.3,1060.4 1304.1,1061.1 1304.9,1062.1 1305.6,1064.7 1306.4,1062.6 1307.2,1065.2 1308.1,1065.5 1309.0,1067.6 1310.0,1068.4 1311.0,1066.9 1312.0,1067.4 1313.1,1070.1 1314.3,1068.8 1315.4,1070.5 1316.7,1069.1 1317.9,1069.5 1319.2,1069.2 1320.5,1069.7 1321.8,1072.0 1323.2,1069.2 1324.5,1070.6 1325.9,1071.8 1327.2,1069.9 1328.5,1071.5 1329.7,1071.1 1330.9,1071.8 1332.2,1071.5 1333.4,1071.7 1334.7,1071.8 1336.0,1072.5 1337.2,1070.8 1338.5,1070.3 1339.8,1072.0 1341.1,1072.4 1342.3,1073.5 1343.6,1071.6 1344.9,1071.3 1346.2,1070.2 1347.4,1070.0 1348.7,1072.6 1350.0,1072.7 1351.2,1070.8 1352.5,1069.8 1353.8,1069.3 1355.0,1070.6 1356.3,1070.8 1357.6,1069.0 1358.8,1070.0 1360.1,1068.9 1361.4,1068.7 1362.6,1069.4 1363.9,1068.2 1365.1,1067.4 1366.4,1066.8 1367.7,1071.3 1368.9,1069.5 1370.1,1067.7 1371.3,1070.9 1372.4,1069.5 1373.6,1070.0 1374.8,1071.2 1375.9,1071.3 1377.1,1071.9 1378.2,1070.0 1379.4,1071.7 1380.5,1072.3 1381.7,1073.3 1382.9,1073.4 1384.1,1075.1 1385.3,1075.3 1386.6,1075.4 1387.8,1073.3 1389.1,1076.2 1390.2,1074.4 1391.3,1076.4 1392.5,1075.7 1393.6,1076.4 1394.8,1077.6 1396.0,1075.9 1397.2,1077.7 1398.4,1076.2 1399.6,1076.5 1400.9,1078.0 1402.1,1078.3 1403.3,1079.1 1404.6,1078.3 1405.8,1080.2 1407.1,1077.6 1408.3,1079.6 1409.5,1078.2 1410.8,1078.0 1412.0,1079.6 1413.3,1078.5 1414.5,1077.7 1415.7,1078.3 1416.9,1078.4 1418.1,1078.5 1419.4,1080.0 1420.6,1079.3 1421.8,1079.5 1423.1,1079.2 1424.3,1077.4 1425.5,1078.1 1426.7,1078.6 1428.0,1077.9 1429.2,1078.9 1430.4,1078.0 1431.7,1079.1 1432.9,1076.6 1434.1,1078.7 1435.3,1080.0 1436.6,1077.8 1437.8,1077.9 1439.0,1078.3 1440.2,1078.2 1441.5,1076.9 1442.7,1076.3 1443.9,1078.7 1445.1,1078.7 1446.3,1077.5 1447.6,1078.3 1448.8,1077.5 1450.0,1077.2 1451.2,1076.5 1452.4,1078.4 1453.6,1075.8 1454.8,1076.9 1456.0,1075.9 1457.2,1076.9 1458.4,1077.1 1459.6,1076.3 1460.8,1075.0 1462.0,1076.3 1463.2,1075.8 1464.5,1076.9 1465.7,1074.7 1467.0,1074.7 1468.2,1074.2 1469.5,1073.5 1470.8,1073.8 1471.9,1073.8 1473.1,1074.6 1474.3,1075.3 1475.4,1074.4 1476.6,1074.9 1477.8,1075.2 1479.0,1073.2 1480.2,1073.4 1481.4,1072.8 1482.7,1073.7 1483.9,1073.6 1485.1,1073.8 1486.4,1071.6 1487.6,1072.2 1488.8,1071.4 1490.1,1072.2 1491.3,1073.9 1492.5,1072.1 1493.7,1071.1 1495.0,1072.3 1496.2,1072.7 1497.4,1073.0 1498.6,1072.7 1499.8,1070.9 1500.9,1071.3 1502.1,1071.7 1503.3,1071.2 1504.4,1071.7 1505.7,1071.2 1507.0,1072.4 1508.2,1072.5 1509.4,1073.6 1510.7,1072.2 1511.9,1072.2 1513.1,1071.4 1514.3,1072.1 1515.5,1071.7 1516.7,1072.6 1517.9,1071.9 1519.1,1071.1 1520.3,1072.8 1521.5,1073.1 1522.7,1072.2 1523.9,1072.4 1525.1,1071.3 1526.4,1072.2 1527.6,1072.6 1528.8,1074.1 1530.1,1073.0 1531.4,1074.2 1532.5,1073.3 1533.7,1073.5 1534.9,1072.6 1536.0,1073.7 1537.2,1074.8 1538.4,1073.2 1539.6,1074.8 1540.8,1072.3 1542.1,1074.1 1543.3,1073.7 1544.5,1074.7 1545.7,1072.1 1547.0,1074.7 1548.2,1073.8 1549.4,1074.0 1550.7,1075.5 1551.9,1074.2 1553.1,1075.3 1554.3,1073.5 1555.6,1076.4 1556.8,1074.8 1558.0,1074.8 1559.2,1074.7 1560.4,1075.3 1561.5,1075.5 1562.7,1074.2 1563.9,1075.9 1565.0,1076.4 1566.3,1075.1 1567.6,1075.1 1568.8,1076.3 1570.1,1075.3 1571.3,1074.5 1572.6,1078.1 1573.8,1077.1 1575.0,1073.4 1576.3,1076.2 1577.5,1076.0 1578.7,1076.5 1579.9,1078.9 1581.1,1076.2 1582.3,1076.9 1583.5,1077.4 1584.7,1077.0 1585.9,1077.7 1587.1,1076.3 1588.3,1078.2 1589.6,1078.0 1590.8,1075.6 1592.0,1076.4 1593.2,1078.2 1594.4,1076.8 1595.7,1078.0 1596.9,1078.8 1598.1,1076.7 1599.3,1080.1 1600.6,1077.9 1601.8,1078.0 1603.0,1078.3 1604.2,1079.4 1605.5,1078.6 1606.7,1078.2 1607.9,1078.3 1609.1,1078.4 1610.3,1077.7 1611.6,1077.9 1612.8,1079.3 1614.0,1078.9 1615.2,1079.6 1616.5,1080.0 1617.7,1079.4 1618.9,1076.7 1620.1,1079.5 1621.3,1081.0 1622.5,1080.5 1623.7,1079.7 1624.9,1080.0 1626.1,1079.6 1627.3,1077.6 1628.5,1081.0 1629.7,1079.6 1630.9,1080.9 1632.1,1079.7 1633.3,1081.2 1634.6,1080.3 1635.8,1081.1 1637.0,1080.6 1638.2,1081.2 1639.5,1080.0 1640.7,1079.5 1642.0,1082.9 1643.2,1080.4 1644.5,1080.3 1645.8,1080.7 1647.0,1081.7 1648.1,1080.0 1649.3,1081.1 1650.5,1080.5 1651.7,1080.6 1652.9,1082.1 1654.1,1082.2 1655.3,1081.9 1656.5,1083.0 1657.7,1082.3 1659.0,1080.8 1660.2,1081.1 1661.4,1083.3 1662.7,1082.6 1663.9,1081.0 1665.2,1082.2 1666.4,1082.4 1667.7,1081.9 1668.9,1082.8 1670.2,1082.4 1671.5,1083.0 1672.7,1082.5 1674.0,1082.1 1675.3,1082.6 1676.6,1081.6 1677.8,1084.9 1679.1,1082.1 1680.4,1083.2 1681.6,1083.2 1682.8,1081.4 1684.0,1081.8 1685.1,1082.1 1686.3,1081.4 1687.6,1082.4 1688.8,1080.7 1690.0,1084.7 1691.2,1080.9 1692.4,1081.5 1693.6,1080.8 1694.9,1080.8 1696.1,1082.7 1697.3,1082.3 1698.6,1084.3 1699.8,1082.3 1701.0,1083.3 1702.3,1083.0 1703.5,1082.8 1704.7,1083.1 1706.0,1084.3 1707.2,1084.0 1708.5,1083.1 1709.7,1083.4 1710.9,1082.7 1712.2,1082.2 1713.4,1082.8 1714.6,1082.2 1715.9,1083.8 1717.1,1082.6 1718.3,1084.2 1719.6,1082.1 1720.8,1082.9 1722.0,1084.0 1723.2,1082.3 1724.5,1083.2 1725.7,1083.2 1726.9,1083.6 1728.1,1083.5 1729.4,1083.2 1730.6,1084.1 1731.8,1084.5 1733.0,1082.3 1734.3,1086.0 1735.5,1083.4 1736.7,1082.4 1737.9,1083.3 1739.2,1083.6 1740.4,1081.5 1741.6,1084.0 1742.8,1083.4 1744.1,1083.4 1745.3,1082.1 1746.5,1083.7 1747.7,1085.6 1749.0,1083.4 1750.2,1083.6 1751.4,1083.3 1752.6,1084.5 1753.9,1083.1 1755.1,1083.1 1756.3,1082.5 1757.5,1085.0 1758.8,1083.6 1760.0,1083.7 1761.2,1084.4 1762.4,1081.4 1763.6,1083.9 1764.9,1083.1 1766.1,1084.5 1767.3,1082.5 1768.5,1084.0 1769.8,1083.9 1771.0,1084.2 1772.2,1084.0 1773.4,1084.4 1774.7,1083.3 1775.9,1083.1 1777.1,1083.8 1778.3,1083.4 1779.6,1083.6 1780.8,1084.4 1782.0,1083.5 1783.2,1084.0 1784.5,1086.0 1785.7,1083.7 1786.9,1083.1 1788.1,1084.2 1789.4,1085.6 1790.6,1084.8 1791.8,1084.9 1793.0,1084.6 1794.3,1084.0 1795.5,1085.7 1796.7,1082.7 1797.9,1084.1 1799.2,1083.4 1800.4,1083.4 1801.6,1085.6 1802.8,1083.8 1804.0,1083.7 1805.2,1083.5 1806.5,1084.4 1807.7,1084.7 1808.9,1084.8 1810.1,1083.8 1811.3,1085.0 1812.5,1085.7 1813.6,1083.8 1814.8,1085.1 1816.0,1083.5 1817.2,1082.7 1818.4,1084.7 1819.6,1084.4 1820.8,1083.5 1822.0,1084.9 1823.2,1084.0 1824.4,1084.5 1825.6,1084.1 1826.9,1083.0 1828.1,1085.4 1829.3,1084.9 1830.5,1083.8 1831.8,1084.2 1833.0,1084.0 1834.3,1084.7 1835.5,1085.3 1836.8,1084.0 1838.1,1084.3 1839.4,1084.3 1840.7,1083.7 1842.0,1083.5 1843.1,1085.7 1844.3,1084.8 1845.4,1083.2 1846.6,1084.6 1847.7,1085.0 1848.9,1083.9 1850.1,1083.8 1851.3,1083.5 1852.5,1083.8 1853.7,1083.9 1854.9,1083.5 1856.1,1084.0 1857.3,1085.9 1858.5,1084.4 1859.7,1083.3 1860.9,1084.9 1862.2,1083.8 1863.4,1085.1 1864.6,1083.8 1865.9,1083.8 1867.1,1084.6 1868.3,1084.7 1869.6,1084.8 1870.8,1082.9 1872.1,1082.7 1873.3,1083.4 1874.6,1081.0 1875.8,1084.9 1877.1,1084.1 1878.4,1082.7 1879.6,1082.4 1880.9,1083.8 1882.1,1083.9 1883.4,1083.0 1884.6,1082.8 1885.9,1082.2 1887.1,1083.8 1888.4,1083.0 1889.6,1081.4 1890.8,1081.8 1892.1,1082.2 1893.3,1083.9 1894.5,1083.6 1895.8,1081.8 1897.0,1083.7" fill="none" stroke="#F03C3F" stroke-width="15" stroke-opacity="0.45" stroke-linejoin="round"/>
<path d="M146.0,1081.6 146.5,1079.2 146.9,1077.5 147.3,1075.1 147.8,1075.0 148.2,1074.8 148.7,1073.3 149.1,1071.5 149.6,1071.6 150.1,1070.8 150.5,1069.0 150.9,1068.3 151.4,1066.7 151.8,1067.2 152.3,1064.3 152.8,1062.6 153.2,1062.9 153.7,1061.1 154.2,1057.5 154.6,1057.8 155.0,1057.6 155.4,1055.9 155.8,1055.1 156.2,1055.0 156.6,1052.8 156.9,1051.3 157.2,1050.7 157.5,1048.9 157.8,1048.1 158.1,1047.3 158.4,1044.2 158.6,1043.5 158.9,1041.4 159.2,1042.3 159.4,1038.7 159.7,1040.4 159.9,1038.2 160.1,1038.0 160.3,1035.5 160.5,1036.0 160.7,1034.1 160.9,1032.7 161.1,1030.6 161.3,1031.1 161.5,1028.3 161.7,1027.7 161.9,1025.3 162.1,1025.1 162.2,1024.4 162.4,1020.7 162.6,1022.0 162.8,1020.2 163.0,1019.3 163.2,1019.6 163.4,1017.5 163.5,1014.8 163.7,1014.3 163.9,1013.6 164.1,1010.5 164.3,1009.7 164.4,1009.6 164.6,1007.8 164.8,1006.9 165.0,1006.1 165.1,1003.5 165.3,1002.5 165.5,1002.5 165.7,1000.4 165.8,999.0 166.0,998.7 166.2,997.0 166.3,995.0 166.5,995.2 166.7,993.6 166.8,992.5 167.0,990.0 167.1,991.3 167.3,988.5 167.4,988.3 167.6,986.9 167.7,983.5 167.9,983.6 168.0,983.5 168.2,982.5 168.3,981.7 168.4,979.1 168.6,977.6 168.7,977.7 168.8,975.6 169.0,974.6 169.1,972.8 169.2,972.0 169.3,970.3 169.5,969.2 169.6,967.9 169.7,967.4 169.8,966.2 170.0,966.2 170.1,963.8 170.2,961.2 170.4,959.9 170.5,960.1 170.6,958.8 170.8,958.0 170.9,956.4 171.1,955.2 171.2,953.4 171.3,952.7 171.5,952.7 171.6,950.6 171.8,948.4 171.9,947.7 172.1,946.7 172.2,945.8 172.3,944.3 172.5,943.8 172.6,941.2 172.7,940.8 172.9,941.1 173.0,937.7 173.1,937.3 173.3,936.0 173.4,935.4 173.5,934.0 173.6,932.1 173.7,931.4 173.9,929.0 174.0,928.6 174.1,926.7 174.2,926.7 174.3,925.6 174.4,924.3 174.4,923.2 174.5,921.2 174.6,921.0 174.7,918.5 174.8,919.0 174.9,916.2 175.0,916.0 175.1,914.1 175.3,911.9 175.4,911.7 175.5,910.2 175.6,908.3 175.7,906.8 175.9,906.1 176.0,904.9 176.1,903.1 176.2,901.3 176.4,901.2 176.5,898.2 176.6,898.9 176.8,897.6 176.9,895.6 177.1,893.2 177.2,893.7 177.4,892.2 177.5,890.8 177.7,889.1 177.9,886.9 178.1,886.2 178.3,886.6 178.5,887.3 178.8,882.9 179.2,882.1 179.6,881.0 180.0,876.1 180.4,876.6 180.8,875.3 181.2,877.5 181.6,875.4 182.0,873.9 182.4,874.9 182.8,875.4 183.2,877.7 183.6,876.4 184.0,878.3 184.4,880.3 184.8,881.3 185.2,881.4 185.5,886.2 185.7,885.5 185.9,885.4 186.1,888.4 186.2,888.8 186.4,890.9 186.5,891.3 186.6,893.7 186.8,893.4 186.9,896.2 187.0,895.4 187.1,898.8 187.2,900.0 187.3,900.6 187.4,903.3 187.5,903.2 187.6,904.7 187.7,906.6 187.8,908.6 187.9,909.5 188.0,910.9 188.1,912.4 188.2,913.7 188.3,915.4 188.4,915.6 188.4,916.0 188.5,918.1 188.6,918.3 188.7,920.8 188.7,921.3 188.8,922.6 188.9,922.9 188.9,925.1 189.0,925.7 189.1,927.9 189.2,928.2 189.2,930.6 189.3,931.7 189.4,931.5 189.5,933.5 189.6,933.5 189.7,936.1 189.8,938.6 189.9,939.3 190.0,939.7 190.1,939.9 190.2,942.7 190.3,943.2 190.4,945.9 190.5,945.6 190.6,945.0 190.7,948.1 190.9,949.9 191.0,950.3 191.1,950.7 191.2,953.7 191.3,953.0 191.4,955.3 191.6,956.3 191.7,957.6 191.8,959.2 191.9,962.7 192.0,961.9 192.1,963.2 192.2,965.0 192.3,965.4 192.5,967.5 192.6,967.2 192.7,968.3 192.8,969.9 192.9,972.6 193.0,972.3 193.1,974.1 193.2,974.2 193.4,974.5 193.5,978.1 193.6,978.5 193.7,980.6 193.8,979.6 194.0,983.3 194.1,983.4 194.2,984.8 194.4,986.6 194.5,987.4 194.7,987.4 194.9,989.8 195.1,990.0 195.3,990.2 195.5,993.2 195.7,994.9 195.9,996.2 196.1,997.8 196.3,995.8 196.5,999.2 196.7,1000.9 196.9,1001.1 197.1,1001.8 197.3,1004.4 197.5,1006.7 197.6,1007.2 197.8,1006.8 197.9,1008.3 198.0,1010.7 198.2,1010.5 198.3,1013.4 198.4,1014.6 198.5,1014.0 198.6,1016.9 198.7,1019.3 198.8,1018.6 199.0,1018.8 199.1,1020.7 199.2,1023.0 199.3,1024.5 199.5,1024.6 199.6,1026.0 199.8,1025.5 200.0,1029.6 200.3,1030.0 200.5,1031.9 200.7,1032.1 201.0,1033.2 201.3,1035.1 201.5,1035.8 201.8,1035.5 202.2,1038.3 202.5,1038.7 202.9,1040.4 203.4,1042.6 203.8,1044.8 204.3,1042.9 204.8,1044.8 205.4,1045.5 206.0,1046.0 206.4,1047.9 206.9,1048.4 207.4,1049.9 207.9,1052.4 208.5,1053.2 209.0,1052.9 209.6,1054.2 210.2,1055.2 210.8,1058.1 211.4,1057.3 212.0,1058.5 212.7,1058.8 213.4,1062.2 214.0,1064.4 214.7,1063.1 215.4,1063.5 216.1,1066.3 216.8,1066.1 217.5,1067.9 218.3,1069.1 219.0,1068.5 219.7,1070.5 220.5,1072.0 221.3,1072.3 222.1,1073.6 222.9,1074.5 223.8,1074.7 224.6,1075.9 225.6,1075.3 226.5,1076.3 227.5,1079.5 228.4,1078.4 229.4,1079.2 230.4,1077.3 231.5,1080.6 232.6,1081.8 233.7,1081.1 234.8,1081.8 235.9,1083.3 237.1,1081.4 238.3,1084.2 239.5,1084.3 240.6,1085.7 241.8,1085.9 243.0,1085.0 244.2,1085.0 245.4,1087.4 246.5,1087.2 247.7,1086.7 248.9,1086.2 250.2,1085.2 251.4,1088.1 252.7,1086.5 254.0,1086.7 255.2,1086.1 256.5,1087.0 257.8,1088.2 259.0,1085.8 260.3,1087.7 261.6,1087.6 262.8,1085.7 264.1,1087.9 265.4,1087.1 266.6,1087.3 267.9,1086.4 269.1,1086.8 270.3,1085.1 271.4,1085.8 272.6,1084.7 273.8,1085.9 274.9,1086.9 276.1,1086.5 277.2,1085.8 278.4,1084.8 279.6,1084.4 280.8,1084.1 282.0,1082.8 283.2,1083.7 284.4,1084.7 285.6,1084.0 286.8,1084.9 288.1,1082.7 289.2,1082.0 290.4,1082.2 291.6,1083.4 292.8,1081.4 294.0,1080.8 295.2,1082.1 296.4,1081.5 297.6,1082.8 298.8,1081.4 300.1,1082.6 301.3,1079.9 302.6,1080.6 303.8,1079.2 305.1,1080.2 306.3,1079.2 307.6,1079.4 308.8,1079.8 310.1,1079.5 311.3,1079.0 312.5,1078.2 313.8,1078.9 315.0,1078.6 316.2,1078.0 317.5,1078.3 318.7,1076.9 319.9,1078.2 321.1,1076.3 322.4,1075.9 323.6,1075.0 324.8,1076.8 326.1,1075.9 327.3,1076.4 328.5,1075.6 329.7,1074.2 331.0,1074.1 332.2,1075.3 333.4,1075.0 334.7,1075.7 335.9,1073.2 337.1,1074.6 338.3,1074.0 339.6,1074.0 340.8,1072.6 342.0,1071.5 343.2,1072.4 344.4,1071.3 345.6,1071.9 346.7,1070.5 347.9,1070.5 349.1,1070.7 350.3,1070.5 351.5,1071.1 352.7,1068.4 353.9,1069.4 355.1,1068.4 356.3,1068.7 357.4,1068.9 358.6,1067.0 359.8,1068.0 361.0,1066.8 362.1,1066.6 363.3,1065.3 364.4,1065.7 365.5,1065.0 366.7,1066.7 367.8,1065.4 368.9,1066.1 370.1,1063.6 371.4,1064.3 372.6,1064.0 373.9,1063.0 375.1,1063.1 376.3,1064.5 377.6,1062.2 378.8,1062.9 380.0,1062.3 381.2,1060.6 382.3,1061.2 383.5,1061.6 384.6,1063.4 385.8,1060.9 386.8,1060.9 387.9,1057.6 389.0,1060.1 390.0,1058.2 391.2,1059.5 392.3,1057.2 393.5,1057.2 394.6,1056.5 395.6,1056.5 396.7,1054.4 397.7,1054.2 398.7,1053.1 399.7,1052.3 400.7,1052.8 401.6,1052.0 402.6,1049.1 403.5,1048.0 404.4,1048.8 405.2,1049.4 406.1,1047.8 406.9,1046.4 407.7,1046.2 408.5,1045.0 409.3,1042.5 410.1,1042.5 410.8,1042.8 411.5,1039.6 412.2,1040.2 412.9,1039.6 413.6,1038.8 414.2,1037.3 414.8,1034.8 415.3,1033.9 415.8,1032.6 416.3,1032.8 416.7,1032.2 417.2,1028.7 417.6,1028.2 418.0,1025.7 418.4,1026.5 418.8,1025.1 419.1,1023.8 419.5,1023.4 419.9,1021.6 420.2,1021.1 420.6,1018.3 421.0,1017.1 421.4,1017.4 421.7,1015.5 422.1,1014.8 422.5,1012.0 422.8,1012.2 423.2,1009.6 423.5,1008.8 423.9,1008.4 424.2,1006.3 424.5,1007.6 424.9,1005.9 425.2,1004.2 425.5,1001.6 425.8,1001.9 426.1,1001.1 426.4,999.6 426.7,995.1 426.9,995.4 427.2,994.2 427.4,993.3 427.6,993.2 427.8,992.9 428.1,988.8 428.3,990.5 428.5,988.4 428.7,987.0 428.9,986.9 429.1,984.4 429.4,982.9 429.6,981.1 429.9,982.2 430.1,980.3 430.4,978.0 430.7,977.0 431.1,976.9 431.4,974.8 431.8,974.3 432.2,971.2 432.5,969.4 432.9,967.9 433.3,965.8 433.7,965.6 434.1,964.9 434.5,963.0 435.0,962.2 435.4,961.3 435.8,961.7 436.2,962.9 436.7,964.0 437.2,963.2 437.7,965.2 438.2,965.7 438.7,966.9 439.2,968.5 439.8,969.4 440.3,970.9 440.8,971.5 441.2,976.4 441.7,976.4 442.1,974.8 442.5,978.0 442.8,978.6 443.1,981.0 443.4,981.7 443.7,983.7 443.9,983.7 444.1,985.2 444.3,987.5 444.6,990.0 444.8,989.1 445.0,990.7 445.2,992.7 445.4,992.7 445.6,993.9 445.8,994.9 446.1,996.5 446.3,998.5 446.6,998.2 446.9,1000.1 447.2,1001.6 447.5,1002.4 447.8,1002.2 448.1,1004.1 448.4,1007.2 448.8,1006.8 449.1,1008.3 449.4,1010.0 449.8,1010.8 450.1,1012.5 450.4,1014.3 450.8,1014.9 451.2,1014.3 451.5,1016.0 451.9,1018.6 452.3,1018.2 452.7,1021.1 453.0,1020.1 453.4,1022.4 453.8,1022.4 454.2,1024.7 454.6,1026.5 455.0,1027.3 455.4,1027.7 455.9,1030.3 456.3,1030.3 456.8,1031.6 457.2,1034.4 457.7,1034.7 458.2,1035.5 458.7,1035.8 459.2,1040.3 459.8,1038.2 460.3,1040.7 460.8,1041.8 461.4,1042.7 461.9,1044.1 462.5,1044.6 463.1,1044.8 463.7,1047.4 464.3,1048.0 465.0,1049.2 465.7,1049.9 466.5,1051.2 467.3,1051.6 468.1,1053.3 469.0,1053.7 469.9,1054.1 470.8,1055.6 471.8,1056.1 472.8,1055.4 473.9,1056.3 474.9,1056.5 476.0,1057.6 477.1,1057.3 478.3,1058.8 479.5,1058.9 480.6,1059.4 481.8,1060.3 483.1,1060.6 484.3,1060.5 485.3,1062.0 486.3,1061.5 487.4,1062.3 488.5,1063.5 489.5,1062.0 490.6,1063.3 491.7,1063.8 492.9,1063.5 494.0,1063.8 495.1,1065.0 496.3,1066.0 497.5,1065.1 498.7,1067.3 499.9,1066.6 501.1,1068.8 502.3,1066.9 503.6,1066.7 504.8,1068.3 506.1,1068.0 507.3,1068.7 508.6,1067.3 509.9,1069.1 511.2,1068.0 512.3,1069.7 513.4,1068.6 514.5,1068.5 515.7,1069.2 516.8,1069.8 518.0,1069.2 519.2,1070.0 520.4,1068.4 521.6,1068.7 522.8,1069.8 524.0,1069.8 525.2,1068.1 526.5,1068.8 527.7,1069.0 529.0,1068.7 530.2,1069.4 531.5,1068.2 532.7,1068.8 534.0,1069.5 535.3,1069.0 536.5,1068.6 537.8,1069.6 539.1,1069.7 540.3,1069.6 541.6,1067.8 542.9,1069.4 544.1,1069.2 545.4,1069.1 546.6,1068.5 547.9,1071.5 549.1,1069.8 550.4,1066.8 551.6,1069.5 552.8,1068.5 554.0,1068.3 555.3,1067.3 556.5,1068.9 557.7,1068.4 558.9,1070.3 560.2,1069.8 561.4,1070.7 562.6,1068.8 563.8,1069.6 565.1,1069.2 566.3,1069.8 567.5,1067.9 568.7,1070.2 570.0,1069.4 571.2,1068.1 572.4,1068.0 573.6,1068.7 574.9,1070.8 576.1,1069.0 577.3,1068.4 578.5,1069.5 579.8,1068.8 581.0,1069.3 582.2,1069.1 583.4,1069.1 584.7,1069.8 585.9,1070.1 587.1,1070.4 588.3,1070.2 589.6,1067.6 590.8,1068.3 592.0,1070.1 593.2,1069.5 594.5,1068.5 595.8,1067.4 597.1,1068.7 598.4,1068.1 599.8,1068.3 601.1,1068.5 602.5,1068.4 603.9,1069.1 605.3,1068.2 606.7,1068.5 608.1,1069.1 609.4,1067.0 610.8,1066.7 612.2,1067.4 613.5,1067.2 614.9,1066.3 616.2,1067.7 617.5,1066.7 618.8,1066.7 620.1,1066.0 621.3,1067.1 622.5,1066.9 623.7,1066.1 624.8,1067.2 625.9,1067.0 627.0,1067.4 628.0,1064.9 629.0,1065.7 629.9,1066.3 630.8,1063.1 631.6,1065.6 632.4,1064.3 634.0,1064.8 635.4,1064.5 636.6,1065.6 637.7,1063.6 638.8,1065.3 640.0,1064.2 641.0,1062.9 641.9,1062.1 643.0,1062.8 644.0,1060.9 645.0,1059.3 646.0,1057.3 647.0,1059.3 648.0,1057.2 649.0,1055.6 649.9,1054.7 650.8,1054.4 651.7,1055.0 652.5,1054.2 653.3,1052.2 654.1,1051.1 654.8,1051.7 655.6,1048.5 656.3,1048.8 656.9,1047.1 657.6,1044.8 658.2,1045.6 658.8,1041.3 659.3,1040.7 659.7,1039.8 660.1,1039.4 660.4,1038.4 660.8,1038.6 661.1,1035.2 661.4,1035.1 661.7,1033.3 662.0,1032.8 662.3,1029.5 662.5,1030.8 662.8,1027.6 663.1,1027.4 663.5,1026.3 663.8,1023.0 664.2,1023.7 664.6,1021.5 665.0,1021.8 665.4,1019.4 665.8,1019.5 666.2,1016.0 666.6,1015.9 667.1,1014.1 667.5,1014.2 667.9,1012.9 668.4,1011.9 668.9,1010.2 669.5,1008.7 670.1,1007.8 670.7,1006.3 671.4,1005.5 672.0,1004.6 672.7,1004.5 673.4,1003.7 674.0,1000.8 674.7,1001.0 675.3,998.3 676.0,999.7 676.6,996.1 677.3,996.8 677.9,993.8 678.6,992.7 679.2,994.8 679.9,990.9 680.5,991.5 681.3,990.3 682.1,988.4 682.9,986.5 683.7,985.2 684.6,985.1 685.5,984.4 686.7,983.2 688.0,985.1 689.3,983.5 690.6,984.0 691.6,983.8 692.6,983.7 693.6,986.5 694.6,986.6 695.5,987.4 696.4,988.6 697.0,989.8 697.6,992.6 698.2,991.7 698.7,994.5 699.2,994.5 699.7,992.9 700.2,998.1 700.8,996.0 701.4,1001.6 702.0,1000.1 702.7,1000.4 703.4,1001.2 704.1,1004.2 704.9,1004.7 705.6,1004.3 706.4,1005.1 707.1,1008.0 707.9,1007.4 708.6,1008.0 709.3,1008.4 710.1,1009.9 710.8,1010.9 711.6,1013.0 712.3,1013.3 713.1,1017.3 713.8,1014.6 714.5,1016.5 715.2,1017.6 715.9,1018.8 716.7,1019.7 717.4,1022.0 718.0,1022.0 718.7,1023.8 719.5,1024.4 720.5,1025.3 721.3,1024.7 722.2,1025.3 723.1,1025.0 724.1,1026.5 725.2,1027.7 726.3,1029.5 727.5,1031.7 728.6,1027.8 729.8,1030.8 731.0,1030.8 732.1,1030.4 733.2,1033.2 734.3,1035.6 735.3,1034.2 736.4,1036.1 737.4,1034.3 738.4,1036.9 739.4,1039.8 740.4,1037.1 741.4,1039.3 742.5,1038.3 743.5,1042.6 744.5,1040.5 745.6,1038.9 746.6,1041.5 747.7,1042.6 748.9,1041.1 750.1,1042.4 751.3,1042.0 752.6,1040.9 753.8,1043.0 755.1,1042.1 756.3,1041.5 757.5,1042.7 758.8,1041.4 760.0,1039.6 761.2,1040.1 762.3,1040.1 763.5,1039.5 764.6,1039.4 765.7,1035.7 766.8,1037.9 767.9,1038.5 769.0,1037.0 770.1,1036.1 771.2,1036.2 772.3,1032.8 773.5,1035.8 774.6,1034.7 775.8,1033.6 777.0,1033.8 778.2,1033.3 779.3,1032.7 780.5,1035.7 781.7,1034.7 783.0,1033.3 784.2,1033.8 785.5,1034.1 786.8,1034.3 788.1,1033.5 789.2,1034.3 790.3,1034.3 791.4,1035.3 792.6,1034.1 793.8,1034.5 795.0,1035.5 796.2,1034.1 797.4,1032.5 798.6,1033.8 799.8,1035.6 801.0,1036.9 802.3,1036.0 803.5,1036.3 804.7,1036.4 805.9,1035.1 807.1,1037.2 808.3,1037.7 809.5,1038.5 810.7,1039.5 811.9,1039.8 813.1,1040.0 814.3,1039.0 815.5,1038.9 816.6,1038.4 817.8,1040.1 819.0,1041.3 820.2,1041.5 821.4,1042.2 822.6,1040.9 823.8,1042.7 824.9,1042.1 826.1,1044.1 827.3,1043.2 828.5,1045.4 829.7,1045.6 830.9,1045.9 832.1,1048.2 833.3,1046.7 834.4,1046.8 835.6,1046.5 836.8,1046.5 838.0,1047.1 839.2,1048.6 840.4,1047.3 841.6,1049.9 842.8,1049.4 843.9,1049.3 845.1,1050.3 846.3,1050.0 847.5,1051.4 848.7,1052.7 849.9,1051.1 851.1,1052.9 852.3,1052.1 853.4,1053.4 854.6,1053.8 855.8,1053.8 857.0,1053.9 858.1,1054.1 859.3,1057.7 860.5,1056.1 861.7,1056.4 862.9,1055.3 864.1,1056.0 865.3,1056.8 866.5,1057.7 867.7,1057.6 868.9,1057.2 870.1,1058.2 871.3,1058.1 872.6,1059.1 873.8,1057.4 875.1,1059.5 876.3,1060.5 877.6,1060.2 878.8,1058.6 880.1,1059.9 881.3,1059.1 882.6,1056.9 883.8,1058.0 885.1,1061.2 886.3,1060.0 887.5,1059.5 888.8,1060.2 890.0,1058.7 891.2,1058.1 892.4,1061.8 893.6,1059.7 894.8,1060.0 896.0,1060.2 897.2,1059.9 898.4,1059.6 899.6,1059.3 900.7,1057.7 901.9,1058.1 903.1,1056.8 904.3,1057.5 905.5,1056.4 906.6,1058.7 907.8,1056.2 909.0,1054.0 910.2,1054.9 911.4,1054.6 912.6,1055.3 913.8,1053.2 915.0,1056.4 916.1,1054.8 917.3,1054.7 918.5,1055.2 919.7,1052.9 920.9,1052.8 922.1,1051.3 923.3,1050.9 924.4,1053.4 925.6,1051.3 926.8,1051.3 928.0,1050.0 929.2,1051.2 930.4,1050.9 931.7,1051.6 932.9,1048.7 934.2,1050.3 935.4,1052.5 936.7,1049.4 938.0,1050.7 939.2,1051.3 940.5,1049.7 941.7,1050.8 943.0,1049.9 944.3,1049.6 945.5,1050.0 946.8,1049.7 948.1,1049.5 949.3,1050.5 950.6,1049.4 951.9,1049.2 953.1,1051.1 954.4,1050.2 955.7,1049.6 956.9,1049.9 958.2,1050.5 959.4,1051.3 960.7,1051.2 962.0,1049.5 963.2,1051.2 964.5,1051.2 965.8,1051.4 967.0,1049.8 968.3,1050.6 969.5,1051.9 970.8,1050.1 972.0,1049.5 973.2,1051.1 974.4,1050.8 975.6,1051.1 976.8,1051.0 977.9,1049.5 979.1,1052.4 980.3,1050.9 981.5,1051.9 982.7,1051.4 983.9,1052.8 985.1,1053.7 986.2,1053.8 987.4,1054.0 988.6,1053.9 989.8,1053.6 991.0,1053.6 992.2,1052.8 993.4,1054.2 994.6,1053.6 995.8,1054.7 996.9,1053.8 998.1,1052.6 999.3,1055.5 1000.5,1055.6 1001.7,1054.0 1002.9,1055.7 1004.1,1055.0 1005.3,1055.7 1006.4,1054.6 1007.6,1056.5 1008.8,1056.2 1010.0,1057.6 1011.2,1056.4 1012.4,1056.5 1013.6,1057.8 1014.8,1056.9 1016.0,1056.2 1017.1,1057.6 1018.3,1060.8 1019.5,1058.1 1020.7,1059.2 1021.9,1059.5 1023.1,1057.9 1024.3,1060.8 1025.5,1059.5 1026.6,1058.8 1027.8,1061.3 1029.0,1060.5 1030.2,1060.8 1031.4,1060.9 1032.6,1060.3 1033.8,1058.2 1035.0,1060.9 1036.2,1061.0 1037.3,1061.2 1038.5,1063.3 1039.7,1062.0 1040.9,1063.1 1042.1,1061.6 1043.3,1062.2 1044.5,1061.9 1045.7,1063.0 1046.8,1062.0 1048.0,1062.7 1049.2,1061.2 1050.4,1064.1 1051.6,1063.4 1052.8,1064.3 1054.0,1064.5 1055.2,1063.2 1056.4,1064.8 1057.5,1066.8 1058.7,1065.5 1059.9,1065.5 1061.1,1065.3 1062.3,1065.3 1063.5,1066.0 1064.7,1063.7 1065.9,1066.6 1067.0,1066.3 1068.2,1065.8 1069.4,1068.9 1070.6,1069.5 1071.8,1067.1 1073.1,1067.9 1074.3,1068.9 1075.5,1066.7 1076.8,1066.1 1078.0,1067.9 1079.2,1066.8 1080.5,1067.1 1081.7,1070.0 1083.0,1068.6 1084.2,1068.7 1085.5,1068.0 1086.7,1069.4 1088.0,1070.8 1089.3,1069.7 1090.7,1071.0 1092.0,1068.7 1093.1,1070.2 1094.3,1070.2 1095.5,1070.6 1096.7,1070.3 1097.8,1069.9 1099.1,1070.1 1100.3,1070.0 1101.5,1071.9 1102.7,1071.0 1104.0,1068.6 1105.2,1070.2 1106.4,1071.6 1107.7,1071.0 1109.0,1072.5 1110.2,1071.5 1111.5,1072.0 1112.7,1071.2 1114.0,1071.3 1115.2,1074.1 1116.4,1072.7 1117.7,1073.5 1118.9,1072.4 1120.1,1071.4 1121.4,1072.7 1122.6,1071.9 1123.8,1072.2 1125.1,1071.5 1126.3,1072.6 1127.6,1070.9 1128.8,1072.4 1130.1,1071.5 1131.3,1073.7 1132.6,1071.7 1133.8,1071.6 1135.0,1071.6 1136.3,1072.7 1137.5,1071.2 1138.7,1071.2 1139.9,1071.9 1141.1,1072.7 1142.3,1071.0 1143.5,1070.5 1144.6,1072.4 1145.8,1069.4 1147.1,1072.5 1148.4,1071.1 1149.6,1071.9 1150.9,1072.5 1152.1,1072.4 1153.3,1073.4 1154.5,1072.6 1155.7,1071.4 1157.0,1070.7 1158.2,1072.4 1159.4,1071.6 1160.6,1070.7 1161.8,1071.4 1163.1,1071.0 1164.3,1071.5 1165.6,1069.9 1166.9,1072.4 1168.1,1072.1 1169.2,1072.4 1170.4,1072.4 1171.7,1070.4 1172.9,1072.2 1174.1,1072.2 1175.4,1071.8 1176.6,1070.0 1177.9,1071.3 1179.2,1071.9 1180.4,1070.5 1181.7,1071.5 1183.0,1071.1 1184.2,1072.3 1185.5,1071.4 1186.7,1069.8 1188.0,1070.0 1189.2,1071.9 1190.4,1071.3 1191.6,1071.4 1192.8,1072.1 1193.9,1070.3 1195.3,1071.0 1196.6,1071.9 1197.9,1070.8 1199.3,1069.8 1200.6,1070.6 1201.9,1071.0 1203.2,1070.0 1204.5,1071.9 1205.7,1070.7 1207.0,1069.9 1208.2,1068.6 1209.4,1070.0 1210.6,1070.6 1211.8,1069.7 1213.0,1068.2 1214.1,1070.0 1215.3,1067.7 1216.5,1070.8 1217.7,1068.0 1218.9,1066.9 1220.0,1068.6 1221.1,1068.6 1222.2,1066.0 1223.3,1064.9 1224.3,1064.4 1225.4,1063.7 1226.5,1065.2 1227.5,1064.3 1228.6,1060.9 1229.8,1062.2 1230.9,1062.4 1232.0,1060.6 1233.1,1059.8 1234.2,1059.8 1235.3,1060.8 1236.3,1059.6 1237.3,1058.5 1238.3,1056.9 1239.1,1057.8 1239.9,1056.9 1240.7,1053.2 1241.4,1055.5 1242.2,1054.1 1242.9,1054.4 1243.6,1052.4 1244.2,1050.5 1244.9,1048.5 1245.6,1048.2 1246.3,1047.1 1247.0,1046.9 1247.7,1044.7 1248.5,1042.7 1249.3,1042.2 1250.0,1042.8 1250.7,1040.7 1251.5,1039.3 1252.3,1039.8 1253.1,1037.1 1253.9,1035.3 1254.8,1036.1 1255.8,1034.9 1256.8,1036.3 1257.9,1035.2 1259.1,1032.3 1260.3,1033.5 1261.6,1035.3 1262.8,1034.8 1264.1,1036.6 1265.4,1036.2 1266.6,1037.9 1267.9,1036.5 1269.1,1037.2 1270.4,1036.1 1271.7,1036.2 1273.0,1035.4 1274.3,1038.7 1275.6,1035.3 1276.8,1036.4 1278.1,1036.4 1279.2,1036.6 1280.4,1036.7 1281.4,1037.6 1282.5,1037.4 1283.5,1036.1 1284.4,1040.4 1285.2,1039.2 1286.0,1038.2 1286.9,1042.3 1287.7,1040.7 1288.6,1044.0 1289.5,1044.4 1290.2,1044.5 1291.0,1047.0 1291.8,1047.4 1292.6,1048.9 1293.4,1047.0 1294.2,1047.8 1295.1,1050.3 1295.9,1051.6 1296.7,1052.6 1297.6,1054.1 1298.4,1055.4 1299.2,1056.3 1300.0,1056.5 1300.8,1059.0 1301.6,1058.4 1302.5,1058.3 1303.3,1060.4 1304.1,1061.1 1304.9,1062.1 1305.6,1064.7 1306.4,1062.6 1307.2,1065.2 1308.1,1065.5 1309.0,1067.6 1310.0,1068.4 1311.0,1066.9 1312.0,1067.4 1313.1,1070.1 1314.3,1068.8 1315.4,1070.5 1316.7,1069.1 1317.9,1069.5 1319.2,1069.2 1320.5,1069.7 1321.8,1072.0 1323.2,1069.2 1324.5,1070.6 1325.9,1071.8 1327.2,1069.9 1328.5,1071.5 1329.7,1071.1 1330.9,1071.8 1332.2,1071.5 1333.4,1071.7 1334.7,1071.8 1336.0,1072.5 1337.2,1070.8 1338.5,1070.3 1339.8,1072.0 1341.1,1072.4 1342.3,1073.5 1343.6,1071.6 1344.9,1071.3 1346.2,1070.2 1347.4,1070.0 1348.7,1072.6 1350.0,1072.7 1351.2,1070.8 1352.5,1069.8 1353.8,1069.3 1355.0,1070.6 1356.3,1070.8 1357.6,1069.0 1358.8,1070.0 1360.1,1068.9 1361.4,1068.7 1362.6,1069.4 1363.9,1068.2 1365.1,1067.4 1366.4,1066.8 1367.7,1071.3 1368.9,1069.5 1370.1,1067.7 1371.3,1070.9 1372.4,1069.5 1373.6,1070.0 1374.8,1071.2 1375.9,1071.3 1377.1,1071.9 1378.2,1070.0 1379.4,1071.7 1380.5,1072.3 1381.7,1073.3 1382.9,1073.4 1384.1,1075.1 1385.3,1075.3 1386.6,1075.4 1387.8,1073.3 1389.1,1076.2 1390.2,1074.4 1391.3,1076.4 1392.5,1075.7 1393.6,1076.4 1394.8,1077.6 1396.0,1075.9 1397.2,1077.7 1398.4,1076.2 1399.6,1076.5 1400.9,1078.0 1402.1,1078.3 1403.3,1079.1 1404.6,1078.3 1405.8,1080.2 1407.1,1077.6 1408.3,1079.6 1409.5,1078.2 1410.8,1078.0 1412.0,1079.6 1413.3,1078.5 1414.5,1077.7 1415.7,1078.3 1416.9,1078.4 1418.1,1078.5 1419.4,1080.0 1420.6,1079.3 1421.8,1079.5 1423.1,1079.2 1424.3,1077.4 1425.5,1078.1 1426.7,1078.6 1428.0,1077.9 1429.2,1078.9 1430.4,1078.0 1431.7,1079.1 1432.9,1076.6 1434.1,1078.7 1435.3,1080.0 1436.6,1077.8 1437.8,1077.9 1439.0,1078.3 1440.2,1078.2 1441.5,1076.9 1442.7,1076.3 1443.9,1078.7 1445.1,1078.7 1446.3,1077.5 1447.6,1078.3 1448.8,1077.5 1450.0,1077.2 1451.2,1076.5 1452.4,1078.4 1453.6,1075.8 1454.8,1076.9 1456.0,1075.9 1457.2,1076.9 1458.4,1077.1 1459.6,1076.3 1460.8,1075.0 1462.0,1076.3 1463.2,1075.8 1464.5,1076.9 1465.7,1074.7 1467.0,1074.7 1468.2,1074.2 1469.5,1073.5 1470.8,1073.8 1471.9,1073.8 1473.1,1074.6 1474.3,1075.3 1475.4,1074.4 1476.6,1074.9 1477.8,1075.2 1479.0,1073.2 1480.2,1073.4 1481.4,1072.8 1482.7,1073.7 1483.9,1073.6 1485.1,1073.8 1486.4,1071.6 1487.6,1072.2 1488.8,1071.4 1490.1,1072.2 1491.3,1073.9 1492.5,1072.1 1493.7,1071.1 1495.0,1072.3 1496.2,1072.7 1497.4,1073.0 1498.6,1072.7 1499.8,1070.9 1500.9,1071.3 1502.1,1071.7 1503.3,1071.2 1504.4,1071.7 1505.7,1071.2 1507.0,1072.4 1508.2,1072.5 1509.4,1073.6 1510.7,1072.2 1511.9,1072.2 1513.1,1071.4 1514.3,1072.1 1515.5,1071.7 1516.7,1072.6 1517.9,1071.9 1519.1,1071.1 1520.3,1072.8 1521.5,1073.1 1522.7,1072.2 1523.9,1072.4 1525.1,1071.3 1526.4,1072.2 1527.6,1072.6 1528.8,1074.1 1530.1,1073.0 1531.4,1074.2 1532.5,1073.3 1533.7,1073.5 1534.9,1072.6 1536.0,1073.7 1537.2,1074.8 1538.4,1073.2 1539.6,1074.8 1540.8,1072.3 1542.1,1074.1 1543.3,1073.7 1544.5,1074.7 1545.7,1072.1 1547.0,1074.7 1548.2,1073.8 1549.4,1074.0 1550.7,1075.5 1551.9,1074.2 1553.1,1075.3 1554.3,1073.5 1555.6,1076.4 1556.8,1074.8 1558.0,1074.8 1559.2,1074.7 1560.4,1075.3 1561.5,1075.5 1562.7,1074.2 1563.9,1075.9 1565.0,1076.4 1566.3,1075.1 1567.6,1075.1 1568.8,1076.3 1570.1,1075.3 1571.3,1074.5 1572.6,1078.1 1573.8,1077.1 1575.0,1073.4 1576.3,1076.2 1577.5,1076.0 1578.7,1076.5 1579.9,1078.9 1581.1,1076.2 1582.3,1076.9 1583.5,1077.4 1584.7,1077.0 1585.9,1077.7 1587.1,1076.3 1588.3,1078.2 1589.6,1078.0 1590.8,1075.6 1592.0,1076.4 1593.2,1078.2 1594.4,1076.8 1595.7,1078.0 1596.9,1078.8 1598.1,1076.7 1599.3,1080.1 1600.6,1077.9 1601.8,1078.0 1603.0,1078.3 1604.2,1079.4 1605.5,1078.6 1606.7,1078.2 1607.9,1078.3 1609.1,1078.4 1610.3,1077.7 1611.6,1077.9 1612.8,1079.3 1614.0,1078.9 1615.2,1079.6 1616.5,1080.0 1617.7,1079.4 1618.9,1076.7 1620.1,1079.5 1621.3,1081.0 1622.5,1080.5 1623.7,1079.7 1624.9,1080.0 1626.1,1079.6 1627.3,1077.6 1628.5,1081.0 1629.7,1079.6 1630.9,1080.9 1632.1,1079.7 1633.3,1081.2 1634.6,1080.3 1635.8,1081.1 1637.0,1080.6 1638.2,1081.2 1639.5,1080.0 1640.7,1079.5 1642.0,1082.9 1643.2,1080.4 1644.5,1080.3 1645.8,1080.7 1647.0,1081.7 1648.1,1080.0 1649.3,1081.1 1650.5,1080.5 1651.7,1080.6 1652.9,1082.1 1654.1,1082.2 1655.3,1081.9 1656.5,1083.0 1657.7,1082.3 1659.0,1080.8 1660.2,1081.1 1661.4,1083.3 1662.7,1082.6 1663.9,1081.0 1665.2,1082.2 1666.4,1082.4 1667.7,1081.9 1668.9,1082.8 1670.2,1082.4 1671.5,1083.0 1672.7,1082.5 1674.0,1082.1 1675.3,1082.6 1676.6,1081.6 1677.8,1084.9 1679.1,1082.1 1680.4,1083.2 1681.6,1083.2 1682.8,1081.4 1684.0,1081.8 1685.1,1082.1 1686.3,1081.4 1687.6,1082.4 1688.8,1080.7 1690.0,1084.7 1691.2,1080.9 1692.4,1081.5 1693.6,1080.8 1694.9,1080.8 1696.1,1082.7 1697.3,1082.3 1698.6,1084.3 1699.8,1082.3 1701.0,1083.3 1702.3,1083.0 1703.5,1082.8 1704.7,1083.1 1706.0,1084.3 1707.2,1084.0 1708.5,1083.1 1709.7,1083.4 1710.9,1082.7 1712.2,1082.2 1713.4,1082.8 1714.6,1082.2 1715.9,1083.8 1717.1,1082.6 1718.3,1084.2 1719.6,1082.1 1720.8,1082.9 1722.0,1084.0 1723.2,1082.3 1724.5,1083.2 1725.7,1083.2 1726.9,1083.6 1728.1,1083.5 1729.4,1083.2 1730.6,1084.1 1731.8,1084.5 1733.0,1082.3 1734.3,1086.0 1735.5,1083.4 1736.7,1082.4 1737.9,1083.3 1739.2,1083.6 1740.4,1081.5 1741.6,1084.0 1742.8,1083.4 1744.1,1083.4 1745.3,1082.1 1746.5,1083.7 1747.7,1085.6 1749.0,1083.4 1750.2,1083.6 1751.4,1083.3 1752.6,1084.5 1753.9,1083.1 1755.1,1083.1 1756.3,1082.5 1757.5,1085.0 1758.8,1083.6 1760.0,1083.7 1761.2,1084.4 1762.4,1081.4 1763.6,1083.9 1764.9,1083.1 1766.1,1084.5 1767.3,1082.5 1768.5,1084.0 1769.8,1083.9 1771.0,1084.2 1772.2,1084.0 1773.4,1084.4 1774.7,1083.3 1775.9,1083.1 1777.1,1083.8 1778.3,1083.4 1779.6,1083.6 1780.8,1084.4 1782.0,1083.5 1783.2,1084.0 1784.5,1086.0 1785.7,1083.7 1786.9,1083.1 1788.1,1084.2 1789.4,1085.6 1790.6,1084.8 1791.8,1084.9 1793.0,1084.6 1794.3,1084.0 1795.5,1085.7 1796.7,1082.7 1797.9,1084.1 1799.2,1083.4 1800.4,1083.4 1801.6,1085.6 1802.8,1083.8 1804.0,1083.7 1805.2,1083.5 1806.5,1084.4 1807.7,1084.7 1808.9,1084.8 1810.1,1083.8 1811.3,1085.0 1812.5,1085.7 1813.6,1083.8 1814.8,1085.1 1816.0,1083.5 1817.2,1082.7 1818.4,1084.7 1819.6,1084.4 1820.8,1083.5 1822.0,1084.9 1823.2,1084.0 1824.4,1084.5 1825.6,1084.1 1826.9,1083.0 1828.1,1085.4 1829.3,1084.9 1830.5,1083.8 1831.8,1084.2 1833.0,1084.0 1834.3,1084.7 1835.5,1085.3 1836.8,1084.0 1838.1,1084.3 1839.4,1084.3 1840.7,1083.7 1842.0,1083.5 1843.1,1085.7 1844.3,1084.8 1845.4,1083.2 1846.6,1084.6 1847.7,1085.0 1848.9,1083.9 1850.1,1083.8 1851.3,1083.5 1852.5,1083.8 1853.7,1083.9 1854.9,1083.5 1856.1,1084.0 1857.3,1085.9 1858.5,1084.4 1859.7,1083.3 1860.9,1084.9 1862.2,1083.8 1863.4,1085.1 1864.6,1083.8 1865.9,1083.8 1867.1,1084.6 1868.3,1084.7 1869.6,1084.8 1870.8,1082.9 1872.1,1082.7 1873.3,1083.4 1874.6,1081.0 1875.8,1084.9 1877.1,1084.1 1878.4,1082.7 1879.6,1082.4 1880.9,1083.8 1882.1,1083.9 1883.4,1083.0 1884.6,1082.8 1885.9,1082.2 1887.1,1083.8 1888.4,1083.0 1889.6,1081.4 1890.8,1081.8 1892.1,1082.2 1893.3,1083.9 1894.5,1083.6 1895.8,1081.8 1897.0,1083.7" fill="none" stroke="#F03C3F" stroke-width="11.5" stroke-linejoin="round"/>
<path d="M146.0,1225.5 146.6,1226.1 147.2,1222.2 147.8,1221.8 148.4,1219.7 148.9,1219.9 149.5,1218.7 149.9,1216.1 150.4,1214.6 150.8,1214.7 151.2,1213.2 151.7,1212.9 152.1,1212.6 152.5,1210.2 153.0,1209.6 153.5,1207.6 154.0,1205.5 154.6,1205.7 155.2,1205.2 155.7,1202.7 156.3,1202.9 156.8,1201.4 157.3,1198.8 157.6,1197.8 157.9,1197.3 158.1,1196.4 158.4,1194.6 158.6,1194.2 158.8,1192.0 159.1,1191.6 159.3,1191.3 159.5,1190.3 159.7,1188.2 159.9,1188.1 160.2,1184.7 160.4,1185.9 160.6,1184.0 160.8,1181.7 161.1,1179.1 161.3,1179.3 161.5,1180.8 161.8,1176.5 162.1,1174.6 162.3,1174.0 162.6,1173.4 162.9,1173.2 163.2,1170.2 163.5,1170.7 163.8,1168.6 164.1,1167.3 164.4,1166.9 164.7,1165.7 165.0,1164.3 165.3,1163.8 165.6,1161.6 165.9,1160.3 166.2,1160.1 166.5,1157.3 166.8,1155.5 167.1,1155.7 167.4,1156.5 167.7,1153.5 168.1,1153.0 168.4,1150.7 168.7,1150.5 169.0,1148.8 169.3,1146.0 169.6,1143.6 170.0,1145.5 170.3,1144.2 170.6,1142.0 170.9,1141.0 171.2,1139.7 171.5,1137.5 171.8,1137.3 172.2,1136.8 172.7,1135.1 173.1,1133.6 173.6,1132.8 174.0,1131.8 174.5,1131.0 175.3,1127.3 176.0,1129.9 176.9,1127.6 177.9,1129.5 179.0,1132.1 180.0,1131.7 180.5,1132.5 181.0,1130.9 181.4,1135.2 181.8,1135.0 182.3,1136.6 182.7,1138.0 183.0,1138.9 183.4,1140.1 183.8,1143.1 184.1,1143.5 184.3,1145.1 184.5,1144.4 184.7,1145.1 184.9,1148.3 185.1,1148.0 185.2,1151.2 185.4,1152.8 185.5,1154.4 185.6,1154.5 185.7,1155.8 185.9,1158.6 186.0,1158.1 186.1,1158.9 186.3,1160.7 186.4,1162.1 186.6,1162.3 186.7,1165.5 186.9,1165.5 187.1,1166.6 187.3,1166.9 187.5,1169.6 187.7,1171.4 187.9,1172.2 188.1,1174.7 188.3,1175.2 188.5,1178.4 188.7,1177.6 188.9,1179.7 189.1,1179.2 189.4,1181.1 189.6,1181.8 189.8,1185.5 190.1,1185.3 190.3,1184.9 190.6,1186.9 190.8,1187.4 191.0,1189.2 191.3,1189.8 191.5,1192.1 191.8,1192.4 192.0,1195.0 192.3,1195.3 192.5,1195.9 192.8,1198.3 193.0,1200.0 193.3,1199.9 193.5,1201.3 193.8,1203.7 194.1,1202.7 194.4,1205.5 194.7,1205.6 195.0,1207.1 195.3,1208.4 195.6,1208.2 195.9,1209.4 196.2,1211.0 196.6,1212.5 196.9,1213.2 197.2,1216.7 197.6,1216.7 197.9,1217.5 198.3,1218.7 198.7,1220.5 199.0,1222.8 199.4,1222.7 199.8,1223.7 200.2,1225.4 200.6,1225.4 201.0,1228.6 201.4,1229.1 201.8,1230.1 202.2,1230.9 202.7,1232.8 203.1,1233.3 203.7,1235.0 204.3,1233.6 204.9,1237.7 205.5,1237.0 206.1,1238.0 206.7,1241.5 207.3,1240.3 208.0,1238.9 208.7,1242.9 209.3,1243.5 210.0,1244.3 210.7,1246.8 211.3,1247.4 212.0,1245.8 212.7,1249.3 213.3,1251.0 214.0,1250.2 214.8,1249.9 215.5,1250.6 216.4,1253.0 217.2,1253.8 218.2,1254.5 219.0,1256.0 219.9,1258.0 220.9,1257.9 221.8,1258.9 222.8,1258.7 223.9,1260.7 225.0,1259.7 226.1,1260.9 227.2,1260.9 228.3,1261.7 229.4,1263.1 230.5,1263.6 231.7,1262.4 232.8,1265.8 233.9,1265.0 235.0,1265.2 236.2,1265.5 237.3,1265.0 238.5,1265.4 239.6,1266.0 240.7,1266.3 241.9,1266.6 243.1,1265.7 244.2,1266.3 245.4,1266.0 246.6,1266.5 247.9,1268.1 249.1,1268.2 250.4,1267.0 251.7,1267.3 252.8,1267.3 253.9,1266.3 255.0,1268.6 256.2,1267.9 257.3,1268.8 258.5,1265.5 259.7,1266.7 260.9,1267.9 262.1,1267.0 263.3,1265.6 264.5,1266.2 265.8,1266.3 267.0,1265.4 268.2,1266.1 269.5,1266.6 270.7,1263.0 272.0,1266.4 273.2,1266.1 274.4,1265.0 275.7,1264.7 276.9,1264.0 278.1,1264.4 279.3,1266.0 280.5,1265.2 281.8,1264.9 283.0,1263.6 284.2,1263.8 285.4,1265.0 286.7,1264.8 287.9,1263.2 289.1,1262.9 290.4,1262.6 291.6,1263.4 292.8,1262.6 294.1,1263.6 295.3,1262.5 296.5,1260.2 297.8,1260.1 299.0,1261.5 300.2,1262.7 301.4,1261.8 302.7,1261.6 303.9,1261.7 305.1,1260.1 306.4,1261.3 307.6,1260.3 308.8,1262.0 310.0,1259.2 311.3,1261.2 312.5,1259.9 313.7,1260.6 314.9,1260.0 316.1,1260.8 317.4,1259.5 318.6,1260.0 319.8,1258.8 321.0,1258.2 322.3,1260.1 323.5,1260.0 324.7,1257.3 325.9,1257.5 327.1,1257.5 328.4,1257.3 329.6,1258.7 330.8,1258.8 332.0,1255.5 333.3,1256.7 334.5,1256.5 335.8,1256.0 337.0,1255.4 338.3,1255.1 339.5,1254.9 340.8,1255.0 342.0,1255.7 343.3,1254.6 344.5,1253.0 345.8,1252.8 347.0,1253.7 348.2,1253.1 349.5,1253.1 350.7,1252.4 351.9,1253.5 353.1,1251.6 354.3,1251.0 355.4,1251.8 356.6,1250.9 357.7,1250.6 359.0,1249.3 360.3,1248.1 361.5,1249.5 362.8,1247.9 364.1,1249.9 365.3,1249.7 366.5,1247.7 367.7,1246.8 368.9,1247.5 370.1,1248.2 371.3,1246.0 372.5,1245.1 373.6,1247.0 374.7,1243.3 375.8,1244.7 376.9,1243.2 377.9,1244.1 379.0,1243.2 380.1,1241.6 381.1,1241.1 382.1,1240.5 383.0,1238.3 384.0,1236.3 384.9,1237.8 385.8,1234.9 386.8,1235.7 387.7,1234.5 388.6,1235.3 389.5,1235.3 390.4,1234.1 391.4,1233.3 392.4,1231.7 393.3,1231.6 394.3,1229.7 395.2,1229.9 396.2,1227.2 397.1,1227.7 398.1,1227.1 399.1,1226.6 400.0,1226.0 401.0,1224.9 401.9,1223.6 402.9,1223.4 403.8,1223.0 404.8,1220.7 405.8,1220.7 406.7,1220.9 407.7,1218.0 408.7,1219.2 409.7,1215.3 410.7,1217.3 411.7,1216.6 412.7,1215.8 413.6,1214.5 414.6,1214.4 415.5,1214.2 416.5,1212.0 417.4,1212.4 418.3,1211.1 419.3,1209.3 420.2,1207.8 421.1,1206.1 422.0,1207.1 422.9,1206.1 423.8,1205.4 424.7,1204.6 425.6,1203.2 426.5,1200.5 427.3,1200.6 428.2,1201.1 429.1,1199.2 430.1,1199.5 431.0,1200.0 432.0,1202.2 433.0,1203.1 434.0,1202.5 435.0,1204.2 435.9,1203.6 436.8,1206.1 437.7,1207.2 438.5,1208.2 439.2,1208.5 439.9,1210.9 440.5,1209.7 441.1,1212.0 441.7,1214.0 442.2,1214.5 442.8,1215.4 443.3,1218.1 443.9,1218.0 444.5,1219.5 445.2,1220.3 445.8,1223.3 446.4,1222.6 447.1,1221.6 447.7,1225.2 448.4,1227.7 449.1,1228.3 449.7,1227.5 450.4,1228.1 451.1,1230.8 451.8,1230.5 452.5,1231.6 453.3,1232.8 454.0,1234.4 454.7,1235.3 455.4,1236.0 456.1,1236.7 456.8,1236.7 457.6,1237.9 458.3,1240.9 459.0,1242.4 459.7,1242.0 460.5,1243.2 461.3,1245.8 462.0,1245.2 462.9,1245.4 463.7,1246.0 464.5,1246.2 465.4,1248.2 466.3,1248.9 467.3,1250.3 468.3,1252.2 469.3,1250.4 470.3,1251.5 471.4,1252.4 472.4,1253.2 473.5,1255.2 474.6,1254.6 475.7,1255.6 476.7,1254.8 477.8,1256.3 478.9,1255.9 480.1,1258.0 481.3,1256.8 482.5,1258.3 483.7,1259.2 484.9,1260.5 486.1,1259.3 487.3,1260.5 488.5,1260.4 489.8,1260.8 491.1,1261.9 492.4,1260.8 493.6,1260.6 494.8,1261.5 496.0,1261.4 497.3,1261.4 498.6,1261.8 499.8,1261.3 501.1,1262.0 502.4,1263.0 503.7,1261.4 505.0,1259.9 506.3,1262.3 507.5,1261.9 508.8,1262.4 510.0,1262.2 511.3,1261.2 512.5,1262.4 513.7,1262.9 514.8,1262.9 516.0,1262.2 517.2,1264.4 518.3,1263.7 519.5,1261.4 520.8,1260.3 522.1,1263.6 523.5,1261.3 524.9,1261.5 525.9,1262.8 526.9,1262.7 528.0,1263.2 529.1,1263.9 530.2,1264.1 531.4,1265.0 532.6,1262.8 533.7,1262.7 535.0,1263.2 536.2,1264.0 537.5,1263.7 538.7,1262.9 540.0,1262.7 541.3,1265.4 542.6,1263.4 543.9,1262.1 545.2,1263.4 546.5,1261.5 547.8,1262.2 549.1,1264.4 550.4,1262.6 551.7,1264.0 553.0,1263.5 554.3,1262.3 555.5,1263.7 556.8,1265.5 558.0,1263.0 559.2,1265.4 560.5,1264.1 561.7,1262.8 562.9,1263.6 564.2,1262.5 565.4,1264.7 566.7,1263.0 568.0,1263.9 569.2,1264.3 570.5,1263.6 571.7,1264.3 573.0,1264.3 574.2,1265.2 575.5,1264.5 576.7,1263.8 578.0,1263.9 579.2,1265.1 580.4,1262.6 581.6,1264.0 582.9,1263.7 584.1,1264.1 585.3,1263.3 586.4,1266.5 587.6,1264.3 588.8,1262.7 590.0,1265.6 591.1,1263.8 592.4,1263.9 593.8,1263.4 595.1,1264.1 596.4,1264.8 597.7,1265.4 599.0,1263.9 600.3,1264.8 601.6,1263.8 602.8,1264.2 604.1,1263.9 605.3,1264.2 606.6,1264.0 607.8,1263.8 609.0,1264.5 610.2,1264.2 611.4,1263.5 612.6,1263.4 613.7,1261.4 614.9,1263.2 616.0,1263.0 617.4,1262.6 618.8,1262.7 620.1,1262.3 621.4,1262.2 622.8,1261.7 624.0,1261.1 625.3,1263.2 626.6,1263.2 627.8,1262.5 629.0,1262.2 630.2,1261.2 631.4,1261.8 632.6,1261.3 633.9,1261.1 635.3,1261.0 636.6,1261.6 637.9,1261.4 639.2,1260.4 640.4,1258.8 641.6,1258.8 642.8,1259.1 643.9,1258.4 645.0,1256.1 646.1,1255.4 647.1,1256.5 648.1,1255.2 649.1,1255.0 650.0,1254.3 650.8,1252.3 651.7,1251.7 652.5,1249.2 653.3,1249.1 653.9,1248.1 654.5,1246.6 655.0,1246.0 655.6,1243.7 656.1,1242.9 656.5,1242.7 657.0,1241.8 657.5,1240.5 657.9,1238.5 658.4,1237.9 658.9,1237.1 659.4,1236.0 660.0,1235.1 660.5,1232.4 661.0,1232.4 661.6,1231.8 662.1,1230.1 662.7,1229.5 663.3,1226.6 663.8,1226.2 664.4,1225.6 665.0,1225.3 665.6,1222.7 666.1,1221.1 666.7,1218.9 667.3,1220.8 667.9,1218.3 668.4,1217.9 669.0,1217.8 669.6,1214.2 670.2,1215.4 670.8,1212.9 671.4,1211.3 672.0,1208.4 672.6,1210.4 673.2,1208.6 673.8,1206.3 674.4,1206.3 675.0,1204.5 675.6,1203.3 676.1,1202.9 676.7,1200.9 677.3,1200.9 678.1,1201.0 678.9,1197.2 679.6,1200.1 680.4,1196.5 681.2,1195.3 682.1,1194.0 683.1,1194.2 684.3,1193.9 685.7,1191.3 687.1,1193.1 688.6,1191.4 690.1,1192.7 691.4,1193.8 692.8,1193.4 694.3,1192.5 695.6,1192.3 696.9,1192.0 698.0,1190.9 698.5,1190.1 699.0,1189.5 699.4,1187.7 699.8,1187.6 700.1,1185.9 700.3,1184.0 700.6,1183.2 700.8,1181.8 701.0,1178.3 701.2,1179.2 701.5,1177.8 701.7,1175.7 702.0,1174.4 702.3,1174.9 702.8,1172.1 703.3,1170.7 703.8,1168.1 704.3,1166.2 704.8,1166.4 705.3,1165.5 705.8,1164.5 706.3,1163.9 706.8,1165.3 707.4,1165.4 707.9,1166.5 708.4,1168.5 709.0,1169.6 709.5,1169.9 709.9,1172.6 710.3,1173.8 710.5,1177.6 710.7,1177.2 710.9,1177.1 711.0,1178.5 711.2,1179.7 711.3,1180.6 711.4,1182.2 711.5,1183.8 711.6,1185.1 711.6,1186.4 711.7,1189.0 711.8,1188.6 711.9,1191.1 712.0,1190.9 712.1,1191.4 712.2,1195.2 712.3,1195.7 712.5,1197.2 712.6,1198.5 712.7,1197.2 712.8,1200.6 713.0,1201.8 713.1,1202.7 713.3,1203.9 713.4,1205.2 713.6,1207.4 713.9,1205.3 714.2,1209.8 714.5,1209.9 715.1,1212.5 715.7,1213.9 716.4,1213.3 717.1,1215.9 717.9,1216.0 718.7,1216.0 719.3,1219.0 719.9,1218.6 720.5,1220.3 721.1,1221.0 721.7,1222.5 722.4,1222.0 723.1,1224.4 723.8,1224.3 724.5,1227.2 725.3,1228.2 726.1,1227.8 727.0,1228.3 728.0,1228.6 729.0,1231.6 730.1,1232.2 731.3,1230.4 732.5,1233.0 733.7,1232.6 734.9,1234.1 736.1,1233.8 737.2,1235.2 738.3,1234.6 739.4,1235.4 740.6,1235.7 741.8,1236.3 743.0,1237.4 744.1,1237.8 745.3,1238.4 746.4,1237.9 747.7,1238.2 748.8,1240.3 749.9,1237.5 751.1,1237.4 752.3,1236.6 753.5,1237.1 754.7,1237.3 755.9,1234.7 757.1,1235.4 758.2,1233.3 759.2,1232.0 760.1,1233.8 760.9,1231.3 761.7,1231.4 762.4,1230.3 763.1,1229.5 763.7,1229.3 764.3,1226.6 764.8,1225.8 765.4,1223.8 765.8,1224.1 766.3,1222.0 766.8,1220.1 767.2,1219.5 767.5,1219.6 767.8,1218.0 768.1,1215.6 768.4,1214.7 768.7,1212.7 768.9,1211.0 769.2,1209.2 769.4,1209.7 769.6,1207.6 769.8,1208.2 770.0,1206.1 770.2,1203.7 770.5,1203.4 770.7,1202.5 770.9,1200.7 771.2,1199.5 771.4,1199.6 771.6,1197.9 771.9,1196.6 772.1,1194.8 772.3,1192.9 772.5,1191.8 772.8,1190.4 773.1,1189.5 773.5,1189.3 774.2,1186.2 775.0,1185.5 775.9,1182.5 776.7,1184.3 777.4,1184.7 778.0,1186.3 778.7,1186.9 779.3,1188.5 779.8,1189.3 780.1,1189.6 780.3,1191.9 780.5,1193.7 780.7,1194.2 780.9,1196.0 781.1,1195.9 781.2,1196.4 781.4,1198.7 781.5,1199.5 781.7,1202.4 781.8,1204.4 782.0,1204.5 782.1,1206.6 782.3,1208.1 782.5,1207.0 782.7,1209.1 782.9,1210.1 783.0,1212.7 783.2,1213.1 783.3,1213.7 783.5,1215.8 783.6,1216.4 783.8,1218.2 784.0,1219.0 784.2,1220.3 784.5,1222.2 784.8,1220.6 785.1,1224.7 785.5,1225.1 786.0,1226.1 786.6,1226.6 787.2,1229.3 787.9,1228.2 788.6,1229.2 789.4,1232.2 790.2,1232.4 791.1,1233.9 792.0,1234.7 792.9,1233.7 793.9,1234.1 795.0,1237.7 796.1,1234.5 797.2,1237.1 798.4,1237.2 799.7,1236.7 800.9,1238.4 802.2,1238.5 803.5,1238.6 804.5,1238.3 805.6,1238.1 806.7,1240.0 807.8,1239.5 809.0,1239.9 810.1,1242.2 811.3,1242.0 812.5,1241.3 813.7,1243.4 815.0,1242.7 816.2,1242.9 817.4,1243.8 818.6,1243.5 819.9,1243.1 821.1,1243.9 822.3,1244.4 823.5,1244.7 824.7,1245.3 825.9,1245.8 827.0,1246.8 828.2,1244.6 829.4,1247.9 830.5,1249.0 831.7,1247.6 832.9,1247.3 834.1,1248.5 835.3,1248.0 836.5,1248.0 837.7,1248.5 838.9,1248.1 840.1,1247.3 841.4,1248.8 842.6,1249.2 843.9,1250.4 845.0,1251.2 846.2,1249.9 847.4,1252.0 848.6,1251.0 849.7,1250.1 851.0,1253.0 852.2,1251.3 853.4,1251.0 854.6,1251.4 855.9,1253.1 857.1,1253.6 858.3,1252.4 859.6,1251.6 860.8,1252.0 862.1,1254.1 863.3,1253.3 864.6,1254.6 865.8,1253.7 867.1,1253.0 868.3,1256.0 869.6,1255.2 870.8,1254.9 872.0,1254.3 873.2,1256.1 874.5,1255.6 875.7,1256.2 876.9,1254.3 878.1,1255.0 879.3,1256.3 880.6,1256.5 881.8,1255.3 883.0,1255.1 884.2,1255.7 885.5,1254.5 886.7,1255.6 887.9,1254.4 889.1,1254.7 890.4,1254.6 891.6,1255.6 892.8,1254.4 894.0,1254.4 895.3,1256.0 896.5,1255.3 897.7,1255.0 898.9,1254.4 900.2,1254.9 901.4,1254.0 902.6,1255.0 903.8,1253.4 905.0,1252.4 906.3,1253.2 907.5,1253.5 908.7,1253.4 909.9,1252.8 911.1,1252.7 912.4,1251.7 913.6,1252.6 914.8,1251.2 916.0,1252.1 917.3,1252.3 918.5,1250.9 919.7,1250.8 920.9,1250.9 922.1,1251.1 923.4,1252.9 924.6,1250.4 925.8,1250.0 927.0,1250.3 928.3,1251.3 929.5,1250.8 930.7,1249.3 932.0,1249.2 933.2,1248.8 934.4,1248.1 935.6,1248.9 936.9,1249.2 938.1,1248.6 939.3,1250.3 940.5,1251.7 941.8,1249.1 943.0,1249.2 944.2,1249.9 945.5,1250.4 946.7,1249.2 947.9,1250.2 949.1,1247.6 950.4,1250.9 951.6,1248.9 952.8,1249.2 954.1,1250.2 955.4,1248.4 956.7,1250.3 958.0,1248.9 959.3,1247.5 960.6,1250.0 962.0,1248.4 963.3,1248.3 964.6,1248.9 965.9,1249.8 967.2,1249.1 968.5,1247.9 969.7,1251.5 971.0,1250.8 972.2,1250.0 973.3,1250.6 974.5,1250.6 975.5,1250.1 976.6,1250.8 977.6,1248.7 978.5,1249.7 979.9,1250.1 981.3,1250.0 982.5,1248.8 983.7,1249.2 984.8,1249.2 985.9,1248.6 987.0,1247.7 988.0,1247.5 989.2,1247.8 990.4,1245.2 991.6,1245.0 992.6,1244.2 993.7,1244.2 994.7,1244.4 995.5,1243.7 996.3,1245.3 997.1,1245.9 997.8,1246.7 998.5,1248.9 999.2,1248.7 1000.0,1249.9 1000.8,1249.3 1001.6,1254.1 1002.4,1252.4 1003.2,1254.1 1004.2,1254.5 1005.4,1254.3 1006.2,1256.2 1007.2,1255.8 1008.2,1256.0 1009.3,1257.3 1010.4,1257.9 1011.6,1257.2 1012.9,1257.4 1014.2,1258.9 1015.5,1257.8 1016.8,1258.1 1018.1,1259.4 1019.5,1258.4 1020.8,1260.6 1022.0,1260.1 1023.3,1261.6 1024.5,1261.8 1025.6,1262.0 1026.9,1261.8 1028.1,1261.6 1029.3,1261.3 1030.4,1260.8 1031.5,1261.9 1032.7,1263.1 1033.8,1259.9 1035.0,1261.2 1036.1,1260.9 1037.4,1263.3 1038.6,1264.1 1040.0,1262.7 1041.0,1262.7 1042.1,1263.0 1043.2,1263.5 1044.4,1264.4 1045.5,1261.8 1046.7,1264.4 1047.9,1263.7 1049.2,1264.7 1050.4,1263.2 1051.7,1264.2 1052.9,1265.8 1054.2,1266.0 1055.5,1265.6 1056.8,1264.2 1058.0,1267.2 1059.3,1265.9 1060.6,1265.6 1061.9,1265.5 1063.2,1266.6 1064.4,1266.2 1065.7,1266.2 1066.9,1266.6 1068.1,1268.3 1069.3,1265.4 1070.6,1266.8 1071.8,1266.9 1073.0,1266.6 1074.3,1267.1 1075.5,1267.0 1076.7,1267.6 1077.9,1267.2 1079.2,1267.5 1080.4,1267.0 1081.6,1266.4 1082.9,1267.2 1084.1,1266.8 1085.3,1266.9 1086.5,1267.7 1087.8,1266.7 1089.0,1266.3 1090.2,1267.6 1091.4,1267.5 1092.7,1266.3 1093.9,1268.9 1095.1,1267.1 1096.3,1266.5 1097.5,1266.8 1098.7,1268.0 1099.9,1268.0 1101.1,1267.7 1102.3,1266.4 1103.5,1268.2 1104.6,1268.3 1105.8,1268.1 1107.0,1267.3 1108.2,1268.8 1109.4,1267.9 1110.6,1270.7 1111.8,1269.6 1113.1,1271.3 1114.3,1269.7 1115.6,1268.9 1116.9,1268.7 1118.1,1267.6 1119.5,1270.1 1120.8,1270.3 1121.9,1269.9 1123.0,1267.6 1124.2,1270.1 1125.3,1270.1 1126.5,1270.3 1127.7,1269.8 1128.9,1267.9 1130.1,1271.6 1131.3,1271.5 1132.6,1270.6 1133.8,1270.5 1135.0,1271.0 1136.3,1269.6 1137.6,1271.9 1138.8,1270.8 1140.1,1269.5 1141.4,1269.6 1142.6,1269.3 1143.9,1269.8 1145.2,1269.8 1146.4,1270.4 1147.7,1270.0 1149.0,1269.8 1150.2,1269.7 1151.5,1269.5 1152.7,1269.8 1154.0,1269.2 1155.2,1268.5 1156.4,1270.4 1157.6,1271.1 1158.8,1269.6 1160.0,1270.7 1161.2,1268.3 1162.5,1270.4 1163.7,1271.2 1165.0,1267.1 1166.2,1269.1 1167.5,1270.1 1168.8,1270.4 1170.0,1269.3 1171.3,1269.8 1172.5,1270.1 1173.8,1269.4 1175.0,1267.9 1176.3,1267.4 1177.5,1268.3 1178.7,1269.9 1179.9,1269.3 1181.2,1268.6 1182.4,1269.3 1183.6,1270.4 1184.7,1268.9 1185.9,1269.4 1187.1,1269.1 1188.2,1268.1 1189.4,1268.2 1190.5,1269.4 1191.6,1267.2 1192.7,1267.8 1193.7,1268.0 1194.8,1268.2 1196.2,1267.7 1197.6,1268.2 1198.9,1266.7 1200.3,1267.2 1201.6,1266.9 1202.9,1269.2 1204.1,1267.4 1205.4,1267.8 1206.6,1268.5 1207.9,1268.3 1209.1,1268.6 1210.3,1267.5 1211.5,1266.9 1212.6,1268.1 1213.8,1267.1 1215.0,1266.6 1216.2,1268.3 1217.5,1267.3 1218.7,1266.5 1219.9,1265.9 1221.2,1266.2 1222.4,1265.0 1223.5,1265.0 1224.7,1263.2 1225.8,1261.8 1227.0,1261.7 1228.1,1262.1 1229.1,1261.4 1230.2,1262.1 1231.2,1259.9 1232.3,1258.6 1233.4,1259.8 1234.4,1257.9 1235.4,1257.6 1236.3,1257.5 1237.3,1256.3 1238.2,1252.4 1239.1,1253.8 1240.1,1253.9 1241.0,1251.6 1242.0,1250.6 1242.8,1249.4 1243.6,1249.4 1244.4,1249.3 1245.1,1246.5 1245.9,1245.5 1246.7,1247.8 1247.5,1245.1 1248.2,1243.1 1249.0,1241.4 1249.9,1240.5 1250.7,1239.8 1251.6,1238.2 1252.5,1239.0 1253.4,1236.8 1254.4,1237.0 1255.4,1236.9 1256.5,1234.8 1257.6,1234.5 1258.9,1234.3 1260.1,1235.7 1261.4,1234.2 1262.8,1234.2 1264.1,1235.5 1265.5,1234.6 1266.8,1233.7 1268.2,1233.1 1269.5,1234.2 1270.8,1234.4 1272.1,1233.9 1273.3,1232.8 1274.5,1235.6 1275.6,1236.9 1276.7,1236.2 1277.7,1238.5 1278.7,1235.0 1279.6,1236.8 1280.5,1237.7 1281.4,1240.1 1282.2,1239.7 1283.1,1241.4 1283.9,1241.7 1284.8,1245.0 1285.6,1243.8 1286.4,1245.8 1287.3,1245.6 1288.2,1247.9 1289.1,1248.1 1290.0,1249.2 1291.0,1249.4 1291.9,1250.4 1292.9,1251.1 1293.8,1252.5 1294.8,1253.2 1295.7,1253.2 1296.7,1254.9 1297.6,1256.0 1298.6,1257.3 1299.6,1258.2 1300.6,1258.1 1301.5,1257.4 1302.5,1260.4 1303.5,1260.5 1304.6,1262.5 1305.6,1264.1 1306.7,1264.6 1307.7,1261.6 1308.8,1264.2 1309.8,1264.0 1310.9,1265.4 1312.0,1264.0 1313.1,1266.2 1314.3,1266.7 1315.6,1266.2 1316.9,1267.7 1317.9,1267.2 1319.0,1269.1 1320.1,1267.6 1321.2,1269.3 1322.4,1267.7 1323.6,1268.7 1324.9,1266.7 1326.1,1269.6 1327.4,1269.4 1328.7,1268.5 1330.0,1270.5 1331.3,1269.0 1332.6,1267.5 1333.9,1269.7 1335.2,1269.7 1336.5,1268.0 1337.8,1269.3 1339.1,1268.0 1340.3,1269.6 1341.6,1269.0 1342.7,1270.4 1343.9,1269.4 1345.3,1270.3 1346.6,1268.6 1348.0,1269.7 1349.3,1269.7 1350.7,1269.4 1352.0,1268.3 1353.4,1267.7 1354.7,1267.4 1356.0,1267.8 1357.3,1267.8 1358.5,1269.4 1359.7,1268.4 1360.9,1267.3 1362.0,1266.5 1363.1,1267.4 1364.1,1267.3 1365.5,1265.2 1366.7,1267.6 1367.9,1265.2 1369.0,1264.8 1370.1,1266.9 1371.2,1263.0 1372.3,1263.9 1373.5,1263.5 1374.6,1263.5 1375.6,1264.1 1376.7,1265.0 1377.8,1263.3 1378.9,1263.1 1380.0,1265.7 1381.1,1266.4 1382.2,1269.0 1383.2,1267.4 1384.3,1268.3 1385.4,1268.5 1386.4,1269.6 1387.4,1271.5 1388.3,1272.5 1389.3,1272.0 1390.4,1271.9 1391.4,1274.7 1392.5,1274.5 1393.7,1275.5 1395.0,1277.0 1396.0,1276.6 1397.0,1275.3 1398.1,1275.0 1399.2,1277.0 1400.4,1275.1 1401.6,1277.5 1402.8,1275.9 1404.0,1276.2 1405.3,1275.3 1406.6,1275.1 1407.9,1275.1 1409.2,1276.2 1410.4,1275.7 1411.7,1274.3 1413.0,1274.5 1414.3,1273.7 1415.5,1274.8 1416.7,1274.4 1417.9,1275.2 1419.2,1273.1 1420.5,1271.9 1421.8,1273.4 1423.0,1275.6 1424.3,1273.3 1425.6,1274.8 1426.8,1275.6 1428.1,1274.1 1429.3,1275.4 1430.6,1276.1 1431.8,1273.5 1433.1,1276.0 1434.3,1275.8 1435.6,1276.7 1436.8,1276.0 1438.1,1278.0 1439.4,1276.2 1440.7,1277.6 1442.0,1276.2 1443.3,1276.0 1444.6,1273.9 1445.9,1276.3 1447.2,1274.5 1448.5,1274.6 1449.8,1276.7 1451.1,1274.9 1452.3,1274.1 1453.6,1274.2 1454.8,1274.2 1456.0,1273.9 1457.2,1274.3 1458.3,1276.6 1459.5,1273.3 1460.7,1273.8 1461.8,1272.0 1462.8,1272.7 1463.9,1271.3 1464.9,1270.3 1466.0,1271.7 1467.0,1270.8 1468.1,1269.9 1469.3,1268.6 1470.5,1269.4 1471.8,1269.5 1472.8,1267.8 1473.9,1268.6 1475.0,1268.2 1476.1,1267.9 1477.3,1267.9 1478.4,1266.4 1479.6,1267.8 1480.9,1266.2 1482.1,1266.5 1483.4,1265.7 1484.6,1268.2 1485.9,1267.0 1487.2,1264.4 1488.5,1266.3 1489.8,1266.0 1491.1,1265.8 1492.4,1266.2 1493.7,1263.8 1494.9,1265.3 1496.2,1266.1 1497.5,1265.5 1498.7,1264.9 1499.9,1264.0 1501.1,1264.1 1502.4,1264.2 1503.6,1266.3 1504.8,1263.1 1506.1,1265.5 1507.3,1266.5 1508.5,1264.8 1509.8,1266.1 1511.0,1265.6 1512.2,1267.4 1513.5,1266.9 1514.7,1265.4 1515.9,1266.7 1517.1,1267.8 1518.4,1266.9 1519.6,1267.5 1520.8,1266.2 1522.0,1266.2 1523.2,1268.5 1524.4,1268.2 1525.6,1266.8 1526.8,1266.9 1528.1,1267.4 1529.3,1268.2 1530.5,1268.5 1531.7,1267.0 1532.9,1268.0 1534.1,1267.4 1535.2,1267.3 1536.4,1267.3 1537.6,1268.0 1538.8,1267.8 1540.0,1267.1 1541.2,1268.1 1542.4,1267.9 1543.6,1267.6 1544.9,1268.2 1546.1,1267.2 1547.4,1268.0 1548.7,1267.7 1550.0,1268.7 1551.1,1268.5 1552.2,1269.6 1553.4,1270.3 1554.5,1267.8 1555.7,1269.3 1556.9,1269.8 1558.1,1268.2 1559.3,1267.8 1560.6,1269.3 1561.8,1268.7 1563.0,1269.7 1564.3,1270.1 1565.5,1268.8 1566.8,1270.1 1568.0,1271.4 1569.3,1269.8 1570.6,1269.2 1571.8,1271.6 1573.0,1270.1 1574.3,1269.6 1575.5,1269.1 1576.7,1268.9 1577.9,1272.7 1579.1,1269.1 1580.3,1269.1 1581.5,1268.0 1582.7,1268.9 1583.8,1270.7 1584.9,1272.1 1586.3,1272.3 1587.6,1269.9 1588.9,1271.2 1590.3,1272.5 1591.6,1270.1 1592.9,1271.6 1594.2,1271.4 1595.5,1270.8 1596.7,1272.3 1598.0,1272.4 1599.3,1271.3 1600.5,1269.8 1601.7,1272.4 1602.9,1270.5 1604.2,1270.9 1605.3,1270.9 1606.5,1272.6 1607.7,1272.6 1608.9,1273.9 1610.0,1272.7 1611.3,1271.9 1612.6,1273.2 1613.8,1273.0 1615.0,1275.2 1616.1,1273.6 1617.3,1273.6 1618.4,1274.1 1619.6,1273.0 1620.7,1274.3 1622.0,1274.5 1623.2,1276.4 1624.5,1276.0 1625.9,1274.5 1627.4,1275.2 1628.4,1276.0 1629.3,1275.1 1630.4,1275.7 1631.4,1273.2 1632.5,1274.7 1633.6,1276.1 1634.7,1275.4 1635.8,1276.2 1637.0,1277.1 1638.2,1277.1 1639.4,1275.8 1640.6,1276.3 1641.8,1276.2 1643.0,1277.0 1644.3,1274.7 1645.6,1277.0 1646.8,1275.5 1648.1,1274.4 1649.4,1274.4 1650.7,1276.9 1652.0,1276.5 1653.3,1276.7 1654.6,1275.3 1655.9,1276.5 1657.2,1275.4 1658.5,1275.6 1659.8,1275.5 1661.1,1274.9 1662.4,1275.8 1663.7,1275.4 1664.9,1275.4 1666.2,1276.1 1667.4,1274.6 1668.7,1277.0 1669.9,1274.7 1671.1,1275.6 1672.3,1274.6 1673.5,1276.1 1674.7,1275.3 1676.0,1276.5 1677.2,1275.6 1678.4,1275.6 1679.6,1276.0 1680.8,1276.0 1682.0,1275.6 1683.2,1275.2 1684.4,1275.5 1685.7,1275.3 1686.9,1274.6 1688.1,1274.6 1689.3,1276.8 1690.5,1275.4 1691.7,1277.3 1692.9,1275.1 1694.1,1277.3 1695.3,1275.6 1696.6,1275.7 1697.8,1277.1 1699.0,1275.5 1700.2,1276.4 1701.4,1276.9 1702.6,1275.9 1703.8,1276.1 1705.0,1276.9 1706.2,1275.7 1707.5,1275.6 1708.7,1276.8 1709.9,1275.9 1711.1,1276.9 1712.3,1277.3 1713.5,1275.3 1714.7,1276.5 1715.9,1275.6 1717.2,1276.5 1718.4,1275.7 1719.6,1275.6 1720.8,1275.1 1722.0,1277.0 1723.2,1276.8 1724.4,1276.9 1725.7,1276.2 1726.9,1276.4 1728.1,1276.5 1729.3,1276.9 1730.5,1276.3 1731.7,1276.4 1732.9,1275.5 1734.2,1275.5 1735.4,1276.0 1736.6,1279.2 1737.8,1276.6 1739.0,1277.0 1740.2,1276.4 1741.4,1277.2 1742.7,1277.2 1743.9,1277.4 1745.1,1277.1 1746.3,1278.0 1747.5,1276.3 1748.7,1278.1 1749.9,1278.1 1751.2,1277.9 1752.4,1276.9 1753.6,1277.2 1754.8,1276.1 1756.0,1277.8 1757.2,1278.0 1758.4,1278.6 1759.6,1278.6 1760.9,1277.0 1762.1,1278.4 1763.3,1276.9 1764.5,1276.4 1765.7,1277.9 1766.9,1277.1 1768.1,1277.4 1769.3,1278.1 1770.5,1277.2 1771.8,1276.5 1773.0,1277.9 1774.2,1276.9 1775.4,1277.4 1776.6,1277.3 1777.8,1276.5 1779.0,1277.1 1780.2,1275.9 1781.4,1277.2 1782.7,1278.7 1783.9,1277.7 1785.1,1278.8 1786.3,1277.5 1787.5,1277.5 1788.7,1279.1 1789.9,1278.4 1791.1,1277.5 1792.4,1278.0 1793.6,1277.9 1794.8,1278.5 1796.0,1278.9 1797.2,1276.9 1798.4,1277.7 1799.6,1278.7 1800.8,1277.3 1802.0,1278.2 1803.2,1277.5 1804.4,1279.0 1805.6,1277.9 1806.8,1277.0 1808.0,1279.1 1809.2,1278.5 1810.3,1278.6 1811.5,1278.3 1812.7,1277.0 1813.9,1279.4 1815.1,1276.9 1816.3,1277.5 1817.5,1277.1 1818.6,1278.6 1819.8,1276.6 1821.0,1277.9 1822.2,1274.9 1823.4,1277.8 1824.7,1277.0 1825.9,1277.6 1827.1,1277.0 1828.3,1278.2 1829.6,1276.0 1830.8,1277.6 1832.0,1278.8 1833.3,1276.4 1834.6,1277.6 1835.8,1276.6 1837.1,1276.3 1838.4,1276.2 1839.7,1276.6 1840.8,1276.6 1842.0,1278.0 1843.1,1277.7 1844.3,1279.4 1845.4,1276.9 1846.6,1278.0 1847.8,1278.4 1849.0,1276.8 1850.1,1277.8 1851.3,1278.5 1852.5,1275.3 1853.7,1276.0 1854.9,1277.6 1856.1,1277.4 1857.4,1274.8 1858.6,1277.0 1859.8,1276.4 1861.0,1277.9 1862.3,1278.3 1863.5,1277.2 1864.7,1277.7 1866.0,1278.2 1867.2,1277.4 1868.4,1274.9 1869.7,1278.1 1870.9,1277.6 1872.2,1278.0 1873.4,1277.5 1874.7,1277.4 1875.9,1278.1 1877.2,1277.8 1878.4,1277.0 1879.7,1275.5 1880.9,1279.2 1882.2,1277.5 1883.4,1277.9 1884.7,1277.9 1885.9,1277.6 1887.1,1277.8 1888.4,1278.4 1889.6,1276.9 1890.9,1277.5 1892.1,1277.1 1893.3,1277.6 1894.6,1278.6 1895.8,1276.8 1897.0,1278.6" fill="none" stroke="#4F4F4F" stroke-width="15" stroke-opacity="0.45" stroke-linejoin="round"/>
<path d="M146.0,1225.5 146.6,1226.1 147.2,1222.2 147.8,1221.8 148.4,1219.7 148.9,1219.9 149.5,1218.7 149.9,1216.1 150.4,1214.6 150.8,1214.7 151.2,1213.2 151.7,1212.9 152.1,1212.6 152.5,1210.2 153.0,1209.6 153.5,1207.6 154.0,1205.5 154.6,1205.7 155.2,1205.2 155.7,1202.7 156.3,1202.9 156.8,1201.4 157.3,1198.8 157.6,1197.8 157.9,1197.3 158.1,1196.4 158.4,1194.6 158.6,1194.2 158.8,1192.0 159.1,1191.6 159.3,1191.3 159.5,1190.3 159.7,1188.2 159.9,1188.1 160.2,1184.7 160.4,1185.9 160.6,1184.0 160.8,1181.7 161.1,1179.1 161.3,1179.3 161.5,1180.8 161.8,1176.5 162.1,1174.6 162.3,1174.0 162.6,1173.4 162.9,1173.2 163.2,1170.2 163.5,1170.7 163.8,1168.6 164.1,1167.3 164.4,1166.9 164.7,1165.7 165.0,1164.3 165.3,1163.8 165.6,1161.6 165.9,1160.3 166.2,1160.1 166.5,1157.3 166.8,1155.5 167.1,1155.7 167.4,1156.5 167.7,1153.5 168.1,1153.0 168.4,1150.7 168.7,1150.5 169.0,1148.8 169.3,1146.0 169.6,1143.6 170.0,1145.5 170.3,1144.2 170.6,1142.0 170.9,1141.0 171.2,1139.7 171.5,1137.5 171.8,1137.3 172.2,1136.8 172.7,1135.1 173.1,1133.6 173.6,1132.8 174.0,1131.8 174.5,1131.0 175.3,1127.3 176.0,1129.9 176.9,1127.6 177.9,1129.5 179.0,1132.1 180.0,1131.7 180.5,1132.5 181.0,1130.9 181.4,1135.2 181.8,1135.0 182.3,1136.6 182.7,1138.0 183.0,1138.9 183.4,1140.1 183.8,1143.1 184.1,1143.5 184.3,1145.1 184.5,1144.4 184.7,1145.1 184.9,1148.3 185.1,1148.0 185.2,1151.2 185.4,1152.8 185.5,1154.4 185.6,1154.5 185.7,1155.8 185.9,1158.6 186.0,1158.1 186.1,1158.9 186.3,1160.7 186.4,1162.1 186.6,1162.3 186.7,1165.5 186.9,1165.5 187.1,1166.6 187.3,1166.9 187.5,1169.6 187.7,1171.4 187.9,1172.2 188.1,1174.7 188.3,1175.2 188.5,1178.4 188.7,1177.6 188.9,1179.7 189.1,1179.2 189.4,1181.1 189.6,1181.8 189.8,1185.5 190.1,1185.3 190.3,1184.9 190.6,1186.9 190.8,1187.4 191.0,1189.2 191.3,1189.8 191.5,1192.1 191.8,1192.4 192.0,1195.0 192.3,1195.3 192.5,1195.9 192.8,1198.3 193.0,1200.0 193.3,1199.9 193.5,1201.3 193.8,1203.7 194.1,1202.7 194.4,1205.5 194.7,1205.6 195.0,1207.1 195.3,1208.4 195.6,1208.2 195.9,1209.4 196.2,1211.0 196.6,1212.5 196.9,1213.2 197.2,1216.7 197.6,1216.7 197.9,1217.5 198.3,1218.7 198.7,1220.5 199.0,1222.8 199.4,1222.7 199.8,1223.7 200.2,1225.4 200.6,1225.4 201.0,1228.6 201.4,1229.1 201.8,1230.1 202.2,1230.9 202.7,1232.8 203.1,1233.3 203.7,1235.0 204.3,1233.6 204.9,1237.7 205.5,1237.0 206.1,1238.0 206.7,1241.5 207.3,1240.3 208.0,1238.9 208.7,1242.9 209.3,1243.5 210.0,1244.3 210.7,1246.8 211.3,1247.4 212.0,1245.8 212.7,1249.3 213.3,1251.0 214.0,1250.2 214.8,1249.9 215.5,1250.6 216.4,1253.0 217.2,1253.8 218.2,1254.5 219.0,1256.0 219.9,1258.0 220.9,1257.9 221.8,1258.9 222.8,1258.7 223.9,1260.7 225.0,1259.7 226.1,1260.9 227.2,1260.9 228.3,1261.7 229.4,1263.1 230.5,1263.6 231.7,1262.4 232.8,1265.8 233.9,1265.0 235.0,1265.2 236.2,1265.5 237.3,1265.0 238.5,1265.4 239.6,1266.0 240.7,1266.3 241.9,1266.6 243.1,1265.7 244.2,1266.3 245.4,1266.0 246.6,1266.5 247.9,1268.1 249.1,1268.2 250.4,1267.0 251.7,1267.3 252.8,1267.3 253.9,1266.3 255.0,1268.6 256.2,1267.9 257.3,1268.8 258.5,1265.5 259.7,1266.7 260.9,1267.9 262.1,1267.0 263.3,1265.6 264.5,1266.2 265.8,1266.3 267.0,1265.4 268.2,1266.1 269.5,1266.6 270.7,1263.0 272.0,1266.4 273.2,1266.1 274.4,1265.0 275.7,1264.7 276.9,1264.0 278.1,1264.4 279.3,1266.0 280.5,1265.2 281.8,1264.9 283.0,1263.6 284.2,1263.8 285.4,1265.0 286.7,1264.8 287.9,1263.2 289.1,1262.9 290.4,1262.6 291.6,1263.4 292.8,1262.6 294.1,1263.6 295.3,1262.5 296.5,1260.2 297.8,1260.1 299.0,1261.5 300.2,1262.7 301.4,1261.8 302.7,1261.6 303.9,1261.7 305.1,1260.1 306.4,1261.3 307.6,1260.3 308.8,1262.0 310.0,1259.2 311.3,1261.2 312.5,1259.9 313.7,1260.6 314.9,1260.0 316.1,1260.8 317.4,1259.5 318.6,1260.0 319.8,1258.8 321.0,1258.2 322.3,1260.1 323.5,1260.0 324.7,1257.3 325.9,1257.5 327.1,1257.5 328.4,1257.3 329.6,1258.7 330.8,1258.8 332.0,1255.5 333.3,1256.7 334.5,1256.5 335.8,1256.0 337.0,1255.4 338.3,1255.1 339.5,1254.9 340.8,1255.0 342.0,1255.7 343.3,1254.6 344.5,1253.0 345.8,1252.8 347.0,1253.7 348.2,1253.1 349.5,1253.1 350.7,1252.4 351.9,1253.5 353.1,1251.6 354.3,1251.0 355.4,1251.8 356.6,1250.9 357.7,1250.6 359.0,1249.3 360.3,1248.1 361.5,1249.5 362.8,1247.9 364.1,1249.9 365.3,1249.7 366.5,1247.7 367.7,1246.8 368.9,1247.5 370.1,1248.2 371.3,1246.0 372.5,1245.1 373.6,1247.0 374.7,1243.3 375.8,1244.7 376.9,1243.2 377.9,1244.1 379.0,1243.2 380.1,1241.6 381.1,1241.1 382.1,1240.5 383.0,1238.3 384.0,1236.3 384.9,1237.8 385.8,1234.9 386.8,1235.7 387.7,1234.5 388.6,1235.3 389.5,1235.3 390.4,1234.1 391.4,1233.3 392.4,1231.7 393.3,1231.6 394.3,1229.7 395.2,1229.9 396.2,1227.2 397.1,1227.7 398.1,1227.1 399.1,1226.6 400.0,1226.0 401.0,1224.9 401.9,1223.6 402.9,1223.4 403.8,1223.0 404.8,1220.7 405.8,1220.7 406.7,1220.9 407.7,1218.0 408.7,1219.2 409.7,1215.3 410.7,1217.3 411.7,1216.6 412.7,1215.8 413.6,1214.5 414.6,1214.4 415.5,1214.2 416.5,1212.0 417.4,1212.4 418.3,1211.1 419.3,1209.3 420.2,1207.8 421.1,1206.1 422.0,1207.1 422.9,1206.1 423.8,1205.4 424.7,1204.6 425.6,1203.2 426.5,1200.5 427.3,1200.6 428.2,1201.1 429.1,1199.2 430.1,1199.5 431.0,1200.0 432.0,1202.2 433.0,1203.1 434.0,1202.5 435.0,1204.2 435.9,1203.6 436.8,1206.1 437.7,1207.2 438.5,1208.2 439.2,1208.5 439.9,1210.9 440.5,1209.7 441.1,1212.0 441.7,1214.0 442.2,1214.5 442.8,1215.4 443.3,1218.1 443.9,1218.0 444.5,1219.5 445.2,1220.3 445.8,1223.3 446.4,1222.6 447.1,1221.6 447.7,1225.2 448.4,1227.7 449.1,1228.3 449.7,1227.5 450.4,1228.1 451.1,1230.8 451.8,1230.5 452.5,1231.6 453.3,1232.8 454.0,1234.4 454.7,1235.3 455.4,1236.0 456.1,1236.7 456.8,1236.7 457.6,1237.9 458.3,1240.9 459.0,1242.4 459.7,1242.0 460.5,1243.2 461.3,1245.8 462.0,1245.2 462.9,1245.4 463.7,1246.0 464.5,1246.2 465.4,1248.2 466.3,1248.9 467.3,1250.3 468.3,1252.2 469.3,1250.4 470.3,1251.5 471.4,1252.4 472.4,1253.2 473.5,1255.2 474.6,1254.6 475.7,1255.6 476.7,1254.8 477.8,1256.3 478.9,1255.9 480.1,1258.0 481.3,1256.8 482.5,1258.3 483.7,1259.2 484.9,1260.5 486.1,1259.3 487.3,1260.5 488.5,1260.4 489.8,1260.8 491.1,1261.9 492.4,1260.8 493.6,1260.6 494.8,1261.5 496.0,1261.4 497.3,1261.4 498.6,1261.8 499.8,1261.3 501.1,1262.0 502.4,1263.0 503.7,1261.4 505.0,1259.9 506.3,1262.3 507.5,1261.9 508.8,1262.4 510.0,1262.2 511.3,1261.2 512.5,1262.4 513.7,1262.9 514.8,1262.9 516.0,1262.2 517.2,1264.4 518.3,1263.7 519.5,1261.4 520.8,1260.3 522.1,1263.6 523.5,1261.3 524.9,1261.5 525.9,1262.8 526.9,1262.7 528.0,1263.2 529.1,1263.9 530.2,1264.1 531.4,1265.0 532.6,1262.8 533.7,1262.7 535.0,1263.2 536.2,1264.0 537.5,1263.7 538.7,1262.9 540.0,1262.7 541.3,1265.4 542.6,1263.4 543.9,1262.1 545.2,1263.4 546.5,1261.5 547.8,1262.2 549.1,1264.4 550.4,1262.6 551.7,1264.0 553.0,1263.5 554.3,1262.3 555.5,1263.7 556.8,1265.5 558.0,1263.0 559.2,1265.4 560.5,1264.1 561.7,1262.8 562.9,1263.6 564.2,1262.5 565.4,1264.7 566.7,1263.0 568.0,1263.9 569.2,1264.3 570.5,1263.6 571.7,1264.3 573.0,1264.3 574.2,1265.2 575.5,1264.5 576.7,1263.8 578.0,1263.9 579.2,1265.1 580.4,1262.6 581.6,1264.0 582.9,1263.7 584.1,1264.1 585.3,1263.3 586.4,1266.5 587.6,1264.3 588.8,1262.7 590.0,1265.6 591.1,1263.8 592.4,1263.9 593.8,1263.4 595.1,1264.1 596.4,1264.8 597.7,1265.4 599.0,1263.9 600.3,1264.8 601.6,1263.8 602.8,1264.2 604.1,1263.9 605.3,1264.2 606.6,1264.0 607.8,1263.8 609.0,1264.5 610.2,1264.2 611.4,1263.5 612.6,1263.4 613.7,1261.4 614.9,1263.2 616.0,1263.0 617.4,1262.6 618.8,1262.7 620.1,1262.3 621.4,1262.2 622.8,1261.7 624.0,1261.1 625.3,1263.2 626.6,1263.2 627.8,1262.5 629.0,1262.2 630.2,1261.2 631.4,1261.8 632.6,1261.3 633.9,1261.1 635.3,1261.0 636.6,1261.6 637.9,1261.4 639.2,1260.4 640.4,1258.8 641.6,1258.8 642.8,1259.1 643.9,1258.4 645.0,1256.1 646.1,1255.4 647.1,1256.5 648.1,1255.2 649.1,1255.0 650.0,1254.3 650.8,1252.3 651.7,1251.7 652.5,1249.2 653.3,1249.1 653.9,1248.1 654.5,1246.6 655.0,1246.0 655.6,1243.7 656.1,1242.9 656.5,1242.7 657.0,1241.8 657.5,1240.5 657.9,1238.5 658.4,1237.9 658.9,1237.1 659.4,1236.0 660.0,1235.1 660.5,1232.4 661.0,1232.4 661.6,1231.8 662.1,1230.1 662.7,1229.5 663.3,1226.6 663.8,1226.2 664.4,1225.6 665.0,1225.3 665.6,1222.7 666.1,1221.1 666.7,1218.9 667.3,1220.8 667.9,1218.3 668.4,1217.9 669.0,1217.8 669.6,1214.2 670.2,1215.4 670.8,1212.9 671.4,1211.3 672.0,1208.4 672.6,1210.4 673.2,1208.6 673.8,1206.3 674.4,1206.3 675.0,1204.5 675.6,1203.3 676.1,1202.9 676.7,1200.9 677.3,1200.9 678.1,1201.0 678.9,1197.2 679.6,1200.1 680.4,1196.5 681.2,1195.3 682.1,1194.0 683.1,1194.2 684.3,1193.9 685.7,1191.3 687.1,1193.1 688.6,1191.4 690.1,1192.7 691.4,1193.8 692.8,1193.4 694.3,1192.5 695.6,1192.3 696.9,1192.0 698.0,1190.9 698.5,1190.1 699.0,1189.5 699.4,1187.7 699.8,1187.6 700.1,1185.9 700.3,1184.0 700.6,1183.2 700.8,1181.8 701.0,1178.3 701.2,1179.2 701.5,1177.8 701.7,1175.7 702.0,1174.4 702.3,1174.9 702.8,1172.1 703.3,1170.7 703.8,1168.1 704.3,1166.2 704.8,1166.4 705.3,1165.5 705.8,1164.5 706.3,1163.9 706.8,1165.3 707.4,1165.4 707.9,1166.5 708.4,1168.5 709.0,1169.6 709.5,1169.9 709.9,1172.6 710.3,1173.8 710.5,1177.6 710.7,1177.2 710.9,1177.1 711.0,1178.5 711.2,1179.7 711.3,1180.6 711.4,1182.2 711.5,1183.8 711.6,1185.1 711.6,1186.4 711.7,1189.0 711.8,1188.6 711.9,1191.1 712.0,1190.9 712.1,1191.4 712.2,1195.2 712.3,1195.7 712.5,1197.2 712.6,1198.5 712.7,1197.2 712.8,1200.6 713.0,1201.8 713.1,1202.7 713.3,1203.9 713.4,1205.2 713.6,1207.4 713.9,1205.3 714.2,1209.8 714.5,1209.9 715.1,1212.5 715.7,1213.9 716.4,1213.3 717.1,1215.9 717.9,1216.0 718.7,1216.0 719.3,1219.0 719.9,1218.6 720.5,1220.3 721.1,1221.0 721.7,1222.5 722.4,1222.0 723.1,1224.4 723.8,1224.3 724.5,1227.2 725.3,1228.2 726.1,1227.8 727.0,1228.3 728.0,1228.6 729.0,1231.6 730.1,1232.2 731.3,1230.4 732.5,1233.0 733.7,1232.6 734.9,1234.1 736.1,1233.8 737.2,1235.2 738.3,1234.6 739.4,1235.4 740.6,1235.7 741.8,1236.3 743.0,1237.4 744.1,1237.8 745.3,1238.4 746.4,1237.9 747.7,1238.2 748.8,1240.3 749.9,1237.5 751.1,1237.4 752.3,1236.6 753.5,1237.1 754.7,1237.3 755.9,1234.7 757.1,1235.4 758.2,1233.3 759.2,1232.0 760.1,1233.8 760.9,1231.3 761.7,1231.4 762.4,1230.3 763.1,1229.5 763.7,1229.3 764.3,1226.6 764.8,1225.8 765.4,1223.8 765.8,1224.1 766.3,1222.0 766.8,1220.1 767.2,1219.5 767.5,1219.6 767.8,1218.0 768.1,1215.6 768.4,1214.7 768.7,1212.7 768.9,1211.0 769.2,1209.2 769.4,1209.7 769.6,1207.6 769.8,1208.2 770.0,1206.1 770.2,1203.7 770.5,1203.4 770.7,1202.5 770.9,1200.7 771.2,1199.5 771.4,1199.6 771.6,1197.9 771.9,1196.6 772.1,1194.8 772.3,1192.9 772.5,1191.8 772.8,1190.4 773.1,1189.5 773.5,1189.3 774.2,1186.2 775.0,1185.5 775.9,1182.5 776.7,1184.3 777.4,1184.7 778.0,1186.3 778.7,1186.9 779.3,1188.5 779.8,1189.3 780.1,1189.6 780.3,1191.9 780.5,1193.7 780.7,1194.2 780.9,1196.0 781.1,1195.9 781.2,1196.4 781.4,1198.7 781.5,1199.5 781.7,1202.4 781.8,1204.4 782.0,1204.5 782.1,1206.6 782.3,1208.1 782.5,1207.0 782.7,1209.1 782.9,1210.1 783.0,1212.7 783.2,1213.1 783.3,1213.7 783.5,1215.8 783.6,1216.4 783.8,1218.2 784.0,1219.0 784.2,1220.3 784.5,1222.2 784.8,1220.6 785.1,1224.7 785.5,1225.1 786.0,1226.1 786.6,1226.6 787.2,1229.3 787.9,1228.2 788.6,1229.2 789.4,1232.2 790.2,1232.4 791.1,1233.9 792.0,1234.7 792.9,1233.7 793.9,1234.1 795.0,1237.7 796.1,1234.5 797.2,1237.1 798.4,1237.2 799.7,1236.7 800.9,1238.4 802.2,1238.5 803.5,1238.6 804.5,1238.3 805.6,1238.1 806.7,1240.0 807.8,1239.5 809.0,1239.9 810.1,1242.2 811.3,1242.0 812.5,1241.3 813.7,1243.4 815.0,1242.7 816.2,1242.9 817.4,1243.8 818.6,1243.5 819.9,1243.1 821.1,1243.9 822.3,1244.4 823.5,1244.7 824.7,1245.3 825.9,1245.8 827.0,1246.8 828.2,1244.6 829.4,1247.9 830.5,1249.0 831.7,1247.6 832.9,1247.3 834.1,1248.5 835.3,1248.0 836.5,1248.0 837.7,1248.5 838.9,1248.1 840.1,1247.3 841.4,1248.8 842.6,1249.2 843.9,1250.4 845.0,1251.2 846.2,1249.9 847.4,1252.0 848.6,1251.0 849.7,1250.1 851.0,1253.0 852.2,1251.3 853.4,1251.0 854.6,1251.4 855.9,1253.1 857.1,1253.6 858.3,1252.4 859.6,1251.6 860.8,1252.0 862.1,1254.1 863.3,1253.3 864.6,1254.6 865.8,1253.7 867.1,1253.0 868.3,1256.0 869.6,1255.2 870.8,1254.9 872.0,1254.3 873.2,1256.1 874.5,1255.6 875.7,1256.2 876.9,1254.3 878.1,1255.0 879.3,1256.3 880.6,1256.5 881.8,1255.3 883.0,1255.1 884.2,1255.7 885.5,1254.5 886.7,1255.6 887.9,1254.4 889.1,1254.7 890.4,1254.6 891.6,1255.6 892.8,1254.4 894.0,1254.4 895.3,1256.0 896.5,1255.3 897.7,1255.0 898.9,1254.4 900.2,1254.9 901.4,1254.0 902.6,1255.0 903.8,1253.4 905.0,1252.4 906.3,1253.2 907.5,1253.5 908.7,1253.4 909.9,1252.8 911.1,1252.7 912.4,1251.7 913.6,1252.6 914.8,1251.2 916.0,1252.1 917.3,1252.3 918.5,1250.9 919.7,1250.8 920.9,1250.9 922.1,1251.1 923.4,1252.9 924.6,1250.4 925.8,1250.0 927.0,1250.3 928.3,1251.3 929.5,1250.8 930.7,1249.3 932.0,1249.2 933.2,1248.8 934.4,1248.1 935.6,1248.9 936.9,1249.2 938.1,1248.6 939.3,1250.3 940.5,1251.7 941.8,1249.1 943.0,1249.2 944.2,1249.9 945.5,1250.4 946.7,1249.2 947.9,1250.2 949.1,1247.6 950.4,1250.9 951.6,1248.9 952.8,1249.2 954.1,1250.2 955.4,1248.4 956.7,1250.3 958.0,1248.9 959.3,1247.5 960.6,1250.0 962.0,1248.4 963.3,1248.3 964.6,1248.9 965.9,1249.8 967.2,1249.1 968.5,1247.9 969.7,1251.5 971.0,1250.8 972.2,1250.0 973.3,1250.6 974.5,1250.6 975.5,1250.1 976.6,1250.8 977.6,1248.7 978.5,1249.7 979.9,1250.1 981.3,1250.0 982.5,1248.8 983.7,1249.2 984.8,1249.2 985.9,1248.6 987.0,1247.7 988.0,1247.5 989.2,1247.8 990.4,1245.2 991.6,1245.0 992.6,1244.2 993.7,1244.2 994.7,1244.4 995.5,1243.7 996.3,1245.3 997.1,1245.9 997.8,1246.7 998.5,1248.9 999.2,1248.7 1000.0,1249.9 1000.8,1249.3 1001.6,1254.1 1002.4,1252.4 1003.2,1254.1 1004.2,1254.5 1005.4,1254.3 1006.2,1256.2 1007.2,1255.8 1008.2,1256.0 1009.3,1257.3 1010.4,1257.9 1011.6,1257.2 1012.9,1257.4 1014.2,1258.9 1015.5,1257.8 1016.8,1258.1 1018.1,1259.4 1019.5,1258.4 1020.8,1260.6 1022.0,1260.1 1023.3,1261.6 1024.5,1261.8 1025.6,1262.0 1026.9,1261.8 1028.1,1261.6 1029.3,1261.3 1030.4,1260.8 1031.5,1261.9 1032.7,1263.1 1033.8,1259.9 1035.0,1261.2 1036.1,1260.9 1037.4,1263.3 1038.6,1264.1 1040.0,1262.7 1041.0,1262.7 1042.1,1263.0 1043.2,1263.5 1044.4,1264.4 1045.5,1261.8 1046.7,1264.4 1047.9,1263.7 1049.2,1264.7 1050.4,1263.2 1051.7,1264.2 1052.9,1265.8 1054.2,1266.0 1055.5,1265.6 1056.8,1264.2 1058.0,1267.2 1059.3,1265.9 1060.6,1265.6 1061.9,1265.5 1063.2,1266.6 1064.4,1266.2 1065.7,1266.2 1066.9,1266.6 1068.1,1268.3 1069.3,1265.4 1070.6,1266.8 1071.8,1266.9 1073.0,1266.6 1074.3,1267.1 1075.5,1267.0 1076.7,1267.6 1077.9,1267.2 1079.2,1267.5 1080.4,1267.0 1081.6,1266.4 1082.9,1267.2 1084.1,1266.8 1085.3,1266.9 1086.5,1267.7 1087.8,1266.7 1089.0,1266.3 1090.2,1267.6 1091.4,1267.5 1092.7,1266.3 1093.9,1268.9 1095.1,1267.1 1096.3,1266.5 1097.5,1266.8 1098.7,1268.0 1099.9,1268.0 1101.1,1267.7 1102.3,1266.4 1103.5,1268.2 1104.6,1268.3 1105.8,1268.1 1107.0,1267.3 1108.2,1268.8 1109.4,1267.9 1110.6,1270.7 1111.8,1269.6 1113.1,1271.3 1114.3,1269.7 1115.6,1268.9 1116.9,1268.7 1118.1,1267.6 1119.5,1270.1 1120.8,1270.3 1121.9,1269.9 1123.0,1267.6 1124.2,1270.1 1125.3,1270.1 1126.5,1270.3 1127.7,1269.8 1128.9,1267.9 1130.1,1271.6 1131.3,1271.5 1132.6,1270.6 1133.8,1270.5 1135.0,1271.0 1136.3,1269.6 1137.6,1271.9 1138.8,1270.8 1140.1,1269.5 1141.4,1269.6 1142.6,1269.3 1143.9,1269.8 1145.2,1269.8 1146.4,1270.4 1147.7,1270.0 1149.0,1269.8 1150.2,1269.7 1151.5,1269.5 1152.7,1269.8 1154.0,1269.2 1155.2,1268.5 1156.4,1270.4 1157.6,1271.1 1158.8,1269.6 1160.0,1270.7 1161.2,1268.3 1162.5,1270.4 1163.7,1271.2 1165.0,1267.1 1166.2,1269.1 1167.5,1270.1 1168.8,1270.4 1170.0,1269.3 1171.3,1269.8 1172.5,1270.1 1173.8,1269.4 1175.0,1267.9 1176.3,1267.4 1177.5,1268.3 1178.7,1269.9 1179.9,1269.3 1181.2,1268.6 1182.4,1269.3 1183.6,1270.4 1184.7,1268.9 1185.9,1269.4 1187.1,1269.1 1188.2,1268.1 1189.4,1268.2 1190.5,1269.4 1191.6,1267.2 1192.7,1267.8 1193.7,1268.0 1194.8,1268.2 1196.2,1267.7 1197.6,1268.2 1198.9,1266.7 1200.3,1267.2 1201.6,1266.9 1202.9,1269.2 1204.1,1267.4 1205.4,1267.8 1206.6,1268.5 1207.9,1268.3 1209.1,1268.6 1210.3,1267.5 1211.5,1266.9 1212.6,1268.1 1213.8,1267.1 1215.0,1266.6 1216.2,1268.3 1217.5,1267.3 1218.7,1266.5 1219.9,1265.9 1221.2,1266.2 1222.4,1265.0 1223.5,1265.0 1224.7,1263.2 1225.8,1261.8 1227.0,1261.7 1228.1,1262.1 1229.1,1261.4 1230.2,1262.1 1231.2,1259.9 1232.3,1258.6 1233.4,1259.8 1234.4,1257.9 1235.4,1257.6 1236.3,1257.5 1237.3,1256.3 1238.2,1252.4 1239.1,1253.8 1240.1,1253.9 1241.0,1251.6 1242.0,1250.6 1242.8,1249.4 1243.6,1249.4 1244.4,1249.3 1245.1,1246.5 1245.9,1245.5 1246.7,1247.8 1247.5,1245.1 1248.2,1243.1 1249.0,1241.4 1249.9,1240.5 1250.7,1239.8 1251.6,1238.2 1252.5,1239.0 1253.4,1236.8 1254.4,1237.0 1255.4,1236.9 1256.5,1234.8 1257.6,1234.5 1258.9,1234.3 1260.1,1235.7 1261.4,1234.2 1262.8,1234.2 1264.1,1235.5 1265.5,1234.6 1266.8,1233.7 1268.2,1233.1 1269.5,1234.2 1270.8,1234.4 1272.1,1233.9 1273.3,1232.8 1274.5,1235.6 1275.6,1236.9 1276.7,1236.2 1277.7,1238.5 1278.7,1235.0 1279.6,1236.8 1280.5,1237.7 1281.4,1240.1 1282.2,1239.7 1283.1,1241.4 1283.9,1241.7 1284.8,1245.0 1285.6,1243.8 1286.4,1245.8 1287.3,1245.6 1288.2,1247.9 1289.1,1248.1 1290.0,1249.2 1291.0,1249.4 1291.9,1250.4 1292.9,1251.1 1293.8,1252.5 1294.8,1253.2 1295.7,1253.2 1296.7,1254.9 1297.6,1256.0 1298.6,1257.3 1299.6,1258.2 1300.6,1258.1 1301.5,1257.4 1302.5,1260.4 1303.5,1260.5 1304.6,1262.5 1305.6,1264.1 1306.7,1264.6 1307.7,1261.6 1308.8,1264.2 1309.8,1264.0 1310.9,1265.4 1312.0,1264.0 1313.1,1266.2 1314.3,1266.7 1315.6,1266.2 1316.9,1267.7 1317.9,1267.2 1319.0,1269.1 1320.1,1267.6 1321.2,1269.3 1322.4,1267.7 1323.6,1268.7 1324.9,1266.7 1326.1,1269.6 1327.4,1269.4 1328.7,1268.5 1330.0,1270.5 1331.3,1269.0 1332.6,1267.5 1333.9,1269.7 1335.2,1269.7 1336.5,1268.0 1337.8,1269.3 1339.1,1268.0 1340.3,1269.6 1341.6,1269.0 1342.7,1270.4 1343.9,1269.4 1345.3,1270.3 1346.6,1268.6 1348.0,1269.7 1349.3,1269.7 1350.7,1269.4 1352.0,1268.3 1353.4,1267.7 1354.7,1267.4 1356.0,1267.8 1357.3,1267.8 1358.5,1269.4 1359.7,1268.4 1360.9,1267.3 1362.0,1266.5 1363.1,1267.4 1364.1,1267.3 1365.5,1265.2 1366.7,1267.6 1367.9,1265.2 1369.0,1264.8 1370.1,1266.9 1371.2,1263.0 1372.3,1263.9 1373.5,1263.5 1374.6,1263.5 1375.6,1264.1 1376.7,1265.0 1377.8,1263.3 1378.9,1263.1 1380.0,1265.7 1381.1,1266.4 1382.2,1269.0 1383.2,1267.4 1384.3,1268.3 1385.4,1268.5 1386.4,1269.6 1387.4,1271.5 1388.3,1272.5 1389.3,1272.0 1390.4,1271.9 1391.4,1274.7 1392.5,1274.5 1393.7,1275.5 1395.0,1277.0 1396.0,1276.6 1397.0,1275.3 1398.1,1275.0 1399.2,1277.0 1400.4,1275.1 1401.6,1277.5 1402.8,1275.9 1404.0,1276.2 1405.3,1275.3 1406.6,1275.1 1407.9,1275.1 1409.2,1276.2 1410.4,1275.7 1411.7,1274.3 1413.0,1274.5 1414.3,1273.7 1415.5,1274.8 1416.7,1274.4 1417.9,1275.2 1419.2,1273.1 1420.5,1271.9 1421.8,1273.4 1423.0,1275.6 1424.3,1273.3 1425.6,1274.8 1426.8,1275.6 1428.1,1274.1 1429.3,1275.4 1430.6,1276.1 1431.8,1273.5 1433.1,1276.0 1434.3,1275.8 1435.6,1276.7 1436.8,1276.0 1438.1,1278.0 1439.4,1276.2 1440.7,1277.6 1442.0,1276.2 1443.3,1276.0 1444.6,1273.9 1445.9,1276.3 1447.2,1274.5 1448.5,1274.6 1449.8,1276.7 1451.1,1274.9 1452.3,1274.1 1453.6,1274.2 1454.8,1274.2 1456.0,1273.9 1457.2,1274.3 1458.3,1276.6 1459.5,1273.3 1460.7,1273.8 1461.8,1272.0 1462.8,1272.7 1463.9,1271.3 1464.9,1270.3 1466.0,1271.7 1467.0,1270.8 1468.1,1269.9 1469.3,1268.6 1470.5,1269.4 1471.8,1269.5 1472.8,1267.8 1473.9,1268.6 1475.0,1268.2 1476.1,1267.9 1477.3,1267.9 1478.4,1266.4 1479.6,1267.8 1480.9,1266.2 1482.1,1266.5 1483.4,1265.7 1484.6,1268.2 1485.9,1267.0 1487.2,1264.4 1488.5,1266.3 1489.8,1266.0 1491.1,1265.8 1492.4,1266.2 1493.7,1263.8 1494.9,1265.3 1496.2,1266.1 1497.5,1265.5 1498.7,1264.9 1499.9,1264.0 1501.1,1264.1 1502.4,1264.2 1503.6,1266.3 1504.8,1263.1 1506.1,1265.5 1507.3,1266.5 1508.5,1264.8 1509.8,1266.1 1511.0,1265.6 1512.2,1267.4 1513.5,1266.9 1514.7,1265.4 1515.9,1266.7 1517.1,1267.8 1518.4,1266.9 1519.6,1267.5 1520.8,1266.2 1522.0,1266.2 1523.2,1268.5 1524.4,1268.2 1525.6,1266.8 1526.8,1266.9 1528.1,1267.4 1529.3,1268.2 1530.5,1268.5 1531.7,1267.0 1532.9,1268.0 1534.1,1267.4 1535.2,1267.3 1536.4,1267.3 1537.6,1268.0 1538.8,1267.8 1540.0,1267.1 1541.2,1268.1 1542.4,1267.9 1543.6,1267.6 1544.9,1268.2 1546.1,1267.2 1547.4,1268.0 1548.7,1267.7 1550.0,1268.7 1551.1,1268.5 1552.2,1269.6 1553.4,1270.3 1554.5,1267.8 1555.7,1269.3 1556.9,1269.8 1558.1,1268.2 1559.3,1267.8 1560.6,1269.3 1561.8,1268.7 1563.0,1269.7 1564.3,1270.1 1565.5,1268.8 1566.8,1270.1 1568.0,1271.4 1569.3,1269.8 1570.6,1269.2 1571.8,1271.6 1573.0,1270.1 1574.3,1269.6 1575.5,1269.1 1576.7,1268.9 1577.9,1272.7 1579.1,1269.1 1580.3,1269.1 1581.5,1268.0 1582.7,1268.9 1583.8,1270.7 1584.9,1272.1 1586.3,1272.3 1587.6,1269.9 1588.9,1271.2 1590.3,1272.5 1591.6,1270.1 1592.9,1271.6 1594.2,1271.4 1595.5,1270.8 1596.7,1272.3 1598.0,1272.4 1599.3,1271.3 1600.5,1269.8 1601.7,1272.4 1602.9,1270.5 1604.2,1270.9 1605.3,1270.9 1606.5,1272.6 1607.7,1272.6 1608.9,1273.9 1610.0,1272.7 1611.3,1271.9 1612.6,1273.2 1613.8,1273.0 1615.0,1275.2 1616.1,1273.6 1617.3,1273.6 1618.4,1274.1 1619.6,1273.0 1620.7,1274.3 1622.0,1274.5 1623.2,1276.4 1624.5,1276.0 1625.9,1274.5 1627.4,1275.2 1628.4,1276.0 1629.3,1275.1 1630.4,1275.7 1631.4,1273.2 1632.5,1274.7 1633.6,1276.1 1634.7,1275.4 1635.8,1276.2 1637.0,1277.1 1638.2,1277.1 1639.4,1275.8 1640.6,1276.3 1641.8,1276.2 1643.0,1277.0 1644.3,1274.7 1645.6,1277.0 1646.8,1275.5 1648.1,1274.4 1649.4,1274.4 1650.7,1276.9 1652.0,1276.5 1653.3,1276.7 1654.6,1275.3 1655.9,1276.5 1657.2,1275.4 1658.5,1275.6 1659.8,1275.5 1661.1,1274.9 1662.4,1275.8 1663.7,1275.4 1664.9,1275.4 1666.2,1276.1 1667.4,1274.6 1668.7,1277.0 1669.9,1274.7 1671.1,1275.6 1672.3,1274.6 1673.5,1276.1 1674.7,1275.3 1676.0,1276.5 1677.2,1275.6 1678.4,1275.6 1679.6,1276.0 1680.8,1276.0 1682.0,1275.6 1683.2,1275.2 1684.4,1275.5 1685.7,1275.3 1686.9,1274.6 1688.1,1274.6 1689.3,1276.8 1690.5,1275.4 1691.7,1277.3 1692.9,1275.1 1694.1,1277.3 1695.3,1275.6 1696.6,1275.7 1697.8,1277.1 1699.0,1275.5 1700.2,1276.4 1701.4,1276.9 1702.6,1275.9 1703.8,1276.1 1705.0,1276.9 1706.2,1275.7 1707.5,1275.6 1708.7,1276.8 1709.9,1275.9 1711.1,1276.9 1712.3,1277.3 1713.5,1275.3 1714.7,1276.5 1715.9,1275.6 1717.2,1276.5 1718.4,1275.7 1719.6,1275.6 1720.8,1275.1 1722.0,1277.0 1723.2,1276.8 1724.4,1276.9 1725.7,1276.2 1726.9,1276.4 1728.1,1276.5 1729.3,1276.9 1730.5,1276.3 1731.7,1276.4 1732.9,1275.5 1734.2,1275.5 1735.4,1276.0 1736.6,1279.2 1737.8,1276.6 1739.0,1277.0 1740.2,1276.4 1741.4,1277.2 1742.7,1277.2 1743.9,1277.4 1745.1,1277.1 1746.3,1278.0 1747.5,1276.3 1748.7,1278.1 1749.9,1278.1 1751.2,1277.9 1752.4,1276.9 1753.6,1277.2 1754.8,1276.1 1756.0,1277.8 1757.2,1278.0 1758.4,1278.6 1759.6,1278.6 1760.9,1277.0 1762.1,1278.4 1763.3,1276.9 1764.5,1276.4 1765.7,1277.9 1766.9,1277.1 1768.1,1277.4 1769.3,1278.1 1770.5,1277.2 1771.8,1276.5 1773.0,1277.9 1774.2,1276.9 1775.4,1277.4 1776.6,1277.3 1777.8,1276.5 1779.0,1277.1 1780.2,1275.9 1781.4,1277.2 1782.7,1278.7 1783.9,1277.7 1785.1,1278.8 1786.3,1277.5 1787.5,1277.5 1788.7,1279.1 1789.9,1278.4 1791.1,1277.5 1792.4,1278.0 1793.6,1277.9 1794.8,1278.5 1796.0,1278.9 1797.2,1276.9 1798.4,1277.7 1799.6,1278.7 1800.8,1277.3 1802.0,1278.2 1803.2,1277.5 1804.4,1279.0 1805.6,1277.9 1806.8,1277.0 1808.0,1279.1 1809.2,1278.5 1810.3,1278.6 1811.5,1278.3 1812.7,1277.0 1813.9,1279.4 1815.1,1276.9 1816.3,1277.5 1817.5,1277.1 1818.6,1278.6 1819.8,1276.6 1821.0,1277.9 1822.2,1274.9 1823.4,1277.8 1824.7,1277.0 1825.9,1277.6 1827.1,1277.0 1828.3,1278.2 1829.6,1276.0 1830.8,1277.6 1832.0,1278.8 1833.3,1276.4 1834.6,1277.6 1835.8,1276.6 1837.1,1276.3 1838.4,1276.2 1839.7,1276.6 1840.8,1276.6 1842.0,1278.0 1843.1,1277.7 1844.3,1279.4 1845.4,1276.9 1846.6,1278.0 1847.8,1278.4 1849.0,1276.8 1850.1,1277.8 1851.3,1278.5 1852.5,1275.3 1853.7,1276.0 1854.9,1277.6 1856.1,1277.4 1857.4,1274.8 1858.6,1277.0 1859.8,1276.4 1861.0,1277.9 1862.3,1278.3 1863.5,1277.2 1864.7,1277.7 1866.0,1278.2 1867.2,1277.4 1868.4,1274.9 1869.7,1278.1 1870.9,1277.6 1872.2,1278.0 1873.4,1277.5 1874.7,1277.4 1875.9,1278.1 1877.2,1277.8 1878.4,1277.0 1879.7,1275.5 1880.9,1279.2 1882.2,1277.5 1883.4,1277.9 1884.7,1277.9 1885.9,1277.6 1887.1,1277.8 1888.4,1278.4 1889.6,1276.9 1890.9,1277.5 1892.1,1277.1 1893.3,1277.6 1894.6,1278.6 1895.8,1276.8 1897.0,1278.6" fill="none" stroke="#4F4F4F" stroke-width="11.5" stroke-linejoin="round"/></g>
<rect x="146" y="35" width="1749" height="1289.7" fill="none" stroke="#000" stroke-width="10"/>
<g fill="#000">
<rect x="141.0" y="1320" width="10" height="28"/>
<rect x="250.3" y="1320" width="10.5" height="16"/>
<rect x="359.6" y="1320" width="10" height="28"/>
<rect x="468.9" y="1320" width="10.5" height="16"/>
<rect x="578.2" y="1320" width="10" height="28"/>
<rect x="687.6" y="1320" width="10.5" height="16"/>
<rect x="796.9" y="1320" width="10" height="28"/>
<rect x="906.2" y="1320" width="10.5" height="16"/>
<rect x="1015.5" y="1320" width="10" height="28"/>
<rect x="1124.8" y="1320" width="10.5" height="16"/>
<rect x="1234.1" y="1320" width="10" height="28"/>
<rect x="1343.4" y="1320" width="10.5" height="16"/>
<rect x="1452.8" y="1320" width="10" height="28"/>
<rect x="1562.1" y="1320" width="10.5" height="16"/>
<rect x="1671.4" y="1320" width="10" height="28"/>
<rect x="1780.7" y="1320" width="10.5" height="16"/>
<rect x="1890.0" y="1320" width="10" height="28"/>
</g>
<text x="146.5" y="1409" text-anchor="middle" class="tk">10</text>
<text x="365.1" y="1409" text-anchor="middle" class="tk">20</text>
<text x="583.8" y="1409" text-anchor="middle" class="tk">30</text>
<text x="802.4" y="1409" text-anchor="middle" class="tk">40</text>
<text x="1021.0" y="1409" text-anchor="middle" class="tk">50</text>
<text x="1239.6" y="1409" text-anchor="middle" class="tk">60</text>
<text x="1458.2" y="1409" text-anchor="middle" class="tk">70</text>
<text x="1676.9" y="1409" text-anchor="middle" class="tk">80</text>
<text x="1895.5" y="1409" text-anchor="middle" class="tk">90</text>
<text x="1203.9" y="379.3" class="lb" textLength="447.1" lengthAdjust="spacingAndGlyphs">Cu:Ni:Al=1:2:1</text>
<text x="1201.6" y="709.4" class="lb" textLength="449.1" lengthAdjust="spacingAndGlyphs">Cu:Ni:Al=1:3:2</text>
<text x="1209.2" y="958.7" class="lb" textLength="449.3" lengthAdjust="spacingAndGlyphs">Cu:Ni:Al=3:3:2</text>
<text x="1209.3" y="1174.2" class="lb" textLength="445.4" lengthAdjust="spacingAndGlyphs">Cu:Ni:Al=5:3:2</text>
<text x="184.0" y="175.3" dx="0 1 0 0 6" class="ml">（003）</text>
<text x="416.0" y="330.7" dx="0 1 0 0 4.6" class="ml">（006）</text>
<text x="667.0" y="380.6" dx="0 1 0 0 5" class="ml">（012）</text>
<text x="722.7" y="438.7" dx="0 1 0 0 5.4" class="ml">（015）</text>
<text x="892.6" y="446.5" dx="0 1 0 0 6" class="ml">（018）</text>
<text x="1100.5" y="453.7" dx="0 0 2 2 7.7" class="ml">（110）</text>
<text x="1271.4" y="449.4" dx="0 0 2 2 9" class="ml">（113）</text>
<text x="864.9" y="1492.3" class="ax" textLength="305.9" lengthAdjust="spacingAndGlyphs">2θ(degree)</text>
<text transform="translate(65,879) rotate(-90)" x="0" y="0" class="ax" style="font-size:67px">Intensity(a.u.)</text>
</svg>
</body></html>
